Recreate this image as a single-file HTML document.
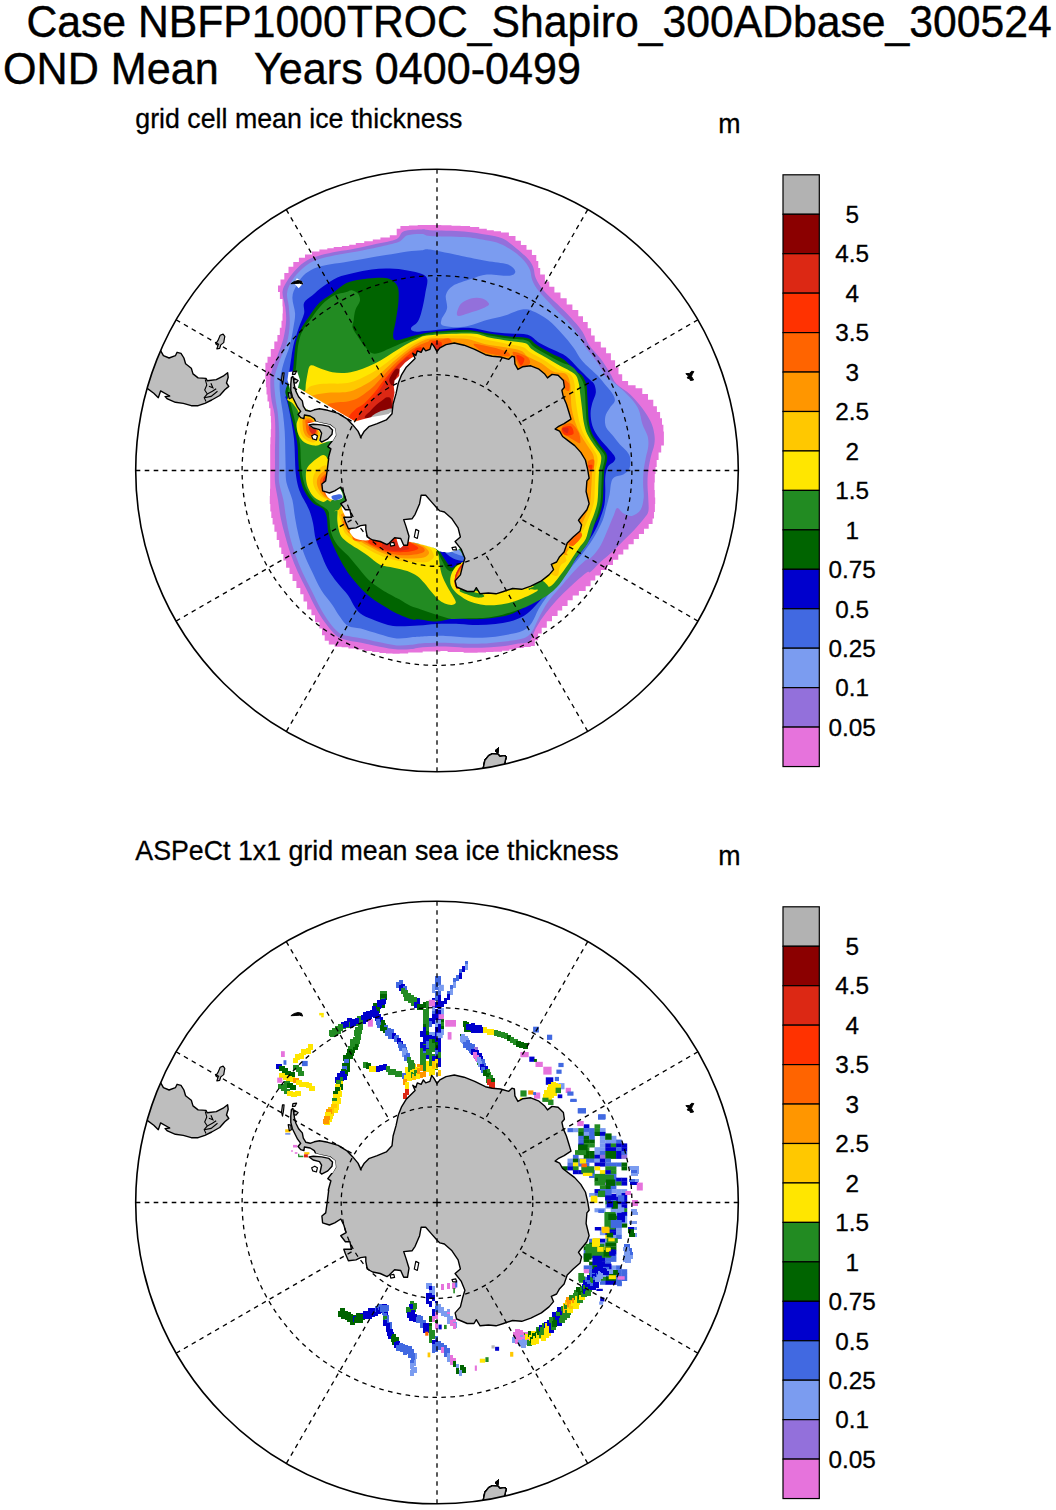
<!DOCTYPE html>
<html><head><meta charset="utf-8"><title>ice thickness</title>
<style>html,body{margin:0;padding:0;background:#fff}svg{display:block}text{font-family:"Liberation Sans",sans-serif;fill:#000}</style></head>
<body>
<svg width="1056" height="1510" viewBox="0 0 1056 1510">
<rect width="1056" height="1510" fill="#fff"/>
<defs><clipPath id="c1"><circle cx="437.0" cy="470.5" r="301.3"/></clipPath><clipPath id="c2"><circle cx="437.0" cy="1202.5" r="301.3"/></clipPath></defs>
<text transform="translate(26.4,37.3) scale(0.949,1)" font-size="45" stroke="#000" stroke-width="0.4" xml:space="preserve">Case NBFP1000TROC_Shapiro_300ADbase_300524</text>
<text transform="translate(3.0,84.2) scale(0.959,1)" font-size="45" stroke="#000" stroke-width="0.4" xml:space="preserve">OND Mean   Years 0400-0499</text>
<text transform="translate(135.3,127.7) scale(0.946,1)" font-size="28.3" stroke="#000" stroke-width="0.3" xml:space="preserve">grid cell mean ice thickness</text>
<text transform="translate(718.2,132.8) scale(0.946,1)" font-size="28.3" stroke="#000" stroke-width="0.3" xml:space="preserve">m</text>
<text transform="translate(135.3,859.7) scale(0.946,1)" font-size="28.3" stroke="#000" stroke-width="0.3" xml:space="preserve">ASPeCt 1x1 grid mean sea ice thickness</text>
<text transform="translate(718.2,864.8) scale(0.946,1)" font-size="28.3" stroke="#000" stroke-width="0.3" xml:space="preserve">m</text>
<g clip-path="url(#c1)">
<path d="M265.4,369.3L265.4,362.8L267.5,362.8L267.5,356.8L270.8,356.8L270.8,349.0L274.3,349.0L274.3,341.5L277.4,341.5L277.4,335.1L279.8,335.1L279.8,327.8L281.5,327.8L281.5,320.8L282.5,320.8L282.5,313.6L282.8,313.6L282.8,306.4L282.5,306.4L282.5,299.1L279.9,299.1L279.9,292.0L278.0,292.0L278.0,285.6L280.5,285.6L280.5,279.4L284.3,279.4L284.3,272.9L288.5,272.9L288.5,266.8L293.3,266.8L293.3,262.0L298.9,262.0L298.9,257.8L305.0,257.8L305.0,254.4L312.0,254.4L312.0,251.5L319.4,251.5L319.4,249.5L327.3,249.5L327.3,248.2L333.7,248.2L333.7,246.9L341.9,246.9L341.9,245.9L349.2,245.9L349.2,244.8L355.8,244.8L355.8,243.1L364.2,243.1L364.2,241.2L372.8,241.2L372.8,239.5L380.4,239.5L380.4,237.4L389.8,237.4L389.8,235.3L396.7,235.3L396.7,228.8L400.4,228.8L400.4,226.1L408.9,226.1L408.9,225.6L417.7,225.6L417.7,225.1L424.6,225.1L424.6,225.1L432.8,225.1L441.3,225.1L441.3,225.3L451.5,225.3L451.5,225.7L460.7,225.7L460.7,226.1L470.1,226.1L470.1,227.1L479.2,227.1L479.2,228.8L486.8,228.8L486.8,230.2L493.8,230.2L493.8,231.2L501.0,231.2L501.0,232.4L508.9,232.4L508.9,235.9L515.5,235.9L515.5,240.7L520.9,240.7L520.9,245.0L526.5,245.0L526.5,249.7L531.9,249.7L531.9,255.0L536.3,255.0L536.3,261.0L538.3,261.0L538.3,268.0L540.2,268.0L540.2,274.5L544.9,274.5L544.9,281.4L549.3,281.4L549.3,286.8L554.4,286.8L554.4,292.4L560.5,292.4L560.5,298.2L566.7,298.2L566.7,304.4L572.4,304.4L572.4,310.0L578.3,310.0L578.3,316.3L583.0,316.3L583.0,321.9L587.7,321.9L587.7,328.3L591.1,328.3L591.1,335.6L594.7,335.6L594.7,341.8L600.8,341.8L600.8,347.6L606.1,347.6L606.1,353.2L610.9,353.2L610.9,360.2L615.1,360.2L615.1,367.2L618.5,367.2L618.5,374.3L622.2,374.3L622.2,380.9L628.1,380.9L628.1,385.2L635.6,385.2L635.6,388.3L642.3,388.3L642.3,393.9L648.0,393.9L648.0,399.7L653.3,399.7L653.3,406.3L656.9,406.3L656.9,411.9L660.1,411.9L660.1,418.2L662.0,418.2L662.0,424.7L663.4,424.7L663.4,431.4L663.9,431.4L663.9,438.1L663.9,445.6L661.2,445.6L661.2,452.5L658.6,452.5L658.6,459.9L656.7,459.9L656.7,467.1L655.5,467.1L655.5,474.1L654.8,474.1L654.8,482.6L654.4,482.6L654.4,490.0L654.8,490.0L654.8,497.4L655.2,497.4L655.2,504.1L654.9,504.1L654.9,512.1L654.0,512.1L654.0,518.5L652.6,518.5L652.6,524.1L648.7,524.1L648.7,528.8L644.0,528.8L644.0,534.0L638.9,534.0L638.9,539.1L633.7,539.1L633.7,544.3L628.5,544.3L628.5,549.5L623.3,549.5L623.3,554.6L618.3,554.6L618.3,559.8L613.0,559.8L613.0,565.0L607.0,565.0L607.0,570.1L601.0,570.1L601.0,575.6L595.3,575.6L595.3,580.5L590.6,580.5L590.6,586.2L585.7,586.2L585.7,590.9L578.9,590.9L578.9,595.5L572.7,595.5L572.7,600.3L567.6,600.3L567.6,605.9L562.2,605.9L562.2,610.6L557.6,610.6L557.6,615.9L552.0,615.9L552.0,621.2L546.8,621.2L546.8,627.8L541.7,627.8L541.7,633.5L538.1,633.5L538.1,640.2L534.8,640.2L534.8,646.0L530.7,646.0L530.7,647.1L523.7,647.1L523.7,648.1L516.4,648.1L516.4,649.5L509.3,649.5L509.3,650.8L502.0,650.8L502.0,651.7L493.4,651.7L493.4,652.1L486.0,652.1L486.0,652.5L477.6,652.5L477.6,652.7L470.2,652.7L470.2,652.7L463.6,652.7L463.6,651.9L454.8,651.9L447.6,651.9L447.6,651.2L447.6,651.1L440.4,651.1L440.4,651.4L430.9,651.4L422.7,651.4L422.7,651.8L422.7,652.6L415.6,652.6L408.2,652.6L408.2,653.5L399.7,653.5L399.7,653.8L392.5,653.8L392.5,653.5L385.9,653.5L385.9,652.9L379.4,652.9L379.4,652.1L372.1,652.1L372.1,650.9L363.7,650.9L363.7,649.6L356.2,649.6L356.2,648.5L348.4,648.5L348.4,647.3L341.6,647.3L341.6,646.7L334.7,646.7L334.7,644.5L328.8,644.5L328.8,640.8L324.7,640.8L324.7,635.3L322.0,635.3L322.0,628.4L319.4,628.4L319.4,622.3L315.0,622.3L315.0,615.2L311.4,615.2L311.4,609.6L307.1,609.6L307.1,601.6L303.5,601.6L303.5,594.2L300.3,594.2L300.3,588.0L296.4,588.0L296.4,581.0L292.5,581.0L292.5,573.9L289.5,573.9L289.5,567.8L286.1,567.8L286.1,560.5L283.4,560.5L283.4,554.0L281.3,554.0L281.3,547.4L279.2,547.4L279.2,540.1L276.7,540.1L276.7,531.8L274.4,531.8L274.4,524.5L272.6,524.5L272.6,518.0L271.3,518.0L271.3,511.4L270.3,511.4L270.3,504.1L269.8,504.1L269.8,495.9L270.0,495.9L270.0,488.7L270.2,488.7L270.2,480.4L270.2,480.4L270.2,473.7L270.2,473.7L270.2,467.1L270.2,459.0L270.2,459.0L270.2,452.1L270.2,452.1L270.2,444.2L270.4,444.2L270.4,437.3L270.8,437.3L270.8,429.3L271.1,429.3L271.1,422.6L270.9,422.6L270.9,415.9L270.4,415.9L270.4,408.3L269.1,408.3L269.1,401.6L267.5,401.6L267.5,394.4L266.5,394.4L266.5,387.2L265.9,387.2L265.9,379.1L265.3,379.1L265.3,372.0L265.2,372.0L265.2,369.3Z" fill="#e673dc"/>
<path d="M270.8,374.7C271.8,368.0 275.0,362.7 277.1,356.7C279.2,350.7 281.9,344.7 283.4,338.7C284.9,332.8 285.8,326.2 286.1,320.8C286.4,315.4 285.8,311.2 285.2,306.4C284.6,301.6 282.2,296.2 282.5,292.0C282.8,287.8 284.7,284.9 287.0,281.2C289.2,277.4 292.7,272.9 296.0,269.5C299.3,266.0 302.6,262.9 306.8,260.5C311.0,258.1 316.1,256.6 321.2,255.1C326.3,253.6 331.7,252.6 337.4,251.5C343.1,250.4 348.8,249.7 355.4,248.4C362.0,247.1 370.1,245.3 376.9,243.7C383.8,242.2 392.2,241.0 396.7,238.9C401.2,236.8 399.7,232.7 403.9,231.2C408.1,229.6 417.6,229.5 421.9,229.4C426.3,229.2 423.0,229.9 430.0,230.2C437.0,230.6 454.6,230.6 464.1,231.4C473.6,232.1 480.4,233.6 486.8,234.8C493.3,236.0 497.8,236.4 502.7,238.6C507.7,240.9 512.2,245.1 516.4,248.4C520.5,251.7 524.9,255.4 527.7,258.6C530.6,261.9 532.1,264.5 533.4,267.7C534.7,270.9 534.0,274.2 535.7,278.0C537.4,281.7 540.0,286.1 543.6,290.5C547.2,294.8 552.7,299.5 557.3,304.1C561.8,308.6 566.7,313.2 570.9,317.7C575.1,322.3 579.2,326.8 582.3,331.4C585.3,335.9 586.1,340.5 589.1,345.0C592.1,349.5 597.0,354.1 600.5,358.6C603.9,363.2 606.9,368.0 609.5,372.3C612.2,376.5 613.0,380.4 616.5,384.1C619.9,387.8 625.9,390.4 630.2,394.4C634.5,398.5 638.8,403.6 642.3,408.2C645.7,412.8 648.9,417.7 650.9,422.0C652.9,426.3 653.8,430.3 654.3,434.1C654.9,437.8 654.9,440.7 654.3,444.4C653.8,448.1 651.9,452.1 650.9,456.5C649.9,460.8 648.9,465.6 648.3,470.2C647.7,474.8 647.5,479.1 647.5,484.0C647.5,488.9 648.2,494.9 648.3,499.5C648.5,504.1 649.0,508.4 648.3,511.6C647.6,514.7 646.4,515.3 644.0,518.5C641.6,521.6 637.1,526.8 633.7,530.5C630.2,534.2 626.8,537.4 623.3,540.8C619.9,544.3 616.7,547.7 613.0,551.2C609.3,554.6 604.7,558.1 601.0,561.5C597.2,565.0 593.0,570.0 590.6,571.8C588.2,573.7 589.7,570.3 586.4,572.7C583.0,575.1 575.4,581.8 570.5,586.4C565.5,590.9 561.0,595.5 556.8,600.0C552.7,604.5 548.9,609.1 545.5,613.6C542.0,618.2 539.0,622.7 536.4,627.3C533.7,631.8 532.6,638.2 529.5,640.9C526.5,643.6 523.1,642.7 518.2,643.6C513.3,644.6 506.1,645.9 500.0,646.6C493.9,647.3 487.9,647.5 481.8,647.7C475.8,647.9 469.7,647.9 463.6,647.7C457.6,647.5 452.3,646.7 445.5,646.6C438.6,646.5 428.7,646.8 422.7,647.3C416.7,647.7 414.3,649.1 409.3,649.3C404.4,649.6 398.8,649.6 393.1,649.0C387.4,648.4 381.1,646.9 375.1,645.7C369.2,644.6 362.3,643.2 357.2,642.1C352.1,641.1 348.2,640.6 344.6,639.4C341.0,638.2 338.9,637.8 335.6,634.9C332.3,632.1 328.1,626.8 324.8,622.3C321.5,617.8 318.8,613.4 315.8,608.0C312.8,602.6 309.8,596.0 306.8,590.0C303.8,584.0 300.5,578.0 297.8,572.0C295.1,566.0 292.7,560.0 290.6,554.0C288.5,548.0 286.8,542.0 285.2,536.0C283.5,530.0 281.9,524.0 280.7,518.0C279.5,512.0 278.9,506.0 278.0,500.0C277.0,494.0 275.5,488.1 275.0,482.3C274.5,476.5 275.0,470.9 275.0,465.2C275.0,459.5 274.9,453.9 275.0,448.2C275.1,442.5 275.4,436.8 275.3,431.1C275.3,425.5 275.2,419.8 274.5,414.1C273.8,408.4 271.7,403.6 271.1,397.0C270.5,390.5 269.8,381.4 270.8,374.7Z" fill="#9370db"/>
<path d="M274.4,378.3C275.1,372.2 277.7,366.3 279.8,360.3C281.9,354.3 285.3,348.3 287.0,342.3C288.6,336.3 289.4,330.4 289.7,324.4C290.0,318.4 289.2,311.5 288.8,306.4C288.3,301.3 286.7,297.7 287.0,293.8C287.3,289.9 288.6,286.6 290.6,283.0C292.5,279.4 295.5,275.5 298.7,272.2C301.8,268.9 305.4,265.5 309.5,263.2C313.5,260.8 318.0,259.6 323.0,258.1C327.9,256.7 333.5,255.7 339.2,254.5C344.9,253.4 350.6,252.7 357.2,251.5C363.8,250.2 371.9,248.6 378.7,247.0C385.6,245.4 393.7,243.9 398.5,242.0C403.3,240.0 403.6,236.6 407.5,235.3C411.4,234.0 418.2,233.9 421.9,234.0C425.7,234.1 423.0,235.4 430.0,235.9C437.0,236.4 455.0,236.4 464.1,237.0C473.2,237.7 478.5,238.9 484.5,240.0C490.6,241.1 495.5,241.9 500.5,243.9C505.4,245.8 510.1,249.0 514.1,251.8C518.1,254.7 521.7,257.9 524.3,260.9C527.0,263.9 528.7,266.8 530.0,270.0C531.3,273.2 530.8,276.6 532.3,280.2C533.8,283.8 535.7,287.2 539.1,291.6C542.5,295.9 548.2,301.6 552.7,306.4C557.3,311.1 562.2,315.5 566.4,320.0C570.5,324.5 574.5,329.1 577.7,333.6C580.9,338.2 582.5,342.5 585.7,347.3C588.9,352.0 593.6,357.1 597.0,362.0C600.5,367.0 604.1,374.0 606.1,376.8C608.2,379.6 607.0,376.9 609.6,378.9C612.1,381.0 617.9,385.8 621.6,389.3C625.4,392.7 629.1,396.2 632.0,399.6C634.8,403.1 637.1,405.9 638.8,409.9C640.6,414.0 640.9,419.4 642.3,423.7C643.7,428.0 646.4,432.1 647.5,435.8C648.5,439.5 648.6,442.4 648.3,446.1C648.0,449.8 646.5,454.2 645.7,458.2C645.0,462.2 644.1,465.9 643.7,470.2C643.2,474.5 643.1,479.4 643.1,484.0C643.1,488.6 644.1,493.5 643.7,497.8C643.2,502.1 642.5,506.8 640.6,509.8C638.6,512.9 634.8,515.3 632.0,515.9C629.1,516.4 625.8,514.6 623.3,513.3C620.9,512.0 618.9,507.8 617.3,508.1C615.7,508.4 615.2,512.1 613.9,515.0C612.6,517.9 611.1,521.6 609.6,525.3C608.0,529.1 606.1,533.7 604.4,537.4C602.7,541.1 601.5,544.3 599.2,547.7C596.9,551.2 593.1,555.8 590.6,558.1C588.1,560.3 587.1,558.9 584.1,561.4C581.1,563.8 576.9,568.2 572.7,572.7C568.6,577.3 563.3,583.7 559.1,588.6C554.9,593.6 551.1,597.3 547.7,602.3C544.3,607.2 541.3,613.3 538.6,618.2C536.0,623.1 534.5,628.4 531.8,631.8C529.2,635.2 528.0,636.9 522.7,638.6C517.4,640.3 506.8,641.2 500.0,642.0C493.2,642.9 487.9,643.4 481.8,643.6C475.8,643.9 469.7,643.8 463.6,643.6C457.6,643.5 452.3,642.8 445.5,642.7C438.6,642.7 428.4,642.8 422.7,643.2C417.0,643.5 415.5,644.5 411.1,644.8C406.8,645.2 402.1,645.8 396.7,645.4C391.3,644.9 384.7,643.3 378.7,642.1C372.8,640.9 366.2,639.2 360.8,638.2C355.4,637.1 350.0,636.7 346.4,635.8C342.8,635.0 342.0,635.4 339.2,633.1C336.3,630.9 332.4,626.5 329.3,622.3C326.1,618.1 323.3,613.4 320.3,608.0C317.3,602.6 314.3,596.0 311.3,590.0C308.3,584.0 305.0,578.0 302.3,572.0C299.6,566.0 297.2,560.0 295.1,554.0C293.0,548.0 291.2,542.0 289.7,536.0C288.2,530.0 287.1,524.0 286.1,518.0C285.0,512.0 284.6,506.0 283.4,500.0C282.2,494.0 279.8,488.1 279.1,482.3C278.4,476.5 279.1,470.9 279.1,465.2C279.1,459.5 279.1,453.9 279.1,448.2C279.1,442.5 279.3,436.8 279.1,431.1C278.9,425.5 278.5,419.8 277.9,414.1C277.3,408.4 275.9,403.0 275.3,397.0C274.8,391.1 273.7,384.4 274.4,378.3Z" fill="#7b9cf0"/>
<path d="M279.8,381.9C280.3,376.4 281.7,369.9 283.4,363.9C285.0,357.9 288.0,351.9 289.7,345.9C291.3,339.9 292.4,333.4 293.3,328.0C294.2,322.6 295.2,318.7 295.1,313.6C294.9,308.5 292.2,301.9 292.4,297.4C292.5,292.9 294.2,290.2 296.0,286.6C297.8,283.0 300.2,278.8 303.2,275.8C306.2,272.8 310.1,270.4 314.0,268.6C317.9,266.8 321.5,266.0 326.6,265.0C331.7,263.9 338.3,263.3 344.6,262.3C350.9,261.2 357.5,259.9 364.4,258.7C371.3,257.5 378.7,256.3 385.9,255.1C393.1,253.9 401.5,252.3 407.5,251.5C413.5,250.7 418.2,250.6 421.9,250.2C425.7,249.9 423.0,248.5 430.0,249.5C437.0,250.6 454.6,254.5 464.1,256.4C473.6,258.3 479.6,259.6 486.8,260.9C494.0,262.2 502.5,262.6 507.3,264.3C512.0,266.0 514.8,269.2 515.2,271.1C515.6,273.0 514.3,275.1 509.5,275.7C504.8,276.2 493.3,274.0 486.8,274.5C480.4,275.1 476.6,277.2 470.9,279.1C465.2,281.0 456.9,283.3 452.7,285.9C448.6,288.6 446.9,291.2 445.9,295.0C445.0,298.8 447.8,304.5 447.0,308.6C446.3,312.8 441.9,317.2 441.4,320.0C440.8,322.8 439.8,324.5 443.6,325.7C447.4,326.8 456.9,327.8 464.1,326.8C471.3,325.9 480.0,321.9 486.8,320.0C493.6,318.1 499.3,317.2 505.0,315.5C510.7,313.8 516.4,310.5 520.9,309.8C525.5,309.0 527.7,309.2 532.3,310.9C536.8,312.6 543.3,316.2 548.2,320.0C553.1,323.8 557.7,329.1 561.8,333.6C566.0,338.2 569.8,342.7 573.2,347.3C576.6,351.8 578.2,356.2 582.3,360.9C586.3,365.6 593.5,371.3 597.5,375.5C601.5,379.7 603.5,382.7 606.1,385.8C608.7,389.0 611.6,391.9 613.0,394.4C614.4,397.0 615.3,399.0 614.7,401.3C614.2,403.6 611.1,405.6 609.6,408.2C608.0,410.8 605.8,413.7 605.3,416.8C604.7,420.0 604.8,424.0 606.1,427.2C607.4,430.3 610.7,432.9 613.0,435.8C615.3,438.7 617.6,441.8 619.9,444.4C622.2,447.0 625.1,449.0 626.8,451.3C628.5,453.6 629.8,455.3 630.2,458.2C630.7,461.0 630.5,465.8 629.4,468.5C628.2,471.2 625.8,473.1 623.3,474.5C620.9,476.0 616.7,475.8 614.7,477.1C612.7,478.4 612.1,479.4 611.3,482.3C610.4,485.2 610.4,490.0 609.6,494.3C608.7,498.6 607.3,503.8 606.1,508.1C605.0,512.4 604.8,515.1 602.7,520.2C600.5,525.3 596.7,532.9 593.2,538.6C589.7,544.4 585.6,549.6 581.8,554.5C578.0,559.5 574.2,563.6 570.5,568.2C566.7,572.7 562.9,577.3 559.1,581.8C555.3,586.4 551.1,590.9 547.7,595.5C544.3,600.0 541.3,604.5 538.6,609.1C536.0,613.6 534.5,619.1 531.8,622.7C529.2,626.3 527.3,628.6 522.7,630.7C518.2,632.8 510.6,634.1 504.5,635.2C498.5,636.4 492.4,637.1 486.4,637.5C480.3,637.9 475.0,637.8 468.2,637.5C461.4,637.2 453.0,636.1 445.5,635.9C437.9,635.7 428.1,636.2 422.7,636.4C417.3,636.6 417.3,636.7 412.9,637.1C408.6,637.5 402.4,639.0 396.7,638.5C391.0,638.0 384.7,635.7 378.7,634.0C372.8,632.4 365.9,630.0 360.8,628.6C355.7,627.3 351.6,627.9 348.2,625.9C344.7,624.0 342.8,620.5 340.1,616.9C337.4,613.4 335.1,608.9 332.0,604.4C328.8,599.9 324.5,595.4 321.2,590.0C317.9,584.6 315.0,578.0 312.2,572.0C309.3,566.0 306.3,560.0 304.1,554.0C301.8,548.0 300.2,542.0 298.7,536.0C297.2,530.0 296.1,524.0 295.1,518.0C294.0,512.0 293.8,506.0 292.4,500.0C290.9,494.0 287.6,488.1 286.4,482.3C285.3,476.5 285.8,470.9 285.6,465.2C285.4,459.5 285.4,453.9 285.2,448.2C285.1,442.5 285.1,436.8 284.7,431.1C284.3,425.5 283.7,419.8 283.0,414.1C282.3,408.4 281.0,402.4 280.5,397.0C279.9,391.7 279.3,387.4 279.8,381.9Z" fill="#4169e1"/>
<path d="M457.3,315.5C455.9,313.9 458.4,306.9 460.7,304.1C463.0,301.2 467.3,299.4 470.9,298.4C474.5,297.5 479.2,297.5 482.3,298.4C485.3,299.4 489.1,302.4 489.1,304.1C489.1,305.8 485.7,307.1 482.3,308.6C478.9,310.2 472.8,312.0 468.6,313.2C464.5,314.3 458.6,317.0 457.3,315.5Z" fill="#9370db"/>
<path d="M285.5,398.1C285.9,395.6 286.9,388.8 287.9,381.9C288.9,375.0 290.4,363.3 291.5,356.7C292.5,350.1 293.0,347.1 294.2,342.3C295.4,337.5 297.0,332.8 298.7,328.0C300.3,323.2 303.2,317.8 304.1,313.6C305.0,309.4 302.7,305.8 304.1,302.8C305.4,299.8 309.0,298.3 312.2,295.6C315.3,292.9 318.8,289.6 323.0,286.6C327.2,283.6 332.3,279.8 337.4,277.6C342.5,275.3 347.9,274.4 353.6,273.1C359.3,271.7 365.6,270.2 371.6,269.5C377.5,268.7 383.5,268.4 389.5,268.6C395.5,268.7 402.1,269.5 407.5,270.4C412.9,271.3 418.6,272.5 421.9,274.0C425.2,275.5 426.7,276.4 427.3,279.4C427.9,282.4 426.3,287.5 425.5,292.0C424.8,296.5 424.0,301.6 422.8,306.4C421.6,311.2 420.3,317.2 418.3,320.8C416.4,324.4 411.7,326.2 411.1,328.0C410.5,329.8 411.7,331.1 414.7,331.6C417.7,332.0 422.8,331.1 429.1,330.7C435.5,330.2 445.8,329.1 452.7,328.6C459.7,328.2 464.8,327.5 470.9,328.0C477.0,328.4 482.7,330.4 489.1,331.4C495.5,332.3 503.1,333.1 509.5,333.6C516.0,334.2 522.8,333.3 527.7,334.8C532.7,336.3 534.9,340.3 539.1,342.7C543.3,345.2 548.2,347.3 552.7,349.5C557.3,351.8 562.2,353.3 566.4,356.4C570.5,359.4 573.9,363.9 577.7,367.7C581.5,371.5 586.4,376.4 589.1,379.1C591.8,381.8 592.9,381.8 594.1,384.1C595.2,386.4 596.1,389.6 595.8,392.7C595.5,395.9 593.2,399.6 592.3,403.1C591.5,406.5 590.6,409.7 590.6,413.4C590.6,417.1 591.2,421.7 592.3,425.4C593.5,429.2 595.2,432.3 597.5,435.8C599.8,439.2 603.2,442.7 606.1,446.1C609.0,449.6 613.4,453.9 614.7,456.5C616.0,459.0 615.0,459.9 613.9,461.6C612.7,463.3 609.3,464.2 607.8,466.8C606.4,469.4 605.7,473.1 605.3,477.1C604.8,481.1 605.4,486.3 605.3,490.9C605.1,495.5 605.3,500.1 604.4,504.7C603.5,509.3 601.6,514.3 600.1,518.5C598.6,522.6 597.9,524.9 595.5,529.5C593.0,534.2 588.8,541.3 585.2,546.6C581.6,551.9 577.8,556.6 573.9,561.4C569.9,566.1 565.3,570.3 561.4,575.0C557.4,579.7 553.8,585.2 550.0,589.8C546.2,594.3 542.4,598.3 538.6,602.3C534.8,606.2 531.4,610.6 527.3,613.6C523.1,616.7 518.9,618.8 513.6,620.5C508.3,622.2 501.5,623.1 495.5,623.9C489.4,624.6 483.3,625.0 477.3,625.0C471.2,625.0 465.9,624.1 459.1,623.9C452.3,623.7 443.2,623.6 436.4,623.9C429.5,624.1 425.4,625.1 418.2,625.5C411.0,625.8 400.3,626.8 393.1,625.9C386.0,625.1 380.2,622.3 375.1,620.5C370.1,618.7 365.9,617.2 362.6,615.1C359.3,613.1 357.8,611.3 355.4,608.0C353.0,604.7 351.2,599.6 348.2,595.4C345.2,591.2 340.8,587.3 337.4,582.8C333.9,578.3 330.2,573.2 327.5,568.4C324.8,563.6 323.1,558.8 321.2,554.0C319.2,549.2 317.1,544.7 315.8,539.6C314.4,534.5 314.1,528.2 313.1,523.4C312.0,518.6 311.0,514.7 309.5,510.8C308.0,506.9 305.2,502.2 304.1,500.0C302.9,497.8 303.6,499.7 302.6,497.6C301.7,495.5 299.5,491.4 298.4,487.4C297.2,483.4 296.4,478.9 295.8,473.7C295.2,468.6 295.2,462.4 294.9,456.7C294.7,451.0 294.7,445.3 294.1,439.7C293.5,434.0 292.5,428.3 291.5,422.6C290.5,416.9 289.1,409.8 288.1,405.6C287.1,401.3 286.0,398.3 285.6,397.0C285.1,395.8 285.2,400.6 285.5,398.1Z" fill="#0000cd"/>
<path d="M287.3,398.7C286.6,395.3 284.7,394.5 285.6,390.2C286.4,385.9 290.9,378.5 292.4,372.9C293.8,367.4 293.6,361.8 294.2,356.7C294.8,351.6 294.9,346.8 296.0,342.3C297.0,337.8 298.4,333.9 300.5,329.8C302.6,325.6 305.4,321.7 308.6,317.2C311.7,312.7 315.5,306.7 319.4,302.8C323.3,298.9 327.5,297.1 332.0,293.8C336.5,290.5 341.6,285.4 346.4,283.0C351.2,280.6 356.0,280.2 360.8,279.4C365.6,278.5 370.4,278.0 375.1,277.9C379.9,277.9 385.8,277.6 389.5,279.0C393.3,280.5 396.1,282.9 397.6,286.6C399.1,290.2 398.8,295.3 398.5,301.0C398.2,306.7 396.7,315.1 395.8,320.8C394.9,326.5 393.0,331.9 393.1,335.1C393.3,338.4 393.4,340.0 396.7,340.2C400.0,340.3 407.5,337.3 412.9,336.0C418.3,334.8 422.5,333.4 429.1,332.5C435.8,331.5 445.8,330.6 452.7,330.2C459.7,329.9 464.8,329.7 470.9,330.2C477.0,330.8 482.7,332.6 489.1,333.6C495.5,334.7 503.1,335.6 509.5,336.4C516.0,337.1 523.2,336.7 527.7,338.2C532.3,339.6 533.0,342.5 536.8,345.0C540.6,347.5 545.9,350.5 550.5,353.0C555.0,355.4 559.9,356.7 564.1,359.8C568.3,362.8 572.5,368.5 575.5,371.1C578.4,373.8 580.2,373.3 582.0,375.5C583.8,377.7 585.4,381.0 586.3,384.1C587.2,387.3 586.9,390.4 587.2,394.4C587.5,398.5 587.7,403.6 588.0,408.2C588.3,412.8 588.2,417.7 588.9,422.0C589.6,426.3 590.6,430.3 592.3,434.1C594.1,437.8 596.9,441.2 599.2,444.4C601.5,447.6 604.8,450.4 606.1,453.0C607.4,455.6 607.3,457.0 607.0,459.9C606.7,462.8 605.0,466.2 604.4,470.2C603.8,474.2 603.8,478.8 603.5,484.0C603.2,489.2 603.4,496.1 602.7,501.2C602.0,506.4 601.0,510.5 599.2,515.0C597.5,519.5 594.9,523.5 592.0,528.4C589.1,533.3 585.4,539.2 581.8,544.3C578.2,549.4 574.2,554.4 570.5,559.1C566.7,563.8 562.9,568.2 559.1,572.7C555.3,577.3 551.5,582.2 547.7,586.4C543.9,590.5 540.5,594.1 536.4,597.7C532.2,601.3 527.3,605.1 522.7,608.0C518.2,610.8 514.4,613.1 509.1,614.8C503.8,616.5 497.0,617.4 490.9,618.2C484.8,618.9 478.8,619.3 472.7,619.3C466.7,619.3 460.6,617.8 454.5,618.2C448.5,618.6 442.4,621.4 436.4,621.6C430.3,621.8 422.1,619.6 418.2,619.3C414.3,619.0 416.5,620.6 412.9,619.6C409.4,618.7 401.5,615.6 396.7,613.4C391.9,611.1 388.3,608.7 384.1,606.2C379.9,603.6 375.4,601.1 371.6,598.1C367.7,595.1 364.4,591.9 360.8,588.2C357.2,584.4 353.3,580.1 350.0,575.6C346.7,571.1 343.7,566.0 341.0,561.2C338.3,556.4 335.9,551.6 333.8,546.8C331.7,542.0 329.6,537.5 328.4,532.4C327.2,527.3 327.6,520.2 326.6,516.2C325.5,512.1 324.4,510.3 322.1,508.1C319.8,505.9 315.8,505.6 312.8,502.7C309.9,499.8 306.4,495.1 304.3,490.8C302.2,486.5 301.0,482.0 300.1,477.2C299.1,472.3 298.8,467.2 298.4,461.8C297.9,456.4 298.2,450.5 297.5,444.8C296.8,439.1 295.4,433.4 294.1,427.7C292.8,422.0 291.0,415.5 289.8,410.7C288.7,405.9 288.0,402.2 287.3,398.7Z" fill="#006400"/>
<path d="M289.8,399.6C289.1,396.3 287.2,395.5 288.1,391.1C289.0,386.6 293.6,378.7 295.1,372.9C296.5,367.2 296.3,361.8 296.9,356.7C297.5,351.6 297.6,346.8 298.7,342.3C299.7,337.8 300.9,333.9 303.2,329.8C305.4,325.6 309.0,321.4 312.2,317.2C315.3,313.0 318.5,308.2 322.1,304.6C325.7,301.0 329.7,297.7 333.8,295.6C337.8,293.5 343.4,292.9 346.4,292.0C349.4,291.1 349.8,289.9 351.8,290.2C353.7,290.5 356.7,292.0 358.1,293.8C359.4,295.6 360.3,298.3 359.9,301.0C359.4,303.7 356.4,306.7 355.4,310.0C354.3,313.3 354.0,317.8 353.6,320.8C353.1,323.8 351.9,325.3 352.7,328.0C353.4,330.7 356.1,333.9 358.1,336.9C360.0,339.9 362.1,343.2 364.4,345.9C366.6,348.6 369.2,351.9 371.6,353.1C373.9,354.3 375.7,353.9 378.7,353.1C381.7,352.4 385.3,350.4 389.5,348.6C393.7,346.8 399.1,344.3 403.9,342.3C408.7,340.4 413.5,338.4 418.3,336.9C423.1,335.4 424.0,334.2 432.7,333.4C441.5,332.5 461.5,331.5 470.9,331.8C480.3,332.2 482.7,334.3 489.1,335.5C495.5,336.6 503.3,337.8 509.5,338.6C515.8,339.5 522.4,339.0 526.6,340.5C530.8,341.9 530.9,344.8 534.5,347.3C538.1,349.7 543.6,352.7 548.2,355.2C552.7,357.8 557.8,360.6 561.8,362.5C565.9,364.4 569.6,364.7 572.5,366.9C575.5,369.1 577.6,372.6 579.4,375.5C581.3,378.4 582.8,381.0 583.7,384.1C584.7,387.3 584.8,390.4 585.1,394.4C585.4,398.5 585.5,403.6 585.8,408.2C586.1,412.8 586.1,417.7 586.8,422.0C587.6,426.3 588.6,430.3 590.3,434.1C591.9,437.8 594.3,441.1 596.6,444.4C598.9,447.7 602.7,451.3 604.1,453.9C605.4,456.5 605.0,457.2 604.7,459.9C604.5,462.6 602.9,466.2 602.3,470.2C601.8,474.2 601.8,478.8 601.5,484.0C601.2,489.2 601.3,496.1 600.6,501.2C599.9,506.4 599.1,508.5 597.2,515.0C595.2,521.5 591.6,534.3 589.1,540.2C586.6,546.1 584.4,547.6 582.3,550.5C580.2,553.3 578.5,554.4 576.6,557.3C574.7,560.1 573.0,564.1 570.9,567.5C568.8,570.9 566.4,574.5 564.1,577.7C561.8,580.9 559.9,584.0 557.3,586.8C554.6,589.7 551.6,592.3 548.2,594.8C544.8,597.2 540.6,599.5 536.8,601.6C533.0,603.7 529.2,605.7 525.5,607.3C521.7,608.9 517.9,610.0 514.1,611.2C510.3,612.5 506.5,613.7 502.7,614.7C498.9,615.6 495.2,616.4 491.4,616.9C487.6,617.5 484.4,617.8 480.0,618.1C475.6,618.3 470.0,618.4 465.2,618.5C460.5,618.6 455.6,619.2 451.6,618.9C447.6,618.5 444.8,617.3 441.4,616.3C438.0,615.3 434.5,614.0 431.1,612.9C427.7,611.8 424.3,610.6 420.9,609.5C417.5,608.3 414.1,607.6 410.7,606.1C407.3,604.5 402.8,601.4 400.5,600.1C398.1,598.8 399.8,599.7 396.7,598.1C393.7,596.4 387.1,593.1 382.3,590.0C377.5,586.8 372.2,583.1 368.0,579.2C363.8,575.3 360.5,570.5 357.2,566.6C353.9,562.7 351.5,559.4 348.2,555.8C344.9,552.2 340.2,548.9 337.4,545.0C334.5,541.1 332.4,536.9 331.1,532.4C329.7,527.9 329.9,521.7 329.3,518.0C328.7,514.2 329.8,512.7 327.5,509.9C325.2,507.1 318.8,504.7 315.4,501.4C312.0,498.0 309.0,494.0 306.9,489.9C304.7,485.9 303.6,481.8 302.6,477.2C301.6,472.5 301.3,467.2 300.9,461.8C300.5,456.4 300.8,450.5 300.1,444.8C299.3,439.1 297.9,433.4 296.6,427.7C295.4,422.0 293.5,415.4 292.4,410.7C291.2,406.0 290.5,402.9 289.8,399.6Z" fill="#228b22"/>
<path d="M335.0,511.2C333.1,512.0 337.0,509.1 337.4,510.8C337.8,512.5 336.9,517.7 337.4,521.6C337.8,525.5 338.6,530.9 340.1,534.2C341.6,537.5 343.5,539.0 346.4,541.4C349.2,543.8 353.6,546.2 357.2,548.6C360.8,551.0 364.1,553.1 368.0,555.8C371.8,558.5 375.7,562.7 380.0,564.7C384.3,566.6 389.1,566.6 393.6,567.7C398.2,568.8 403.3,569.7 407.3,571.1C411.2,572.6 414.7,574.3 417.5,576.2C420.3,578.2 422.0,580.5 424.3,583.1C426.6,585.6 428.9,588.9 431.1,591.6C433.4,594.3 435.7,597.3 438.0,599.3C440.2,601.2 442.5,602.6 444.8,603.5C447.0,604.5 449.7,605.0 451.6,604.9C453.4,604.7 455.6,604.0 455.8,602.7C456.1,601.3 454.6,599.1 453.3,596.7C452.0,594.3 449.9,591.3 448.2,588.2C446.5,585.1 444.3,581.1 443.1,578.0C441.8,574.8 441.1,572.3 440.5,569.4C439.9,566.6 439.7,563.7 439.3,560.9C438.9,558.1 438.7,554.5 438.0,552.4C437.2,550.3 437.1,549.4 434.5,548.1C432.0,546.8 426.9,545.7 422.6,544.7C418.4,543.7 413.3,543.6 409.0,542.2C404.7,540.7 403.6,540.0 396.7,536.0C389.9,532.0 375.1,524.0 368.0,518.0C360.8,512.0 356.8,502.0 353.6,500.0C350.3,498.0 351.7,504.3 348.6,506.1C345.5,508.0 336.9,510.5 335.0,511.2Z" fill="#ffe600"/>
<path d="M339.2,509.0C337.1,512.6 340.1,517.7 341.0,521.6C341.9,525.5 342.8,529.5 344.6,532.4C346.4,535.2 348.8,536.4 351.8,538.7C354.8,540.9 359.0,543.6 362.6,545.9C366.2,548.1 369.5,550.2 373.4,552.2C377.2,554.1 381.4,556.1 385.9,557.6C390.4,559.1 395.5,560.4 400.3,561.2C405.1,561.9 410.2,561.9 414.7,562.1C419.2,562.2 424.2,562.8 427.3,562.1C430.5,561.3 432.7,559.2 433.6,557.6C434.5,555.9 433.5,553.8 432.7,552.2C432.0,550.5 430.9,549.0 429.1,547.7C427.3,546.3 424.6,544.8 421.9,544.1C419.2,543.3 417.1,544.5 412.9,543.2C408.7,541.8 404.2,540.2 396.7,536.0C389.2,531.8 375.1,524.0 368.0,518.0C360.8,512.0 358.4,501.5 353.6,500.0C348.8,498.5 341.3,505.4 339.2,509.0Z" fill="#ffc800"/>
<path d="M341.9,516.2C341.0,518.9 343.2,524.0 344.6,527.0C345.9,530.0 347.6,531.9 350.0,534.2C352.4,536.4 355.7,538.4 359.0,540.5C362.3,542.6 365.9,544.7 369.8,546.8C373.6,548.9 377.8,551.3 382.3,553.1C386.8,554.9 391.9,556.7 396.7,557.6C401.5,558.5 406.6,558.5 411.1,558.5C415.6,558.5 420.7,558.5 423.7,557.6C426.7,556.7 428.8,554.7 429.1,553.1C429.4,551.4 427.3,549.2 425.5,547.7C423.7,546.2 423.1,546.0 418.3,544.1C413.5,542.1 405.1,540.3 396.7,536.0C388.3,531.6 375.7,522.2 368.0,518.0C360.2,513.8 354.3,511.1 350.0,510.8C345.6,510.5 342.8,513.5 341.9,516.2Z" fill="#ff9600"/>
<path d="M348.2,530.6C346.1,533.0 353.0,534.3 355.4,536.0C357.8,537.6 359.6,538.7 362.6,540.5C365.6,542.3 369.5,544.8 373.4,546.8C377.2,548.7 381.7,550.8 385.9,552.2C390.1,553.5 394.3,554.4 398.5,554.9C402.7,555.3 407.2,555.2 411.1,554.9C415.0,554.6 419.7,554.0 421.9,553.1C424.2,552.2 425.2,550.8 424.6,549.5C424.0,548.1 423.0,547.2 418.3,545.0C413.7,542.7 405.1,539.9 396.7,536.0C388.3,532.1 376.0,522.5 368.0,521.6C359.9,520.7 350.3,528.2 348.2,530.6Z" fill="#ff6400"/>
<path d="M368.0,541.4C368.0,543.8 373.6,545.1 376.9,546.8C380.2,548.4 383.8,550.4 387.7,551.3C391.6,552.2 396.4,552.2 400.3,552.2C404.2,552.2 408.1,551.9 411.1,551.3C414.1,550.7 418.0,549.8 418.3,548.6C418.6,547.4 416.5,546.2 412.9,544.1C409.3,542.0 402.7,537.9 396.7,536.0C390.7,534.0 381.7,531.5 376.9,532.4C372.2,533.3 368.0,539.0 368.0,541.4Z" fill="#ff3200"/>
<path d="M382.3,547.7C383.5,549.2 388.0,549.9 391.3,550.4C394.6,550.8 399.1,550.7 402.1,550.4C405.1,550.1 409.0,549.5 409.3,548.6C409.6,547.7 406.6,546.5 403.9,545.0C401.2,543.5 396.4,540.2 393.1,539.6C389.8,539.0 385.9,540.0 384.1,541.4C382.3,542.7 381.1,546.2 382.3,547.7Z" fill="#dc2814"/>
<path d="M436.2,549.0C435.8,547.3 438.1,550.0 439.7,550.7C441.2,551.4 443.6,552.1 445.6,553.2C447.6,554.4 449.2,556.6 451.6,557.5C454.0,558.4 458.1,557.8 460.1,558.4C462.1,558.9 464.2,559.5 463.5,560.9C462.8,562.3 457.7,565.2 455.8,566.9C454.0,568.6 453.9,570.7 452.4,571.1C451.0,571.6 449.0,571.1 447.3,569.4C445.6,567.7 444.1,564.3 442.2,560.9C440.4,557.5 436.7,550.7 436.2,549.0Z" fill="#006400"/>
<path d="M439.7,550.7C439.2,548.7 443.6,552.2 445.6,552.7C447.6,553.3 449.2,553.4 451.6,554.1C454.0,554.7 458.1,555.5 460.1,556.6C462.2,557.8 464.6,559.5 463.9,560.9C463.1,562.3 457.9,564.0 455.8,565.2C453.8,566.3 452.9,567.9 451.6,567.7C450.3,567.6 450.2,567.2 448.2,564.3C446.2,561.5 440.1,552.6 439.7,550.7Z" fill="#0000cd"/>
<path d="M445.6,552.4C445.3,551.3 449.5,551.8 451.6,552.0C453.7,552.3 456.4,553.0 458.4,553.7C460.4,554.5 462.9,555.5 463.9,556.6C464.8,557.8 465.6,560.6 463.9,560.9C462.1,561.2 456.3,559.8 453.3,558.4C450.3,556.9 445.9,553.4 445.6,552.4Z" fill="#4169e1"/>
<path d="M451.6,551.5C450.5,550.4 454.4,549.1 455.8,549.0C457.3,548.8 459.1,549.5 460.1,550.7C461.2,551.8 463.6,555.7 462.2,555.8C460.7,555.9 452.6,552.7 451.6,551.5Z" fill="#7b9cf0"/>
<path d="M462.7,562.3C461.1,562.8 457.0,565.4 455.0,567.7C453.0,570.1 451.4,573.4 450.7,576.2C450.0,579.1 450.0,582.2 450.7,584.8C451.4,587.3 453.4,589.7 455.0,591.6C456.6,593.4 457.8,594.3 460.1,595.8C462.4,597.4 465.2,599.5 468.6,601.0C472.0,602.4 476.3,603.7 480.6,604.4C484.8,605.1 489.7,605.4 494.2,605.2C498.7,605.0 503.3,604.3 507.8,603.2C512.4,602.1 517.2,600.4 521.5,598.7C525.7,597.1 530.7,594.8 533.4,593.3C536.1,591.8 538.5,591.0 537.7,589.5C536.8,588.1 531.8,585.0 528.3,584.8C524.7,584.5 521.2,587.0 516.4,588.2C511.5,589.3 505.0,591.0 499.3,591.6C493.6,592.2 487.4,592.2 482.3,591.6C477.2,591.0 472.3,590.7 468.6,588.2C464.9,585.6 460.8,580.2 460.1,576.2C459.4,572.3 463.9,566.6 464.4,564.3C464.8,562.0 464.2,561.7 462.7,562.3Z" fill="#ffe600"/>
<path d="M460.1,591.6C461.2,592.7 465.8,594.0 468.6,595.0C471.5,596.0 474.6,597.3 477.2,597.6C479.7,597.8 483.1,597.3 484.0,596.7C484.8,596.1 483.7,594.9 482.3,594.1C480.8,593.4 477.7,593.0 475.4,592.4C473.2,591.9 470.9,591.4 468.6,590.7C466.4,590.0 463.2,588.0 461.8,588.2C460.4,588.3 459.0,590.5 460.1,591.6Z" fill="#228b22"/>
<path d="M528.3,589.0C528.7,589.5 536.5,589.9 537.7,589.5C538.8,589.2 536.7,586.9 535.1,586.8C533.5,586.7 527.9,588.6 528.3,589.0Z" fill="#228b22"/>
<path d="M463.5,563.3C462.7,564.3 460.1,566.9 458.7,569.1C457.4,571.2 456.1,573.8 455.5,576.2C454.9,578.7 454.7,581.9 455.0,583.9C455.3,586.0 456.7,587.8 457.0,588.5" fill="none" stroke="#ffc800" stroke-width="5.0" transform="translate(2.2,0)"/>
<path d="M463.5,563.3C462.7,564.3 460.1,566.9 458.7,569.1C457.4,571.2 456.1,573.8 455.5,576.2C454.9,578.7 454.7,581.9 455.0,583.9C455.3,586.0 456.7,587.8 457.0,588.5" fill="none" stroke="#ff9600" stroke-width="3.6" transform="translate(1.5,0)"/>
<path d="M463.5,563.3C462.7,564.3 460.1,566.9 458.7,569.1C457.4,571.2 456.1,573.8 455.5,576.2C454.9,578.7 454.7,581.9 455.0,583.9C455.3,586.0 456.7,587.8 457.0,588.5" fill="none" stroke="#ff6400" stroke-width="2.4" transform="translate(0.9,0)"/>
<path d="M463.5,563.3C462.7,564.3 460.1,566.9 458.7,569.1C457.4,571.2 456.1,573.8 455.5,576.2C454.9,578.7 454.7,581.9 455.0,583.9C455.3,586.0 456.7,587.8 457.0,588.5" fill="none" stroke="#dc2814" stroke-width="1.3" transform="translate(0.4,0)"/>
<path d="M287.3,399.6C287.1,400.7 291.2,401.4 293.2,403.9C295.2,406.3 298.6,410.7 299.2,414.1C299.8,417.5 296.8,420.9 296.6,424.3C296.5,427.7 297.1,431.6 298.4,434.5C299.6,437.5 301.6,440.4 304.3,442.2C307.0,444.1 311.7,445.3 314.5,445.6C317.4,445.9 319.1,444.8 321.4,443.9C323.6,443.1 326.5,442.6 328.2,440.5C329.9,438.4 334.4,435.5 331.6,431.1C328.7,426.7 317.4,419.8 311.1,414.1C304.9,408.4 298.1,399.5 294.1,397.0C290.1,394.6 287.4,398.5 287.3,399.6Z" fill="#ffe600"/>
<path d="M300.9,416.6C299.0,417.9 299.5,421.5 299.5,424.3C299.5,427.2 299.8,431.1 300.9,433.7C302.0,436.2 303.7,438.2 306.0,439.7C308.3,441.1 312.0,443.6 314.5,442.2C317.1,440.8 321.9,435.4 321.4,431.1C320.8,426.9 314.5,419.1 311.1,416.6C307.7,414.2 302.8,415.4 300.9,416.6Z" fill="#ffc800"/>
<path d="M303.5,418.4C302.0,419.3 302.5,421.9 302.6,424.3C302.7,426.7 303.0,430.6 304.0,432.8C305.0,435.1 306.5,437.1 308.6,438.0C310.6,438.8 314.7,439.7 316.2,438.0C317.8,436.2 318.8,431.0 318.0,427.7C317.1,424.5 313.5,419.9 311.1,418.4C308.7,416.8 304.9,417.4 303.5,418.4Z" fill="#ff9600"/>
<path d="M305.7,420.1C304.8,420.8 305.5,422.3 305.7,424.3C305.9,426.3 306.0,430.0 306.9,432.0C307.7,434.0 309.2,435.8 310.8,436.2C312.4,436.7 315.3,436.2 316.2,434.5C317.2,432.8 317.1,428.4 316.2,426.0C315.4,423.6 312.9,421.0 311.1,420.1C309.4,419.1 306.6,419.3 305.7,420.1Z" fill="#ff6400"/>
<path d="M308.1,421.8C307.1,422.0 308.3,424.5 308.6,426.0C308.9,427.6 309.1,429.7 309.8,431.1C310.5,432.6 311.8,434.5 312.8,434.5C313.9,434.5 316.0,432.8 316.2,431.1C316.5,429.4 315.9,425.9 314.5,424.3C313.2,422.8 309.1,421.5 308.1,421.8Z" fill="#dc2814"/>
<path d="M323.1,455.0C325.6,454.7 326.8,457.3 328.2,460.1C329.6,462.9 331.0,465.5 331.6,472.0C332.2,478.6 332.2,494.8 331.6,499.3C331.0,503.9 329.6,498.9 328.2,499.3C326.8,499.7 325.3,502.2 323.1,501.9C320.8,501.6 317.0,499.7 314.5,497.6C312.1,495.5 310.0,492.2 308.6,489.1C307.2,486.0 306.3,482.3 306.0,478.9C305.7,475.4 305.7,471.5 306.9,468.6C308.0,465.8 310.1,464.1 312.8,461.8C315.5,459.5 320.5,455.3 323.1,455.0Z" fill="#ffe600"/>
<path d="M325.6,465.2C327.6,465.5 328.0,466.4 329.0,472.0C330.0,477.7 332.0,494.8 331.6,499.3C331.2,503.9 328.6,500.2 326.5,499.3C324.3,498.5 320.9,496.5 318.8,494.2C316.7,491.9 314.6,488.5 313.7,485.7C312.8,482.8 312.6,479.7 313.2,477.2C313.7,474.6 315.0,472.3 317.1,470.3C319.2,468.3 323.6,464.9 325.6,465.2Z" fill="#ffc800"/>
<path d="M327.3,470.3C328.7,470.8 329.2,470.9 329.9,475.4C330.6,480.0 332.3,493.9 331.6,497.6C330.9,501.3 327.5,498.5 325.6,497.6C323.8,496.8 321.9,494.6 320.5,492.5C319.1,490.4 317.6,487.2 317.1,484.8C316.6,482.4 316.9,480.0 317.6,478.0C318.3,476.0 319.7,474.2 321.4,472.9C323.0,471.6 325.9,469.9 327.3,470.3Z" fill="#ff9600"/>
<path d="M328.2,472.9C329.7,473.2 330.2,475.0 330.7,478.9C331.3,482.7 332.4,493.1 331.6,495.9C330.7,498.7 327.3,497.0 325.6,495.9C324.0,494.8 322.6,491.4 321.7,489.1C320.8,486.8 320.0,484.3 320.0,482.3C320.0,480.3 320.3,478.7 321.7,477.2C323.1,475.6 326.7,472.6 328.2,472.9Z" fill="#ff6400"/>
<path d="M328.2,474.6C329.2,475.4 330.5,479.9 330.7,482.3C331.0,484.7 330.9,487.9 329.9,489.1C328.9,490.2 326.0,490.2 324.8,489.1C323.6,487.9 322.8,484.3 322.7,482.3C322.7,480.3 323.5,478.4 324.4,477.2C325.3,475.9 327.1,473.7 328.2,474.6Z" fill="#dc2814"/>
<path d="M338.7,509.5C337.6,510.4 340.4,512.1 341.5,514.7C342.6,517.2 343.7,521.8 345.2,524.9C346.7,528.0 348.6,530.9 350.3,533.4C352.0,535.9 353.5,538.9 355.4,540.0C357.4,541.2 361.1,542.6 362.3,540.0C363.4,537.5 364.5,530.0 362.3,524.9C360.0,519.8 352.6,512.1 348.6,509.5C344.7,507.0 339.9,508.7 338.7,509.5Z" fill="#ffc800"/>
<path d="M341.0,514.7C340.1,515.5 342.6,516.1 343.5,518.1C344.5,520.0 345.3,523.9 346.6,526.6C347.9,529.3 349.9,532.0 351.2,534.3C352.5,536.5 352.8,539.1 354.6,540.0C356.4,541.0 361.0,542.6 362.3,540.0C363.5,537.5 364.5,529.4 362.3,524.9C360.0,520.4 352.2,514.7 348.6,512.9C345.1,511.2 341.8,513.8 341.0,514.7Z" fill="#ff9600"/>
<path d="M343.2,521.5C341.9,522.0 346.3,526.0 347.8,528.3C349.3,530.6 351.0,533.1 352.0,535.1C353.0,537.1 352.0,539.2 353.7,540.0C355.4,540.9 362.0,542.6 362.3,540.0C362.6,537.5 358.6,528.0 355.4,524.9C352.3,521.8 344.5,520.9 343.2,521.5Z" fill="#ff6400"/>
<path d="M304.4,392.7C306.0,392.2 305.4,386.7 305.9,383.6C306.4,380.6 306.7,377.6 307.4,374.5C308.2,371.5 308.3,366.5 310.5,365.5C312.6,364.4 316.6,367.3 320.3,368.5C324.0,369.6 328.4,371.5 332.4,372.3C336.5,373.0 340.5,373.3 344.5,373.0C348.6,372.8 352.6,371.9 356.7,370.8C360.7,369.6 364.7,368.0 368.8,366.2C372.8,364.4 376.9,362.4 380.9,360.2C384.9,357.9 389.0,355.1 393.0,352.6C397.1,350.1 401.1,347.3 405.2,345.0C409.2,342.7 413.2,340.6 417.3,338.9C421.3,337.3 420.5,336.0 429.4,335.2C438.3,334.3 461.0,333.2 470.9,333.6C480.9,334.0 482.7,336.3 489.1,337.5C495.5,338.7 503.5,340.0 509.5,340.9C515.6,341.9 521.7,341.7 525.5,343.2C529.2,344.6 528.9,347.2 532.3,349.5C535.7,351.9 541.4,354.8 545.9,357.5C550.5,360.2 554.8,362.7 559.5,365.5C564.3,368.2 571.1,371.0 574.3,373.8C577.4,376.6 577.6,378.9 578.6,382.4C579.6,385.8 579.7,390.1 580.3,394.4C580.9,398.8 581.4,403.6 582.0,408.2C582.6,412.8 582.9,417.7 583.7,422.0C584.6,426.3 585.4,430.2 587.2,434.1C588.9,437.9 591.8,441.8 594.1,445.3C596.3,448.7 599.5,452.0 600.6,454.7C601.8,457.5 601.2,459.0 601.0,461.6C600.7,464.2 599.7,466.5 599.2,470.2C598.8,474.0 598.7,478.8 598.4,484.0C598.1,489.2 598.2,496.4 597.5,501.2C596.8,506.1 595.7,509.3 594.4,513.3C593.1,517.3 591.2,521.0 589.8,525.3C588.3,529.6 587.5,535.3 585.7,539.1C583.9,542.9 581.1,545.0 578.9,548.2C576.6,551.4 574.3,555.0 572.0,558.4C569.8,561.8 567.5,565.4 565.2,568.6C563.0,571.9 560.5,575.1 558.4,577.7C556.3,580.4 554.4,583.0 552.7,584.5C551.0,586.1 549.3,587.0 548.2,586.8C547.0,586.6 550.6,587.9 545.9,583.4C541.2,578.9 538.2,578.8 520.0,560.0C501.8,541.2 464.5,493.6 437.0,470.5C409.5,447.4 378.7,435.5 355.2,421.5C331.7,407.5 304.6,391.5 296.1,386.7C287.6,381.9 302.8,393.2 304.4,392.7Z" fill="#ffe600"/>
<path d="M304.4,391.2C306.7,391.2 307.6,387.8 309.7,386.7C311.8,385.5 314.0,384.9 317.3,384.4C320.6,383.9 325.4,383.8 329.4,383.6C333.4,383.5 337.5,384.0 341.5,383.6C345.6,383.3 349.6,382.6 353.6,381.4C357.7,380.1 362.0,378.0 365.8,376.1C369.5,374.2 372.8,372.3 376.4,370.0C379.9,367.7 383.2,365.2 387.0,362.4C390.8,359.6 395.1,356.4 399.1,353.3C403.1,350.3 407.2,346.6 411.2,344.2C415.3,341.8 419.3,340.3 423.3,338.9C427.4,337.6 430.6,336.5 435.5,335.9C440.4,335.3 446.8,335.5 452.7,335.5C458.6,335.5 465.2,335.2 470.9,335.9C476.6,336.6 480.8,338.4 486.8,339.8C492.9,341.1 501.2,342.6 507.3,343.9C513.3,345.1 519.4,345.9 523.2,347.3C527.0,348.7 526.6,350.2 530.0,352.3C533.4,354.4 539.1,357.0 543.6,359.8C548.2,362.5 552.9,366.5 557.3,368.9C561.7,371.2 567.1,371.5 569.9,373.8C572.8,376.0 573.4,378.9 574.3,382.4C575.1,385.8 574.7,390.1 575.1,394.4C575.5,398.8 576.1,403.6 576.8,408.2C577.6,412.8 578.3,417.7 579.4,422.0C580.6,426.3 581.9,430.2 583.7,434.1C585.6,437.9 588.5,441.8 590.6,445.3C592.8,448.7 595.5,452.0 596.6,454.7C597.8,457.5 597.6,459.0 597.5,461.6C597.4,464.2 596.2,466.5 595.8,470.2C595.4,474.0 595.2,478.8 594.9,484.0C594.6,489.2 594.8,496.4 594.1,501.2C593.3,506.1 591.9,509.6 590.6,513.3C589.3,517.0 587.9,520.2 586.3,523.6C584.7,527.1 583.2,530.5 581.1,534.0C579.1,537.4 576.8,541.0 574.3,544.3C571.7,547.6 567.0,551.0 565.6,553.8C564.3,556.5 567.0,559.0 566.4,560.7C565.7,562.4 563.0,563.0 561.8,564.1C560.7,565.2 560.9,565.6 559.5,567.5C558.2,569.4 560.5,578.4 553.9,575.5C547.3,572.5 539.5,567.5 520.0,550.0C500.5,532.5 464.5,491.9 437.0,470.5C409.5,449.1 378.7,435.5 355.2,421.5C331.7,407.5 304.6,391.7 296.1,386.7C287.6,381.7 302.1,391.2 304.4,391.2Z" fill="#ffc800"/>
<path d="M308.2,395.8C311.1,396.6 314.0,394.7 317.3,394.2C320.6,393.7 324.1,393.0 327.9,392.7C331.7,392.4 336.2,392.7 340.0,392.4C343.8,392.2 347.1,392.2 350.6,391.2C354.1,390.3 357.7,388.4 361.2,386.7C364.7,384.9 368.5,382.9 371.8,380.6C375.1,378.3 377.9,375.7 380.9,373.0C383.9,370.4 386.7,367.6 390.0,364.7C393.3,361.8 397.1,358.5 400.6,355.6C404.1,352.7 407.7,349.7 411.2,347.3C414.7,344.9 418.3,342.7 421.8,341.2C425.4,339.7 427.3,338.7 432.4,338.2C437.6,337.7 446.7,338.0 452.7,338.2C458.8,338.4 463.3,338.4 468.6,339.3C473.9,340.3 478.5,342.5 484.5,343.9C490.6,345.2 498.9,346.1 505.0,347.3C511.1,348.4 517.1,349.2 520.9,350.7C524.7,352.2 524.3,354.3 527.7,356.4C531.1,358.4 537.0,360.6 541.4,363.2C545.7,365.8 549.8,370.1 553.9,371.8C557.9,373.6 563.0,372.0 565.6,373.8C568.3,375.5 569.1,378.9 569.9,382.4C570.8,385.8 570.5,390.1 570.8,394.4C571.1,398.8 571.0,403.6 571.7,408.2C572.4,412.8 573.7,417.7 575.1,422.0C576.6,426.3 578.3,430.2 580.3,434.1C582.3,437.9 585.0,441.8 587.2,445.3C589.3,448.7 592.1,452.0 593.2,454.7C594.3,457.5 594.2,459.0 594.1,461.6C593.9,464.2 592.8,466.5 592.3,470.2C591.9,474.0 591.8,478.8 591.5,484.0C591.1,489.2 591.0,496.6 590.3,501.2C589.6,505.8 588.4,508.1 587.2,511.6C585.9,515.0 584.4,518.5 582.9,521.9C581.3,525.3 579.6,529.1 577.7,532.2C575.8,535.4 573.5,538.3 571.7,540.8C569.8,543.4 567.0,546.5 566.5,547.7C566.0,549.0 568.7,547.4 568.6,548.2C568.6,549.0 567.1,551.7 566.4,552.7C565.6,553.8 571.8,556.6 564.1,554.4C556.4,552.3 541.2,554.0 520.0,540.0C498.8,526.0 464.5,490.2 437.0,470.5C409.5,450.8 378.0,435.1 355.2,421.5C332.4,407.9 307.8,393.3 300.0,389.0C292.2,384.7 305.3,394.9 308.2,395.8Z" fill="#ff9600"/>
<path d="M328.6,406.4C325.4,403.2 332.6,403.3 335.5,402.6C338.4,401.8 342.5,402.4 346.1,401.8C349.6,401.2 353.4,400.3 356.7,398.8C359.9,397.3 362.7,395.0 365.8,392.7C368.8,390.5 372.1,387.8 374.8,385.2C377.6,382.5 379.6,379.8 382.4,376.8C385.2,373.8 388.2,370.3 391.5,367.0C394.8,363.7 398.6,360.2 402.1,357.1C405.7,354.1 409.2,351.1 412.7,348.8C416.3,346.5 420.1,344.9 423.3,343.5C426.6,342.1 429.4,341.1 432.4,340.5C435.5,339.8 438.6,339.6 441.5,339.4C444.4,339.1 448.6,337.1 450.0,338.9C451.4,340.8 453.9,343.4 450.0,350.3C446.1,357.2 435.4,368.0 426.4,380.6C417.4,393.2 407.9,419.2 396.1,426.1C384.2,432.9 366.4,425.1 355.2,421.8C343.9,418.5 331.9,409.6 328.6,406.4Z" fill="#ff6400"/>
<path d="M349.1,417.7C348.1,415.8 352.9,411.5 355.2,409.4C357.4,407.2 360.2,406.9 362.7,404.8C365.3,402.8 367.8,400.1 370.3,397.3C372.8,394.5 375.5,391.2 377.9,388.2C380.3,385.2 382.2,382.2 384.7,379.1C387.2,375.9 390.1,372.4 393.0,369.2C395.9,366.1 399.1,362.9 402.1,360.2C405.2,357.4 408.7,354.6 411.2,352.6C413.7,350.6 415.5,348.4 417.3,348.0C419.0,347.7 422.8,344.9 421.8,350.3C420.8,355.7 415.5,369.2 411.2,380.6C406.9,392.0 404.4,411.8 396.1,418.5C387.7,425.2 369.0,420.9 361.2,420.8C353.4,420.6 350.1,419.6 349.1,417.7Z" fill="#ff3200"/>
<path d="M358.2,419.2C356.2,418.0 360.7,413.7 362.7,410.9C364.7,408.1 367.8,405.6 370.3,402.6C372.8,399.5 375.6,395.9 377.9,392.7C380.2,389.6 381.9,386.7 383.9,383.6C386.0,380.6 388.0,377.3 390.0,374.5C392.0,371.8 393.8,369.4 396.1,367.0C398.3,364.6 401.6,361.8 403.6,360.2C405.7,358.5 406.9,356.2 408.2,357.1C409.4,358.0 412.7,356.5 411.2,365.5C409.7,374.4 405.2,402.1 399.1,410.9C393.0,419.7 381.7,417.1 374.8,418.5C368.0,419.9 360.2,420.5 358.2,419.2Z" fill="#dc2814"/>
<path d="M365.0,417.7C363.2,416.7 368.4,413.1 370.3,410.9C372.2,408.8 374.3,406.6 376.4,404.8C378.4,403.1 380.7,401.6 382.4,400.3C384.2,399.0 385.6,397.5 387.0,397.3C388.4,397.0 389.9,397.0 390.8,398.8C391.6,400.6 391.9,405.4 392.3,407.9C392.7,410.4 394.9,412.4 393.0,413.9C391.1,415.5 385.6,416.3 380.9,417.0C376.2,417.6 366.8,418.7 365.0,417.7Z" fill="#8b0000"/>
<path d="M389.2,379.8C389.5,377.7 391.8,374.2 393.0,372.3C394.3,370.4 395.7,368.7 396.8,368.5C398.0,368.2 400.0,369.2 399.8,370.8C399.7,372.3 396.9,375.4 396.1,377.6C395.2,379.7 395.3,382.4 394.5,383.6C393.8,384.9 392.4,385.8 391.5,385.2C390.6,384.5 389.0,382.0 389.2,379.8Z" fill="#8b0000"/>
<path d="M371.1,417.7C370.1,417.2 373.2,415.1 374.8,413.9C376.5,412.8 378.9,411.7 380.9,410.9C382.9,410.2 385.2,409.8 387.0,409.4C388.7,409.0 390.5,408.4 391.5,408.6C392.5,408.9 393.3,409.9 393.0,410.9C392.8,411.9 392.0,413.7 390.0,414.7C388.0,415.7 384.1,416.5 380.9,417.0C377.8,417.5 372.1,418.2 371.1,417.7Z" fill="#b2b2b2"/>
<path d="M430.0,340.0C432.3,338.9 441.0,339.6 443.6,340.5C446.3,341.3 446.7,343.3 445.9,345.0C445.2,346.7 441.7,350.3 439.1,350.7C436.4,351.1 431.5,349.1 430.0,347.3C428.5,345.5 427.7,341.1 430.0,340.0Z" fill="#ff6400"/>
<path d="M475.5,343.9C480.0,344.2 499.5,348.6 505.0,350.7C510.5,352.8 511.4,356.0 508.4,356.4C505.4,356.7 491.9,354.3 486.8,353.0C481.7,351.6 479.6,349.9 477.7,348.4C475.8,346.9 470.9,343.5 475.5,343.9Z" fill="#ff6400"/>
<path d="M513.0,351.8C514.7,351.1 523.8,354.5 526.6,356.4C529.4,358.3 530.9,361.3 530.0,363.2C529.1,365.1 523.2,368.1 520.9,367.7C518.6,367.3 517.7,363.6 516.4,360.9C515.0,358.3 511.3,352.6 513.0,351.8Z" fill="#ff6400"/>
<path d="M563.0,379.1C563.6,378.1 568.1,381.7 569.1,383.6C570.1,385.5 569.7,389.5 569.1,390.5C568.4,391.4 566.2,391.2 565.2,389.3C564.2,387.4 562.3,380.0 563.0,379.1Z" fill="#ff6400"/>
<path d="M563.1,425.4C564.8,424.0 569.1,422.6 571.7,423.7C574.3,424.9 577.1,429.2 578.6,432.3C580.0,435.5 580.9,441.2 580.3,442.7C579.7,444.1 577.4,442.1 575.1,441.0C572.8,439.8 568.8,437.2 566.5,435.8C564.2,434.3 561.9,434.1 561.3,432.3C560.8,430.6 561.3,426.9 563.1,425.4Z" fill="#ff6400"/>
<path d="M588.0,461.6C588.9,459.9 593.2,458.5 594.1,459.9C594.9,461.3 594.1,468.5 593.2,470.2C592.3,472.0 589.8,471.7 588.9,470.2C588.0,468.8 587.2,463.3 588.0,461.6Z" fill="#ff6400"/>
<path d="M569.9,539.1C571.5,537.0 576.6,532.8 578.6,532.2C580.6,531.7 582.6,533.7 582.0,535.7C581.4,537.7 577.3,542.7 575.1,544.3C573.0,545.9 569.9,546.0 569.1,545.2C568.2,544.3 568.4,541.3 569.9,539.1Z" fill="#ff6400"/>
<path d="M570.9,543.6C571.9,541.9 577.2,537.4 578.9,535.7C580.6,534.0 581.3,532.7 581.1,533.4C580.9,534.2 579.1,538.1 577.7,540.2C576.4,542.3 574.3,545.3 573.2,545.9C572.0,546.5 570.0,545.3 570.9,543.6Z" fill="#ff6400"/>
<path d="M432.3,341.6C433.6,340.6 440.0,340.9 441.4,342.3C442.7,343.6 441.6,348.5 440.2,349.5C438.9,350.6 434.7,349.7 433.4,348.4C432.1,347.1 430.9,342.6 432.3,341.6Z" fill="#ff3200"/>
<path d="M516.4,355.2C516.9,354.1 523.6,356.9 524.3,358.6C525.1,360.3 522.2,366.0 520.9,365.5C519.6,364.9 515.8,356.4 516.4,355.2Z" fill="#ff3200"/>
<path d="M562.2,428.0C563.2,426.6 568.9,425.3 570.8,426.3C572.7,427.3 574.4,432.6 573.4,434.1C572.4,435.5 566.6,435.9 564.8,434.9C562.9,433.9 561.2,429.5 562.2,428.0Z" fill="#ff3200"/>
<path d="M588.0,465.9C588.2,465.2 591.8,464.5 592.3,465.1C592.9,465.6 592.2,469.2 591.5,469.4C590.8,469.5 587.9,466.6 588.0,465.9Z" fill="#ff3200"/>
<path d="M434.5,343.9C434.9,342.7 439.7,342.7 440.2,343.9C440.8,345.0 438.9,350.7 438.0,350.7C437.0,350.7 434.2,345.0 434.5,343.9Z" fill="#dc2814"/>
<path d="M562.2,428.9C562.3,428.0 567.4,427.3 568.2,428.0C569.1,428.8 568.4,433.1 567.4,433.2C566.4,433.3 562.1,429.8 562.2,428.9Z" fill="#dc2814"/>
<path d="M296.1,386.7L355.2,421.5L361.2,419.7L371.8,417.0L380.9,415.5L388.5,413.9L392.3,410.9L393.0,401.8L394.5,392.7L393.8,386.7L394.5,380.6L399.1,376.1L399.8,368.5L405.2,362.4L411.2,357.9L415.8,355.6L426.4,365.5L396.1,426.1L361.2,439.7L335.5,426.1L299.1,404.8Z" fill="#fff"/>
<path d="M288.5,372.0L297.0,371.0L300.0,380.0L297.0,391.0L290.0,389.0L287.5,380.0Z" fill="#fff"/>
<path d="M296.9,278.3L303.4,283.0L298.7,288.2L293.8,283.0Z" fill="#fff"/>
<path d="M408.1,541.8C410.4,541.5 420.0,544.1 422.6,544.7C425.3,545.3 432.8,547.4 434.5,548.1C436.2,548.8 438.3,551.1 439.7,551.5C441.0,552.0 446.6,552.5 448.2,552.4C449.7,552.3 453.8,551.1 455.0,550.7C456.2,550.3 459.7,549.4 460.4,548.3C461.2,547.2 462.5,543.8 462.0,540.0C461.5,536.2 457.5,514.2 455.0,510.0C452.5,505.8 440.0,500.0 437.0,498.0C434.0,496.0 427.5,489.8 425.0,490.0C422.5,490.2 414.6,497.5 412.0,500.0C409.4,502.5 400.6,511.5 399.0,515.0C397.4,518.5 395.9,531.7 396.0,535.0C396.1,538.3 398.8,547.3 400.0,548.0C401.2,548.7 405.9,542.1 408.1,541.8Z" fill="#fff"/>
<path d="M324.8,489.1C325.3,486.5 329.0,482.3 331.6,482.3C334.1,482.3 338.3,486.5 340.1,489.1C342.0,491.6 343.5,495.8 342.7,497.6C341.8,499.5 337.4,500.2 335.0,500.2C332.6,500.2 329.9,499.5 328.2,497.6C326.5,495.8 324.2,491.6 324.8,489.1Z" fill="#fff"/>
<path d="M341.8,506.1C342.5,505.0 346.8,506.1 348.6,507.8C350.5,509.5 352.9,514.4 352.9,516.4C352.9,518.3 350.1,520.0 348.6,519.8C347.2,519.5 345.5,516.9 344.4,514.7C343.2,512.4 341.1,507.3 341.8,506.1Z" fill="#fff"/>
<path d="M350.3,530.0C351.5,528.3 359.7,527.7 362.3,528.3C364.8,528.9 364.5,531.4 365.7,533.4C366.8,535.4 370.8,539.2 369.1,540.0C367.4,540.9 358.6,540.2 355.4,538.5C352.3,536.8 349.2,531.7 350.3,530.0Z" fill="#fff"/>
<path d="M344.6,507.2C345.2,505.7 350.1,507.2 351.8,509.0C353.4,510.8 355.1,516.5 354.5,518.0C353.9,519.5 349.8,519.8 348.2,518.0C346.5,516.2 344.0,508.7 344.6,507.2Z" fill="#fff"/>
<path d="M350.0,530.6C351.5,528.8 361.4,524.6 364.4,525.2C367.4,525.8 369.5,532.4 368.0,534.2C366.5,536.0 358.4,536.6 355.4,536.0C352.4,535.4 348.5,532.4 350.0,530.6Z" fill="#fff"/>
<path d="M331.6,496.2C332.4,495.2 338.3,494.0 340.1,494.2C341.9,494.4 343.0,496.6 342.2,497.6C341.3,498.6 336.8,500.6 335.0,500.3C333.2,500.1 330.7,497.3 331.6,496.2Z" fill="#4169e1"/>
<path d="M437.0,351.7L434.0,346.4L431.7,343.4L429.9,349.4L425.7,350.9L423.4,347.9L421.1,352.4L417.3,350.9L415.8,355.5L412.8,353.2L415.1,358.5L411.3,362.3L406.0,367.6L401.4,375.2L398.4,382.7L396.1,393.4L393.1,404.0L392.0,413.8L386.3,419.9L377.2,423.7L368.8,426.7L364.3,431.2L360.5,437.6L361.1,437.9L358.0,431.1L352.8,424.9L346.6,418.6L338.2,413.4L327.8,410.3L319.5,408.7L314.3,409.8L310.1,411.3L305.9,410.3L303.3,406.1L302.3,400.9L298.6,396.7L296.0,391.5L294.5,386.3L294.0,382.2L292.9,376.4L291.4,377.5L290.8,384.2L290.8,390.5L292.4,396.7L295.0,402.0L297.6,407.2L300.7,411.3L298.1,414.5L300.7,417.6L303.9,418.6L304.4,415.0L310.1,416.0L314.3,418.6L315.8,421.7L321.6,423.3L329.9,424.9L335.1,429.0L335.6,435.3L332.5,440.5L327.8,446.7L330.9,448.8L329.4,454.0L328.3,458.2L328.7,458.2L327.2,470.3L325.7,480.9L321.9,484.0L322.6,490.8L329.4,493.0L334.7,490.8L340.8,487.0L343.8,493.0L346.1,500.6L340.8,503.7L345.4,509.7L349.9,509.7L351.4,517.3L343.8,517.3L345.4,521.8L348.4,528.7L356.0,527.9L360.5,525.6L365.8,524.9L365.8,529.4L367.3,537.0L372.6,540.0L380.2,541.5L387.0,544.6L389.3,543.0L394.6,537.7L400.7,538.5L403.7,545.3L407.5,545.3L409.0,536.2L406.0,526.4L403.7,519.6L412.0,518.8L415.1,514.3L419.6,503.7L421.1,495.3L425.7,495.3L431.7,502.1L437.8,509.0L439.9,510.9L444.4,512.0L452.0,518.8L458.1,527.9L460.4,537.0L455.1,541.5L461.1,549.1L464.9,558.2L462.6,565.8L460.4,574.9L455.1,580.9L456.6,587.0L467.2,591.5L474.0,591.5L476.3,587.7L480.1,593.8L488.4,593.0L496.0,593.8L503.5,591.5L512.6,588.5L521.7,589.3L530.8,586.2L541.4,580.9L549.0,574.9L553.5,569.6L551.3,564.3L556.6,562.0L559.6,556.7L564.1,552.1L567.2,543.0L573.2,537.0L580.1,530.9L581.6,524.9L578.5,520.3L580.8,517.3L586.9,509.7L589.1,503.7L586.1,491.5L586.9,480.9L589.1,478.2L587.6,469.1L585.4,460.0L580.8,452.4L574.7,445.6L568.7,441.1L562.6,436.5L559.6,431.2L555.1,429.0L558.1,426.7L564.1,423.7L571.0,419.1L568.7,411.5L566.4,404.0L563.4,397.1L561.9,390.3L564.4,387.3L563.4,380.5L558.1,375.2L552.0,374.4L547.5,377.9L544.4,373.7L538.4,368.8L530.8,365.8L522.5,366.8L517.9,369.4L514.9,363.8L514.4,357.0L511.9,356.2L508.8,359.3L500.5,357.0L492.2,356.2L485.4,354.7L474.7,349.4L464.1,345.2L454.3,343.0L446.0,344.6L439.9,347.9Z" fill="#bebebe" stroke="#000" stroke-width="1.4" stroke-linejoin="round"/>
<path d="M307.5,423.6L315.8,421.5L321.6,423.1L329.9,424.7L335.3,428.8L335.9,435.3L332.8,440.7L327.8,441.5L321.6,443.1L319.0,441.0L320.5,433.2L318.4,430.1L313.2,428.5L308.5,425.4Z" fill="#fff"/>
<path d="M309.1,424.9L313.2,428.0L319.5,429.6L321.6,433.2L320.0,440.5L321.6,442.1L327.8,438.9L332.0,434.2L332.5,430.1L328.9,426.4L321.6,424.9L313.2,424.3Z" fill="#bebebe" stroke="#000" stroke-width="1.4" stroke-linejoin="round"/>
<path d="M311.7,435.8L314.8,434.2L317.4,435.8L316.4,440.0L312.7,438.9Z" fill="#fff" stroke="#000" stroke-width="1.2" stroke-linejoin="round"/>
<path d="M282.5,372.8L284.1,372.8L283.5,379.0L282.5,384.2L281.5,380.1Z" fill="#bebebe" stroke="#000" stroke-width="1.2" stroke-linejoin="round"/>
<path d="M292.9,371.7L296.6,371.2L295.0,374.3L292.4,374.3Z" fill="#bebebe" stroke="#000" stroke-width="1.2" stroke-linejoin="round"/>
<path d="M294.0,378.0L298.1,380.6L296.0,383.2L294.0,382.7Z" fill="#bebebe" stroke="#000" stroke-width="1.2" stroke-linejoin="round"/>
<path d="M288.2,392.6L290.8,393.1L291.4,397.8L289.3,398.8Z" fill="#bebebe" stroke="#000" stroke-width="1.2" stroke-linejoin="round"/>
<path d="M160.6,350.6L163.4,355.7L169.1,358.0L175.4,355.7L177.1,352.3L181.0,353.4L183.9,358.0L185.6,363.7L191.3,368.2L193.0,373.9L198.1,377.9L206.0,378.4L207.2,380.7L216.3,379.6L223.1,376.2L227.6,372.7L228.2,377.3L226.5,383.0L228.8,386.4L224.8,389.8L219.7,395.5L211.7,400.0L204.9,403.4L198.1,405.7L191.3,405.7L183.3,403.4L175.4,402.3L167.4,398.9L165.1,396.6L169.7,396.0L160.6,390.9L158.3,397.7L153.8,393.2L146.9,388.1L136.7,397.7L136.7,375.0L146.9,352.3Z" fill="#bebebe" stroke="#000" stroke-width="1.4" stroke-linejoin="round"/>
<path d="M220.2,335.2L223.1,334.1L224.8,336.4L223.7,342.6L220.8,344.9L219.7,348.3L216.8,348.9L218.0,345.5L215.7,343.8L218.0,340.4Z" fill="#bebebe" stroke="#000" stroke-width="1.2" stroke-linejoin="round"/>
<path d="M205.2,379.3L206.8,384.9L204.7,390.0L207.3,393.9L204.2,397.7L206.0,401.5" fill="none" stroke="#000" stroke-width="1.1"/>
<path d="M483.4,767.7L484.9,760.2L488.7,755.6L492.5,753.7L497.8,754.1L500.1,756.4L504.6,755.6L506.1,757.1L504.6,763.6L505.4,772.3L482.6,772.3Z" fill="#bebebe" stroke="#000" stroke-width="1.4" stroke-linejoin="round"/>
<path d="M495.1,750.7L498.5,747.7L497.8,753.0Z" fill="#000" stroke="#000" stroke-width="1" stroke-linejoin="round"/>
<path d="M207.3,393.9L212.4,391.3L216.2,388.7" fill="none" stroke="#000" stroke-width="1.1"/>
<path d="M483.4,767.7L484.9,760.2L488.7,755.6L492.5,753.7L497.8,754.1L500.1,756.4L504.6,755.6L506.1,757.1L504.6,763.6L505.4,772.3L482.6,772.3Z" fill="#bebebe" stroke="#000" stroke-width="1.4" stroke-linejoin="round"/>
<path d="M495.1,750.7L498.5,747.7L497.8,753.0Z" fill="#000" stroke="#000" stroke-width="1" stroke-linejoin="round"/>
<path d="M204.2,397.7L211.1,396.4L217.5,391.3" fill="none" stroke="#000" stroke-width="1.1"/>
<path d="M483.4,767.7L484.9,760.2L488.7,755.6L492.5,753.7L497.8,754.1L500.1,756.4L504.6,755.6L506.1,757.1L504.6,763.6L505.4,772.3L482.6,772.3Z" fill="#bebebe" stroke="#000" stroke-width="1.4" stroke-linejoin="round"/>
<path d="M495.1,750.7L498.5,747.7L497.8,753.0Z" fill="#000" stroke="#000" stroke-width="1" stroke-linejoin="round"/>
<path d="M208.9,386.2L212.9,387.7L210.9,383.2" fill="none" stroke="#000" stroke-width="1.1"/>
<path d="M483.4,767.7L484.9,760.2L488.7,755.6L492.5,753.7L497.8,754.1L500.1,756.4L504.6,755.6L506.1,757.1L504.6,763.6L505.4,772.3L482.6,772.3Z" fill="#bebebe" stroke="#000" stroke-width="1.4" stroke-linejoin="round"/>
<path d="M495.1,750.7L498.5,747.7L497.8,753.0Z" fill="#000" stroke="#000" stroke-width="1" stroke-linejoin="round"/>
<path d="M685.8,373.7L689.6,373.4L691.5,371.3L693.8,371.5L692.2,374.5L691.5,376.4L693.6,380.0L690.4,380.5L690.0,379.0L687.1,377.9L688.5,376.0Z" fill="#000" stroke="#000" stroke-width="1" stroke-linejoin="round"/>
<path d="M290.9,283.7L294.3,281.5L298.1,280.5L301.5,281.3L302.6,284.1L299.6,283.2L295.1,283.5Z" fill="#000" stroke="#000" stroke-width="1" stroke-linejoin="round"/>
<path d="M415.8,529.4L418.8,530.9L417.3,538.5L414.3,537.0Z" fill="#fff" stroke="#000" stroke-width="1.2" stroke-linejoin="round"/>
<path d="M390.1,543.0L393.8,542.3L394.6,545.3L390.8,546.1Z" fill="#fff" stroke="#000" stroke-width="1.2" stroke-linejoin="round"/>
<path d="M452.0,547.6L455.8,546.8L456.6,549.9L452.8,549.9Z" fill="#fff" stroke="#000" stroke-width="1.2" stroke-linejoin="round"/>
</g>
<circle cx="437.0" cy="470.5" r="95.8" fill="none" stroke="#000" stroke-width="1.3" stroke-dasharray="4.6,4.4"/>
<circle cx="437.0" cy="470.5" r="194.9" fill="none" stroke="#000" stroke-width="1.3" stroke-dasharray="4.6,4.4"/>
<path d="M738.3,470.5L437.0,470.5" fill="none" stroke="#000" stroke-width="1.3" stroke-dasharray="4.6,4.4"/>
<path d="M697.9,621.1L519.9,518.4" fill="none" stroke="#000" stroke-width="1.3" stroke-dasharray="4.6,4.4"/>
<path d="M587.7,731.4L484.9,553.4" fill="none" stroke="#000" stroke-width="1.3" stroke-dasharray="4.6,4.4"/>
<path d="M437.0,771.8L437.0,470.5" fill="none" stroke="#000" stroke-width="1.3" stroke-dasharray="4.6,4.4"/>
<path d="M286.4,731.4L389.1,553.4" fill="none" stroke="#000" stroke-width="1.3" stroke-dasharray="4.6,4.4"/>
<path d="M176.1,621.1L354.1,518.4" fill="none" stroke="#000" stroke-width="1.3" stroke-dasharray="4.6,4.4"/>
<path d="M135.7,470.5L437.0,470.5" fill="none" stroke="#000" stroke-width="1.3" stroke-dasharray="4.6,4.4"/>
<path d="M176.1,319.8L354.1,422.6" fill="none" stroke="#000" stroke-width="1.3" stroke-dasharray="4.6,4.4"/>
<path d="M286.3,209.6L389.1,387.6" fill="none" stroke="#000" stroke-width="1.3" stroke-dasharray="4.6,4.4"/>
<path d="M437.0,169.2L437.0,470.5" fill="none" stroke="#000" stroke-width="1.3" stroke-dasharray="4.6,4.4"/>
<path d="M587.7,209.6L484.9,387.6" fill="none" stroke="#000" stroke-width="1.3" stroke-dasharray="4.6,4.4"/>
<path d="M697.9,319.8L519.9,422.6" fill="none" stroke="#000" stroke-width="1.3" stroke-dasharray="4.6,4.4"/>
<circle cx="437.0" cy="470.5" r="301.3" fill="none" stroke="#000" stroke-width="1.6"/>
<rect x="783.0" y="174.80" width="36.3" height="39.45" fill="#b2b2b2" stroke="#000" stroke-width="1.2"/>
<rect x="783.0" y="214.25" width="36.3" height="39.45" fill="#8b0000" stroke="#000" stroke-width="1.2"/>
<rect x="783.0" y="253.70" width="36.3" height="39.45" fill="#dc2814" stroke="#000" stroke-width="1.2"/>
<rect x="783.0" y="293.15" width="36.3" height="39.45" fill="#ff3200" stroke="#000" stroke-width="1.2"/>
<rect x="783.0" y="332.60" width="36.3" height="39.45" fill="#ff6400" stroke="#000" stroke-width="1.2"/>
<rect x="783.0" y="372.05" width="36.3" height="39.45" fill="#ff9600" stroke="#000" stroke-width="1.2"/>
<rect x="783.0" y="411.50" width="36.3" height="39.45" fill="#ffc800" stroke="#000" stroke-width="1.2"/>
<rect x="783.0" y="450.95" width="36.3" height="39.45" fill="#ffe600" stroke="#000" stroke-width="1.2"/>
<rect x="783.0" y="490.40" width="36.3" height="39.45" fill="#228b22" stroke="#000" stroke-width="1.2"/>
<rect x="783.0" y="529.85" width="36.3" height="39.45" fill="#006400" stroke="#000" stroke-width="1.2"/>
<rect x="783.0" y="569.30" width="36.3" height="39.45" fill="#0000cd" stroke="#000" stroke-width="1.2"/>
<rect x="783.0" y="608.75" width="36.3" height="39.45" fill="#4169e1" stroke="#000" stroke-width="1.2"/>
<rect x="783.0" y="648.20" width="36.3" height="39.45" fill="#7b9cf0" stroke="#000" stroke-width="1.2"/>
<rect x="783.0" y="687.65" width="36.3" height="39.45" fill="#9370db" stroke="#000" stroke-width="1.2"/>
<rect x="783.0" y="727.10" width="36.3" height="39.45" fill="#e673dc" stroke="#000" stroke-width="1.2"/>
<text transform="translate(852.2,222.9) scale(1.0,1)" font-size="24.3" stroke="#000" stroke-width="0.3" text-anchor="middle">5</text>
<text transform="translate(852.2,262.4) scale(1.0,1)" font-size="24.3" stroke="#000" stroke-width="0.3" text-anchor="middle">4.5</text>
<text transform="translate(852.2,301.9) scale(1.0,1)" font-size="24.3" stroke="#000" stroke-width="0.3" text-anchor="middle">4</text>
<text transform="translate(852.2,341.3) scale(1.0,1)" font-size="24.3" stroke="#000" stroke-width="0.3" text-anchor="middle">3.5</text>
<text transform="translate(852.2,380.8) scale(1.0,1)" font-size="24.3" stroke="#000" stroke-width="0.3" text-anchor="middle">3</text>
<text transform="translate(852.2,420.2) scale(1.0,1)" font-size="24.3" stroke="#000" stroke-width="0.3" text-anchor="middle">2.5</text>
<text transform="translate(852.2,459.7) scale(1.0,1)" font-size="24.3" stroke="#000" stroke-width="0.3" text-anchor="middle">2</text>
<text transform="translate(852.2,499.1) scale(1.0,1)" font-size="24.3" stroke="#000" stroke-width="0.3" text-anchor="middle">1.5</text>
<text transform="translate(852.2,538.6) scale(1.0,1)" font-size="24.3" stroke="#000" stroke-width="0.3" text-anchor="middle">1</text>
<text transform="translate(852.2,578.0) scale(1.0,1)" font-size="24.3" stroke="#000" stroke-width="0.3" text-anchor="middle">0.75</text>
<text transform="translate(852.2,617.5) scale(1.0,1)" font-size="24.3" stroke="#000" stroke-width="0.3" text-anchor="middle">0.5</text>
<text transform="translate(852.2,656.9) scale(1.0,1)" font-size="24.3" stroke="#000" stroke-width="0.3" text-anchor="middle">0.25</text>
<text transform="translate(852.2,696.4) scale(1.0,1)" font-size="24.3" stroke="#000" stroke-width="0.3" text-anchor="middle">0.1</text>
<text transform="translate(852.2,735.8) scale(1.0,1)" font-size="24.3" stroke="#000" stroke-width="0.3" text-anchor="middle">0.05</text>
<g clip-path="url(#c2)">
<rect x="438.0" y="976.0" width="3.0" height="6.0" fill="#4169e1"/>
<rect x="435.0" y="976.0" width="3.0" height="6.0" fill="#4169e1"/>
<rect x="438.0" y="980.0" width="3.0" height="6.0" fill="#4169e1"/>
<rect x="435.0" y="980.0" width="3.0" height="6.0" fill="#4169e1"/>
<rect x="435.0" y="984.0" width="3.0" height="6.0" fill="#4169e1"/>
<rect x="432.0" y="984.0" width="3.0" height="6.0" fill="#7b9cf0"/>
<rect x="438.0" y="987.0" width="3.0" height="6.0" fill="#4169e1"/>
<rect x="432.0" y="987.0" width="3.0" height="6.0" fill="#7b9cf0"/>
<rect x="438.0" y="991.0" width="3.0" height="6.0" fill="#4169e1"/>
<rect x="435.0" y="991.0" width="3.0" height="6.0" fill="#4169e1"/>
<rect x="438.0" y="995.0" width="3.0" height="6.0" fill="#0000cd"/>
<rect x="435.0" y="995.0" width="3.0" height="6.0" fill="#4169e1"/>
<rect x="438.0" y="998.0" width="3.0" height="6.0" fill="#0000cd"/>
<rect x="432.0" y="998.0" width="3.0" height="6.0" fill="#0000cd"/>
<rect x="435.0" y="1002.0" width="3.0" height="6.0" fill="#0000cd"/>
<rect x="432.0" y="1002.0" width="3.0" height="6.0" fill="#0000cd"/>
<rect x="438.0" y="1006.0" width="3.0" height="6.0" fill="#0000cd"/>
<rect x="432.0" y="1006.0" width="3.0" height="6.0" fill="#0000cd"/>
<rect x="435.0" y="1010.0" width="3.0" height="6.0" fill="#228b22"/>
<rect x="432.0" y="1009.0" width="3.0" height="6.0" fill="#0000cd"/>
<rect x="441.0" y="1008.0" width="3.0" height="6.0" fill="#7b9cf0"/>
<rect x="438.0" y="1008.0" width="3.0" height="6.0" fill="#7b9cf0"/>
<rect x="432.0" y="1007.0" width="3.0" height="6.0" fill="#7b9cf0"/>
<rect x="432.0" y="1007.0" width="3.0" height="6.0" fill="#7b9cf0"/>
<rect x="426.0" y="1007.0" width="3.0" height="6.0" fill="#7b9cf0"/>
<rect x="426.0" y="1007.0" width="3.0" height="6.0" fill="#7b9cf0"/>
<rect x="441.0" y="1011.0" width="3.0" height="6.0" fill="#7b9cf0"/>
<rect x="438.0" y="1011.0" width="3.0" height="6.0" fill="#0000cd"/>
<rect x="435.0" y="1011.0" width="3.0" height="6.0" fill="#4169e1"/>
<rect x="432.0" y="1011.0" width="3.0" height="6.0" fill="#4169e1"/>
<rect x="426.0" y="1011.0" width="3.0" height="6.0" fill="#0000cd"/>
<rect x="426.0" y="1010.0" width="3.0" height="6.0" fill="#4169e1"/>
<rect x="438.0" y="1015.0" width="3.0" height="6.0" fill="#0000cd"/>
<rect x="438.0" y="1015.0" width="3.0" height="6.0" fill="#0000cd"/>
<rect x="435.0" y="1015.0" width="3.0" height="6.0" fill="#0000cd"/>
<rect x="432.0" y="1014.0" width="3.0" height="6.0" fill="#0000cd"/>
<rect x="426.0" y="1014.0" width="3.0" height="6.0" fill="#0000cd"/>
<rect x="423.0" y="1014.0" width="3.0" height="6.0" fill="#0000cd"/>
<rect x="441.0" y="1019.0" width="3.0" height="6.0" fill="#006400"/>
<rect x="435.0" y="1018.0" width="3.0" height="6.0" fill="#228b22"/>
<rect x="435.0" y="1018.0" width="3.0" height="6.0" fill="#0000cd"/>
<rect x="432.0" y="1018.0" width="3.0" height="6.0" fill="#0000cd"/>
<rect x="429.0" y="1018.0" width="3.0" height="6.0" fill="#0000cd"/>
<rect x="426.0" y="1018.0" width="3.0" height="6.0" fill="#0000cd"/>
<rect x="441.0" y="1022.0" width="3.0" height="6.0" fill="#228b22"/>
<rect x="435.0" y="1022.0" width="3.0" height="6.0" fill="#228b22"/>
<rect x="435.0" y="1022.0" width="3.0" height="6.0" fill="#006400"/>
<rect x="429.0" y="1021.0" width="3.0" height="6.0" fill="#4169e1"/>
<rect x="426.0" y="1021.0" width="3.0" height="6.0" fill="#228b22"/>
<rect x="423.0" y="1021.0" width="3.0" height="6.0" fill="#228b22"/>
<rect x="441.0" y="1026.0" width="3.0" height="6.0" fill="#006400"/>
<rect x="435.0" y="1025.0" width="3.0" height="6.0" fill="#006400"/>
<rect x="435.0" y="1025.0" width="3.0" height="6.0" fill="#4169e1"/>
<rect x="426.0" y="1025.0" width="3.0" height="6.0" fill="#4169e1"/>
<rect x="441.0" y="1029.0" width="3.0" height="6.0" fill="#7b9cf0"/>
<rect x="435.0" y="1029.0" width="3.0" height="6.0" fill="#7b9cf0"/>
<rect x="423.0" y="1028.0" width="3.0" height="6.0" fill="#0000cd"/>
<rect x="438.0" y="1032.0" width="3.0" height="6.0" fill="#0000cd"/>
<rect x="435.0" y="1032.0" width="3.0" height="6.0" fill="#0000cd"/>
<rect x="432.0" y="1032.0" width="3.0" height="6.0" fill="#7b9cf0"/>
<rect x="429.0" y="1032.0" width="3.0" height="6.0" fill="#7b9cf0"/>
<rect x="426.0" y="1032.0" width="3.0" height="6.0" fill="#0000cd"/>
<rect x="423.0" y="1031.0" width="3.0" height="6.0" fill="#0000cd"/>
<rect x="438.0" y="1036.0" width="3.0" height="6.0" fill="#0000cd"/>
<rect x="435.0" y="1036.0" width="3.0" height="6.0" fill="#4169e1"/>
<rect x="432.0" y="1036.0" width="3.0" height="6.0" fill="#0000cd"/>
<rect x="429.0" y="1035.0" width="3.0" height="6.0" fill="#0000cd"/>
<rect x="426.0" y="1035.0" width="3.0" height="6.0" fill="#006400"/>
<rect x="423.0" y="1035.0" width="3.0" height="6.0" fill="#4169e1"/>
<rect x="438.0" y="1040.0" width="3.0" height="6.0" fill="#4169e1"/>
<rect x="435.0" y="1039.0" width="3.0" height="6.0" fill="#4169e1"/>
<rect x="432.0" y="1039.0" width="3.0" height="6.0" fill="#006400"/>
<rect x="429.0" y="1039.0" width="3.0" height="6.0" fill="#228b22"/>
<rect x="426.0" y="1039.0" width="3.0" height="6.0" fill="#4169e1"/>
<rect x="423.0" y="1039.0" width="3.0" height="6.0" fill="#006400"/>
<rect x="438.0" y="1043.0" width="3.0" height="6.0" fill="#006400"/>
<rect x="435.0" y="1043.0" width="3.0" height="6.0" fill="#228b22"/>
<rect x="432.0" y="1043.0" width="3.0" height="6.0" fill="#228b22"/>
<rect x="429.0" y="1042.0" width="3.0" height="6.0" fill="#228b22"/>
<rect x="426.0" y="1042.0" width="3.0" height="6.0" fill="#228b22"/>
<rect x="423.0" y="1042.0" width="3.0" height="6.0" fill="#228b22"/>
<rect x="438.0" y="1047.0" width="3.0" height="6.0" fill="#0000cd"/>
<rect x="435.0" y="1047.0" width="3.0" height="6.0" fill="#0000cd"/>
<rect x="432.0" y="1046.0" width="3.0" height="6.0" fill="#228b22"/>
<rect x="429.0" y="1046.0" width="3.0" height="6.0" fill="#228b22"/>
<rect x="426.0" y="1046.0" width="3.0" height="6.0" fill="#0000cd"/>
<rect x="420.0" y="1045.0" width="3.0" height="6.0" fill="#228b22"/>
<rect x="438.0" y="1050.0" width="3.0" height="6.0" fill="#4169e1"/>
<rect x="435.0" y="1050.0" width="3.0" height="6.0" fill="#4169e1"/>
<rect x="429.0" y="1050.0" width="3.0" height="6.0" fill="#228b22"/>
<rect x="426.0" y="1049.0" width="3.0" height="6.0" fill="#0000cd"/>
<rect x="423.0" y="1049.0" width="3.0" height="6.0" fill="#228b22"/>
<rect x="423.0" y="1049.0" width="3.0" height="6.0" fill="#4169e1"/>
<rect x="438.0" y="1054.0" width="3.0" height="6.0" fill="#4169e1"/>
<rect x="432.0" y="1054.0" width="3.0" height="6.0" fill="#228b22"/>
<rect x="429.0" y="1053.0" width="3.0" height="6.0" fill="#228b22"/>
<rect x="426.0" y="1053.0" width="3.0" height="6.0" fill="#0000cd"/>
<rect x="423.0" y="1053.0" width="3.0" height="6.0" fill="#228b22"/>
<rect x="420.0" y="1052.0" width="3.0" height="6.0" fill="#228b22"/>
<rect x="438.0" y="1057.0" width="3.0" height="6.0" fill="#0000cd"/>
<rect x="435.0" y="1057.0" width="3.0" height="6.0" fill="#228b22"/>
<rect x="432.0" y="1057.0" width="3.0" height="6.0" fill="#0000cd"/>
<rect x="429.0" y="1057.0" width="3.0" height="6.0" fill="#228b22"/>
<rect x="423.0" y="1056.0" width="3.0" height="6.0" fill="#228b22"/>
<rect x="420.0" y="1056.0" width="3.0" height="6.0" fill="#228b22"/>
<rect x="438.0" y="1061.0" width="3.0" height="6.0" fill="#0000cd"/>
<rect x="435.0" y="1061.0" width="3.0" height="6.0" fill="#0000cd"/>
<rect x="429.0" y="1060.0" width="3.0" height="6.0" fill="#228b22"/>
<rect x="429.0" y="1060.0" width="3.0" height="6.0" fill="#228b22"/>
<rect x="423.0" y="1060.0" width="3.0" height="6.0" fill="#0000cd"/>
<rect x="420.0" y="1059.0" width="3.0" height="6.0" fill="#228b22"/>
<rect x="435.0" y="1064.0" width="3.0" height="6.0" fill="#228b22"/>
<rect x="435.0" y="1064.0" width="3.0" height="6.0" fill="#228b22"/>
<rect x="429.0" y="1064.0" width="3.0" height="6.0" fill="#228b22"/>
<rect x="426.0" y="1064.0" width="3.0" height="6.0" fill="#228b22"/>
<rect x="423.0" y="1063.0" width="3.0" height="6.0" fill="#228b22"/>
<rect x="420.0" y="1063.0" width="3.0" height="6.0" fill="#228b22"/>
<rect x="426.0" y="1010.0" width="3.0" height="6.0" fill="#228b22"/>
<rect x="423.0" y="1009.0" width="3.0" height="6.0" fill="#228b22"/>
<rect x="426.0" y="1013.0" width="3.0" height="6.0" fill="#228b22"/>
<rect x="423.0" y="1013.0" width="3.0" height="6.0" fill="#228b22"/>
<rect x="426.0" y="1017.0" width="3.0" height="6.0" fill="#228b22"/>
<rect x="423.0" y="1016.0" width="3.0" height="6.0" fill="#228b22"/>
<rect x="426.0" y="1020.0" width="3.0" height="6.0" fill="#228b22"/>
<rect x="423.0" y="1020.0" width="3.0" height="6.0" fill="#228b22"/>
<rect x="426.0" y="1024.0" width="3.0" height="6.0" fill="#228b22"/>
<rect x="423.0" y="1024.0" width="3.0" height="6.0" fill="#006400"/>
<rect x="426.0" y="1028.0" width="3.0" height="6.0" fill="#228b22"/>
<rect x="423.0" y="1027.0" width="3.0" height="6.0" fill="#0000cd"/>
<rect x="426.0" y="1031.0" width="3.0" height="6.0" fill="#006400"/>
<rect x="420.0" y="1031.0" width="3.0" height="6.0" fill="#0000cd"/>
<rect x="426.0" y="1035.0" width="3.0" height="6.0" fill="#0000cd"/>
<rect x="423.0" y="1034.0" width="3.0" height="6.0" fill="#0000cd"/>
<rect x="423.0" y="1038.0" width="3.0" height="6.0" fill="#0000cd"/>
<rect x="423.0" y="1038.0" width="3.0" height="6.0" fill="#0000cd"/>
<rect x="426.0" y="1042.0" width="3.0" height="6.0" fill="#4169e1"/>
<rect x="420.0" y="1042.0" width="3.0" height="6.0" fill="#0000cd"/>
<rect x="423.0" y="1045.0" width="3.0" height="6.0" fill="#4169e1"/>
<rect x="423.0" y="1045.0" width="3.0" height="6.0" fill="#0000cd"/>
<rect x="426.0" y="1049.0" width="3.0" height="6.0" fill="#228b22"/>
<rect x="420.0" y="1049.0" width="3.0" height="6.0" fill="#228b22"/>
<rect x="423.0" y="1053.0" width="3.0" height="6.0" fill="#228b22"/>
<rect x="420.0" y="1052.0" width="3.0" height="6.0" fill="#228b22"/>
<rect x="420.0" y="1056.0" width="3.0" height="6.0" fill="#228b22"/>
<rect x="423.0" y="1060.0" width="3.0" height="6.0" fill="#228b22"/>
<rect x="420.0" y="1059.0" width="3.0" height="6.0" fill="#228b22"/>
<rect x="438.0" y="1010.0" width="3.0" height="6.0" fill="#0000cd"/>
<rect x="435.0" y="1009.0" width="3.0" height="6.0" fill="#0000cd"/>
<rect x="438.0" y="1013.0" width="3.0" height="6.0" fill="#0000cd"/>
<rect x="435.0" y="1013.0" width="3.0" height="6.0" fill="#0000cd"/>
<rect x="438.0" y="1017.0" width="3.0" height="6.0" fill="#0000cd"/>
<rect x="435.0" y="1017.0" width="3.0" height="6.0" fill="#0000cd"/>
<rect x="438.0" y="1020.0" width="3.0" height="6.0" fill="#7b9cf0"/>
<rect x="435.0" y="1020.0" width="3.0" height="6.0" fill="#7b9cf0"/>
<rect x="438.0" y="1024.0" width="3.0" height="6.0" fill="#0000cd"/>
<rect x="435.0" y="1024.0" width="3.0" height="6.0" fill="#7b9cf0"/>
<rect x="438.0" y="1027.0" width="3.0" height="6.0" fill="#0000cd"/>
<rect x="435.0" y="1027.0" width="3.0" height="6.0" fill="#0000cd"/>
<rect x="438.0" y="1031.0" width="3.0" height="6.0" fill="#0000cd"/>
<rect x="435.0" y="1031.0" width="3.0" height="6.0" fill="#0000cd"/>
<rect x="438.0" y="1035.0" width="3.0" height="6.0" fill="#0000cd"/>
<rect x="435.0" y="1034.0" width="3.0" height="6.0" fill="#0000cd"/>
<rect x="438.0" y="1038.0" width="3.0" height="6.0" fill="#0000cd"/>
<rect x="435.0" y="1038.0" width="3.0" height="6.0" fill="#0000cd"/>
<rect x="438.0" y="1042.0" width="3.0" height="6.0" fill="#0000cd"/>
<rect x="435.0" y="1042.0" width="3.0" height="6.0" fill="#006400"/>
<rect x="438.0" y="1045.0" width="3.0" height="6.0" fill="#0000cd"/>
<rect x="438.0" y="1049.0" width="3.0" height="6.0" fill="#0000cd"/>
<rect x="438.0" y="1052.0" width="3.0" height="6.0" fill="#228b22"/>
<rect x="435.0" y="1056.0" width="3.0" height="6.0" fill="#0000cd"/>
<rect x="432.0" y="1056.0" width="3.0" height="6.0" fill="#0000cd"/>
<rect x="435.0" y="1060.0" width="3.0" height="6.0" fill="#ffe600"/>
<rect x="435.0" y="1059.0" width="3.0" height="6.0" fill="#ffe600"/>
<rect x="405.0" y="1067.0" width="4.0" height="6.0" fill="#ffe600"/>
<rect x="406.0" y="1071.0" width="4.0" height="6.0" fill="#ffe600"/>
<rect x="407.0" y="1073.0" width="4.0" height="6.0" fill="#ffe600"/>
<rect x="408.0" y="1075.0" width="4.0" height="6.0" fill="#ffe600"/>
<rect x="408.0" y="1066.0" width="4.0" height="6.0" fill="#228b22"/>
<rect x="410.0" y="1070.0" width="4.0" height="6.0" fill="#ffe600"/>
<rect x="411.0" y="1072.0" width="4.0" height="6.0" fill="#228b22"/>
<rect x="412.0" y="1074.0" width="4.0" height="6.0" fill="#ffc800"/>
<rect x="412.0" y="1064.0" width="4.0" height="6.0" fill="#ffc800"/>
<rect x="413.0" y="1067.0" width="4.0" height="6.0" fill="#ffe600"/>
<rect x="414.0" y="1070.0" width="4.0" height="6.0" fill="#228b22"/>
<rect x="416.0" y="1073.0" width="4.0" height="6.0" fill="#ffe600"/>
<rect x="417.0" y="1064.0" width="3.0" height="6.0" fill="#ff9600"/>
<rect x="417.0" y="1067.0" width="3.0" height="6.0" fill="#ffe600"/>
<rect x="417.0" y="1068.0" width="3.0" height="6.0" fill="#ff9600"/>
<rect x="420.0" y="1072.0" width="3.0" height="6.0" fill="#ff9600"/>
<rect x="420.0" y="1061.0" width="3.0" height="6.0" fill="#228b22"/>
<rect x="420.0" y="1065.0" width="3.0" height="6.0" fill="#ff9600"/>
<rect x="423.0" y="1069.0" width="3.0" height="6.0" fill="#228b22"/>
<rect x="423.0" y="1071.0" width="3.0" height="6.0" fill="#ff9600"/>
<rect x="426.0" y="1061.0" width="3.0" height="6.0" fill="#ffe600"/>
<rect x="426.0" y="1064.0" width="3.0" height="6.0" fill="#ffe600"/>
<rect x="426.0" y="1066.0" width="3.0" height="6.0" fill="#ffe600"/>
<rect x="429.0" y="1060.0" width="3.0" height="6.0" fill="#228b22"/>
<rect x="429.0" y="1064.0" width="3.0" height="6.0" fill="#228b22"/>
<rect x="429.0" y="1066.0" width="3.0" height="6.0" fill="#ffe600"/>
<rect x="429.0" y="1070.0" width="3.0" height="6.0" fill="#ffe600"/>
<rect x="432.0" y="1061.0" width="3.0" height="6.0" fill="#ffc800"/>
<rect x="432.0" y="1063.0" width="3.0" height="6.0" fill="#ffc800"/>
<rect x="432.0" y="1069.0" width="3.0" height="6.0" fill="#ffe600"/>
<rect x="435.0" y="1060.0" width="3.0" height="6.0" fill="#ffe600"/>
<rect x="435.0" y="1063.0" width="3.0" height="6.0" fill="#ffe600"/>
<rect x="438.0" y="1070.0" width="3.0" height="6.0" fill="#ffc800"/>
<rect x="465.0" y="961.0" width="3.0" height="6.0" fill="#4169e1"/>
<rect x="465.0" y="964.0" width="3.0" height="6.0" fill="#7b9cf0"/>
<rect x="462.0" y="966.0" width="3.0" height="6.0" fill="#0000cd"/>
<rect x="459.0" y="969.0" width="3.0" height="6.0" fill="#4169e1"/>
<rect x="459.0" y="973.0" width="3.0" height="6.0" fill="#0000cd"/>
<rect x="456.0" y="975.0" width="3.0" height="6.0" fill="#4169e1"/>
<rect x="453.0" y="978.0" width="3.0" height="6.0" fill="#4169e1"/>
<rect x="453.0" y="982.0" width="3.0" height="6.0" fill="#7b9cf0"/>
<rect x="450.0" y="985.0" width="3.0" height="6.0" fill="#4169e1"/>
<rect x="450.0" y="989.0" width="3.0" height="6.0" fill="#7b9cf0"/>
<rect x="447.0" y="991.0" width="3.0" height="6.0" fill="#4169e1"/>
<rect x="447.0" y="994.0" width="3.0" height="6.0" fill="#0000cd"/>
<rect x="444.0" y="998.0" width="3.0" height="6.0" fill="#0000cd"/>
<rect x="441.0" y="1001.0" width="3.0" height="6.0" fill="#0000cd"/>
<rect x="438.0" y="1003.0" width="3.0" height="6.0" fill="#0000cd"/>
<rect x="399.0" y="980.0" width="4.0" height="6.0" fill="#4169e1"/>
<rect x="396.0" y="982.0" width="4.0" height="6.0" fill="#4169e1"/>
<rect x="401.0" y="984.0" width="4.0" height="6.0" fill="#0000cd"/>
<rect x="399.0" y="985.0" width="4.0" height="6.0" fill="#0000cd"/>
<rect x="403.0" y="986.0" width="4.0" height="6.0" fill="#4169e1"/>
<rect x="401.0" y="988.0" width="4.0" height="6.0" fill="#228b22"/>
<rect x="404.0" y="990.0" width="4.0" height="6.0" fill="#228b22"/>
<rect x="403.0" y="991.0" width="4.0" height="6.0" fill="#228b22"/>
<rect x="408.0" y="993.0" width="3.0" height="6.0" fill="#228b22"/>
<rect x="404.0" y="995.0" width="4.0" height="6.0" fill="#228b22"/>
<rect x="411.0" y="995.0" width="3.0" height="6.0" fill="#228b22"/>
<rect x="408.0" y="997.0" width="3.0" height="6.0" fill="#228b22"/>
<rect x="414.0" y="997.0" width="3.0" height="6.0" fill="#228b22"/>
<rect x="411.0" y="1000.0" width="3.0" height="6.0" fill="#228b22"/>
<rect x="417.0" y="998.0" width="3.0" height="6.0" fill="#0000cd"/>
<rect x="414.0" y="1002.0" width="3.0" height="6.0" fill="#0000cd"/>
<rect x="417.0" y="1001.0" width="3.0" height="6.0" fill="#0000cd"/>
<rect x="417.0" y="1004.0" width="3.0" height="6.0" fill="#006400"/>
<rect x="423.0" y="1002.0" width="3.0" height="6.0" fill="#006400"/>
<rect x="420.0" y="1004.0" width="3.0" height="6.0" fill="#006400"/>
<rect x="426.0" y="1001.0" width="3.0" height="6.0" fill="#228b22"/>
<rect x="426.0" y="1004.0" width="3.0" height="6.0" fill="#228b22"/>
<rect x="383.0" y="991.0" width="4.0" height="6.0" fill="#228b22"/>
<rect x="380.0" y="991.0" width="4.0" height="6.0" fill="#228b22"/>
<rect x="383.0" y="994.0" width="4.0" height="6.0" fill="#006400"/>
<rect x="380.0" y="994.0" width="4.0" height="6.0" fill="#006400"/>
<rect x="382.0" y="998.0" width="4.0" height="6.0" fill="#0000cd"/>
<rect x="381.0" y="998.0" width="4.0" height="6.0" fill="#228b22"/>
<rect x="381.0" y="1002.0" width="4.0" height="6.0" fill="#006400"/>
<rect x="381.0" y="999.0" width="4.0" height="6.0" fill="#0000cd"/>
<rect x="378.0" y="1002.0" width="4.0" height="6.0" fill="#0000cd"/>
<rect x="377.0" y="1000.0" width="4.0" height="6.0" fill="#0000cd"/>
<rect x="377.0" y="1003.0" width="4.0" height="6.0" fill="#0000cd"/>
<rect x="373.0" y="1003.0" width="4.0" height="6.0" fill="#006400"/>
<rect x="376.0" y="1007.0" width="4.0" height="6.0" fill="#006400"/>
<rect x="372.0" y="1006.0" width="4.0" height="6.0" fill="#0000cd"/>
<rect x="374.0" y="1011.0" width="4.0" height="6.0" fill="#006400"/>
<rect x="373.0" y="1009.0" width="4.0" height="6.0" fill="#0000cd"/>
<rect x="370.0" y="1011.0" width="4.0" height="6.0" fill="#0000cd"/>
<rect x="370.0" y="1010.0" width="4.0" height="6.0" fill="#0000cd"/>
<rect x="368.0" y="1013.0" width="4.0" height="6.0" fill="#0000cd"/>
<rect x="366.0" y="1011.0" width="4.0" height="6.0" fill="#0000cd"/>
<rect x="366.0" y="1016.0" width="4.0" height="6.0" fill="#0000cd"/>
<rect x="363.0" y="1012.0" width="4.0" height="6.0" fill="#0000cd"/>
<rect x="362.0" y="1018.0" width="4.0" height="6.0" fill="#0000cd"/>
<rect x="361.0" y="1015.0" width="4.0" height="6.0" fill="#0000cd"/>
<rect x="359.0" y="1020.0" width="4.0" height="6.0" fill="#228b22"/>
<rect x="357.0" y="1016.0" width="4.0" height="6.0" fill="#228b22"/>
<rect x="355.0" y="1020.0" width="4.0" height="6.0" fill="#228b22"/>
<rect x="355.0" y="1018.0" width="4.0" height="6.0" fill="#0000cd"/>
<rect x="352.0" y="1020.0" width="4.0" height="6.0" fill="#0000cd"/>
<rect x="351.0" y="1019.0" width="4.0" height="6.0" fill="#0000cd"/>
<rect x="348.0" y="1022.0" width="5.0" height="6.0" fill="#0000cd"/>
<rect x="347.0" y="1018.0" width="5.0" height="6.0" fill="#0000cd"/>
<rect x="345.0" y="1022.0" width="5.0" height="6.0" fill="#228b22"/>
<rect x="344.0" y="1021.0" width="5.0" height="6.0" fill="#0000cd"/>
<rect x="341.0" y="1023.0" width="5.0" height="6.0" fill="#228b22"/>
<rect x="341.0" y="1022.0" width="5.0" height="6.0" fill="#0000cd"/>
<rect x="338.0" y="1025.0" width="5.0" height="6.0" fill="#228b22"/>
<rect x="338.0" y="1024.0" width="5.0" height="6.0" fill="#228b22"/>
<rect x="336.0" y="1028.0" width="5.0" height="6.0" fill="#228b22"/>
<rect x="335.0" y="1026.0" width="5.0" height="6.0" fill="#228b22"/>
<rect x="333.0" y="1030.0" width="5.0" height="6.0" fill="#228b22"/>
<rect x="332.0" y="1028.0" width="5.0" height="6.0" fill="#228b22"/>
<rect x="330.0" y="1031.0" width="5.0" height="6.0" fill="#228b22"/>
<rect x="329.0" y="1030.0" width="5.0" height="6.0" fill="#228b22"/>
<rect x="375.0" y="1011.0" width="4.0" height="6.0" fill="#0000cd"/>
<rect x="373.0" y="1012.0" width="4.0" height="6.0" fill="#0000cd"/>
<rect x="377.0" y="1014.0" width="4.0" height="6.0" fill="#0000cd"/>
<rect x="375.0" y="1015.0" width="4.0" height="6.0" fill="#0000cd"/>
<rect x="379.0" y="1017.0" width="4.0" height="6.0" fill="#0000cd"/>
<rect x="376.0" y="1019.0" width="4.0" height="6.0" fill="#4169e1"/>
<rect x="381.0" y="1020.0" width="4.0" height="6.0" fill="#006400"/>
<rect x="377.0" y="1022.0" width="4.0" height="6.0" fill="#4169e1"/>
<rect x="382.0" y="1023.0" width="4.0" height="6.0" fill="#006400"/>
<rect x="380.0" y="1025.0" width="4.0" height="6.0" fill="#006400"/>
<rect x="384.0" y="1025.0" width="4.0" height="6.0" fill="#4169e1"/>
<rect x="383.0" y="1027.0" width="4.0" height="6.0" fill="#006400"/>
<rect x="387.0" y="1028.0" width="4.0" height="6.0" fill="#4169e1"/>
<rect x="385.0" y="1030.0" width="4.0" height="6.0" fill="#4169e1"/>
<rect x="390.0" y="1029.0" width="4.0" height="6.0" fill="#4169e1"/>
<rect x="388.0" y="1033.0" width="4.0" height="6.0" fill="#4169e1"/>
<rect x="392.0" y="1033.0" width="4.0" height="6.0" fill="#0000cd"/>
<rect x="392.0" y="1033.0" width="4.0" height="6.0" fill="#0000cd"/>
<rect x="395.0" y="1035.0" width="4.0" height="6.0" fill="#4169e1"/>
<rect x="394.0" y="1036.0" width="4.0" height="6.0" fill="#4169e1"/>
<rect x="397.0" y="1038.0" width="4.0" height="6.0" fill="#0000cd"/>
<rect x="397.0" y="1038.0" width="4.0" height="6.0" fill="#0000cd"/>
<rect x="399.0" y="1041.0" width="4.0" height="6.0" fill="#0000cd"/>
<rect x="398.0" y="1042.0" width="4.0" height="6.0" fill="#4169e1"/>
<rect x="402.0" y="1044.0" width="4.0" height="6.0" fill="#4169e1"/>
<rect x="399.0" y="1045.0" width="4.0" height="6.0" fill="#4169e1"/>
<rect x="403.0" y="1047.0" width="4.0" height="6.0" fill="#4169e1"/>
<rect x="402.0" y="1048.0" width="4.0" height="6.0" fill="#7b9cf0"/>
<rect x="404.0" y="1050.0" width="4.0" height="6.0" fill="#7b9cf0"/>
<rect x="402.0" y="1051.0" width="4.0" height="6.0" fill="#7b9cf0"/>
<rect x="406.0" y="1053.0" width="4.0" height="6.0" fill="#4169e1"/>
<rect x="404.0" y="1055.0" width="4.0" height="6.0" fill="#4169e1"/>
<rect x="407.0" y="1057.0" width="4.0" height="6.0" fill="#228b22"/>
<rect x="407.0" y="1057.0" width="4.0" height="6.0" fill="#228b22"/>
<rect x="410.0" y="1060.0" width="4.0" height="6.0" fill="#228b22"/>
<rect x="408.0" y="1061.0" width="4.0" height="6.0" fill="#228b22"/>
<rect x="411.0" y="1063.0" width="4.0" height="6.0" fill="#228b22"/>
<rect x="408.0" y="1064.0" width="4.0" height="6.0" fill="#228b22"/>
<rect x="359.0" y="1024.0" width="4.0" height="6.0" fill="#228b22"/>
<rect x="358.0" y="1024.0" width="4.0" height="6.0" fill="#228b22"/>
<rect x="358.0" y="1028.0" width="4.0" height="6.0" fill="#228b22"/>
<rect x="355.0" y="1027.0" width="4.0" height="6.0" fill="#228b22"/>
<rect x="357.0" y="1031.0" width="4.0" height="6.0" fill="#228b22"/>
<rect x="354.0" y="1030.0" width="5.0" height="6.0" fill="#228b22"/>
<rect x="356.0" y="1034.0" width="5.0" height="6.0" fill="#228b22"/>
<rect x="355.0" y="1034.0" width="5.0" height="6.0" fill="#228b22"/>
<rect x="355.0" y="1038.0" width="5.0" height="6.0" fill="#228b22"/>
<rect x="353.0" y="1037.0" width="5.0" height="6.0" fill="#228b22"/>
<rect x="354.0" y="1041.0" width="5.0" height="6.0" fill="#228b22"/>
<rect x="350.0" y="1039.0" width="5.0" height="6.0" fill="#228b22"/>
<rect x="353.0" y="1044.0" width="5.0" height="6.0" fill="#006400"/>
<rect x="350.0" y="1043.0" width="5.0" height="6.0" fill="#228b22"/>
<rect x="350.0" y="1047.0" width="5.0" height="6.0" fill="#006400"/>
<rect x="348.0" y="1046.0" width="5.0" height="6.0" fill="#228b22"/>
<rect x="349.0" y="1050.0" width="5.0" height="6.0" fill="#006400"/>
<rect x="347.0" y="1049.0" width="5.0" height="6.0" fill="#006400"/>
<rect x="348.0" y="1053.0" width="5.0" height="6.0" fill="#006400"/>
<rect x="346.0" y="1053.0" width="5.0" height="6.0" fill="#006400"/>
<rect x="345.0" y="1056.0" width="5.0" height="6.0" fill="#006400"/>
<rect x="343.0" y="1055.0" width="5.0" height="6.0" fill="#006400"/>
<rect x="345.0" y="1060.0" width="5.0" height="6.0" fill="#006400"/>
<rect x="344.0" y="1059.0" width="5.0" height="6.0" fill="#4169e1"/>
<rect x="344.0" y="1063.0" width="5.0" height="6.0" fill="#006400"/>
<rect x="342.0" y="1063.0" width="5.0" height="6.0" fill="#006400"/>
<rect x="345.0" y="1066.0" width="5.0" height="6.0" fill="#006400"/>
<rect x="342.0" y="1066.0" width="5.0" height="6.0" fill="#4169e1"/>
<rect x="343.0" y="1070.0" width="5.0" height="6.0" fill="#006400"/>
<rect x="341.0" y="1069.0" width="5.0" height="6.0" fill="#006400"/>
<rect x="342.0" y="1074.0" width="5.0" height="6.0" fill="#0000cd"/>
<rect x="340.0" y="1071.0" width="5.0" height="6.0" fill="#0000cd"/>
<rect x="339.0" y="1075.0" width="5.0" height="6.0" fill="#0000cd"/>
<rect x="337.0" y="1073.0" width="5.0" height="6.0" fill="#0000cd"/>
<rect x="338.0" y="1077.0" width="5.0" height="6.0" fill="#228b22"/>
<rect x="335.0" y="1077.0" width="5.0" height="6.0" fill="#0000cd"/>
<rect x="338.0" y="1081.0" width="5.0" height="6.0" fill="#ffe600"/>
<rect x="336.0" y="1080.0" width="5.0" height="6.0" fill="#228b22"/>
<rect x="338.0" y="1084.0" width="5.0" height="6.0" fill="#006400"/>
<rect x="335.0" y="1084.0" width="5.0" height="6.0" fill="#ffe600"/>
<rect x="336.0" y="1087.0" width="5.0" height="6.0" fill="#ffe600"/>
<rect x="335.0" y="1087.0" width="5.0" height="6.0" fill="#006400"/>
<rect x="337.0" y="1091.0" width="5.0" height="6.0" fill="#ffe600"/>
<rect x="333.0" y="1091.0" width="5.0" height="6.0" fill="#006400"/>
<rect x="335.0" y="1094.0" width="5.0" height="6.0" fill="#ffe600"/>
<rect x="333.0" y="1094.0" width="5.0" height="6.0" fill="#ffe600"/>
<rect x="336.0" y="1098.0" width="5.0" height="6.0" fill="#ffe600"/>
<rect x="332.0" y="1098.0" width="5.0" height="5.0" fill="#228b22"/>
<rect x="334.0" y="1102.0" width="5.0" height="5.0" fill="#ffe600"/>
<rect x="332.0" y="1101.0" width="6.0" height="5.0" fill="#ffe600"/>
<rect x="333.0" y="1105.0" width="6.0" height="5.0" fill="#ffe600"/>
<rect x="331.0" y="1104.0" width="6.0" height="5.0" fill="#ffc800"/>
<rect x="332.0" y="1108.0" width="6.0" height="5.0" fill="#ffe600"/>
<rect x="328.0" y="1107.0" width="6.0" height="5.0" fill="#ffc800"/>
<rect x="328.0" y="1111.0" width="6.0" height="5.0" fill="#ffc800"/>
<rect x="326.0" y="1109.0" width="6.0" height="5.0" fill="#ff9600"/>
<rect x="327.0" y="1114.0" width="6.0" height="5.0" fill="#ffe600"/>
<rect x="325.0" y="1112.0" width="6.0" height="5.0" fill="#ffe600"/>
<rect x="326.0" y="1117.0" width="6.0" height="5.0" fill="#ffe600"/>
<rect x="324.0" y="1116.0" width="6.0" height="5.0" fill="#ff9600"/>
<rect x="324.0" y="1120.0" width="6.0" height="5.0" fill="#ffe600"/>
<rect x="323.0" y="1119.0" width="6.0" height="5.0" fill="#ff9600"/>
<rect x="363.0" y="1062.0" width="5.0" height="6.0" fill="#228b22"/>
<rect x="366.0" y="1063.0" width="5.0" height="6.0" fill="#006400"/>
<rect x="369.0" y="1066.0" width="5.0" height="6.0" fill="#ffe600"/>
<rect x="373.0" y="1066.0" width="4.0" height="6.0" fill="#ffe600"/>
<rect x="376.0" y="1066.0" width="4.0" height="6.0" fill="#0000cd"/>
<rect x="379.0" y="1065.0" width="4.0" height="6.0" fill="#0000cd"/>
<rect x="383.0" y="1064.0" width="4.0" height="6.0" fill="#0000cd"/>
<rect x="386.0" y="1066.0" width="4.0" height="6.0" fill="#228b22"/>
<rect x="388.0" y="1069.0" width="4.0" height="6.0" fill="#228b22"/>
<rect x="392.0" y="1069.0" width="4.0" height="6.0" fill="#228b22"/>
<rect x="395.0" y="1071.0" width="4.0" height="6.0" fill="#228b22"/>
<rect x="398.0" y="1071.0" width="4.0" height="6.0" fill="#228b22"/>
<rect x="402.0" y="1073.0" width="4.0" height="6.0" fill="#4169e1"/>
<rect x="404.0" y="1075.0" width="4.0" height="6.0" fill="#ffe600"/>
<rect x="403.0" y="1079.0" width="4.0" height="6.0" fill="#ff9600"/>
<rect x="405.0" y="1082.0" width="4.0" height="6.0" fill="#ffe600"/>
<rect x="405.0" y="1086.0" width="4.0" height="6.0" fill="#ffe600"/>
<rect x="405.0" y="1089.0" width="4.0" height="6.0" fill="#dc2814"/>
<rect x="403.0" y="1093.0" width="4.0" height="6.0" fill="#dc2814"/>
<rect x="308.0" y="1044.0" width="5.0" height="6.0" fill="#ffe600"/>
<rect x="306.0" y="1048.0" width="5.0" height="6.0" fill="#ffe600"/>
<rect x="301.0" y="1049.0" width="5.0" height="6.0" fill="#ffe600"/>
<rect x="299.0" y="1053.0" width="5.0" height="6.0" fill="#ffe600"/>
<rect x="295.0" y="1054.0" width="5.0" height="6.0" fill="#ffe600"/>
<rect x="293.0" y="1058.0" width="5.0" height="5.0" fill="#ffe600"/>
<rect x="301.9" y="1060.9" width="5.8" height="5.2" fill="#4169e1"/>
<rect x="281.0" y="1051.2" width="3.8" height="5.8" fill="#e673dc"/>
<rect x="283.5" y="1060.2" width="2.9" height="4.6" fill="#4169e1"/>
<rect x="276.0" y="1064.0" width="6.0" height="5.0" fill="#0000cd"/>
<rect x="279.0" y="1066.0" width="6.0" height="5.0" fill="#006400"/>
<rect x="282.0" y="1068.0" width="6.0" height="5.0" fill="#006400"/>
<rect x="285.0" y="1071.0" width="6.0" height="5.0" fill="#006400"/>
<rect x="289.0" y="1072.0" width="6.0" height="5.0" fill="#006400"/>
<rect x="279.0" y="1073.0" width="6.0" height="5.0" fill="#ffe600"/>
<rect x="283.0" y="1075.0" width="6.0" height="5.0" fill="#ffe600"/>
<rect x="286.0" y="1076.0" width="6.0" height="5.0" fill="#ffe600"/>
<rect x="289.0" y="1077.0" width="6.0" height="5.0" fill="#ffe600"/>
<rect x="293.0" y="1078.0" width="6.0" height="5.0" fill="#ff9600"/>
<rect x="296.0" y="1080.0" width="6.0" height="5.0" fill="#ffe600"/>
<rect x="299.0" y="1082.0" width="6.0" height="5.0" fill="#ffe600"/>
<rect x="303.0" y="1082.0" width="6.0" height="5.0" fill="#ffe600"/>
<rect x="306.0" y="1083.0" width="6.0" height="5.0" fill="#ffe600"/>
<rect x="309.0" y="1086.0" width="6.0" height="5.0" fill="#ffe600"/>
<rect x="277.2" y="1077.6" width="5.2" height="5.2" fill="#e673dc"/>
<rect x="278.0" y="1084.0" width="6.0" height="5.0" fill="#228b22"/>
<rect x="281.0" y="1086.0" width="6.0" height="5.0" fill="#228b22"/>
<rect x="284.0" y="1089.0" width="6.0" height="5.0" fill="#228b22"/>
<rect x="287.0" y="1091.0" width="6.0" height="5.0" fill="#ffe600"/>
<rect x="291.0" y="1092.0" width="6.0" height="5.0" fill="#ffe600"/>
<rect x="295.0" y="1091.0" width="6.0" height="5.0" fill="#ffe600"/>
<rect x="293.0" y="1065.0" width="6.0" height="5.0" fill="#228b22"/>
<rect x="296.0" y="1067.0" width="6.0" height="5.0" fill="#228b22"/>
<rect x="298.0" y="1071.0" width="6.0" height="5.0" fill="#228b22"/>
<rect x="284.0" y="1081.0" width="6.0" height="5.0" fill="#228b22"/>
<rect x="287.0" y="1083.0" width="6.0" height="5.0" fill="#006400"/>
<rect x="290.0" y="1085.0" width="6.0" height="5.0" fill="#006400"/>
<rect x="319.2" y="1012.9" width="4.6" height="2.5" fill="#ffe600"/>
<rect x="321.2" y="1015.2" width="2.5" height="2.1" fill="#ffe600"/>
<rect x="428.8" y="999.8" width="6.2" height="6.7" fill="#e673dc"/>
<rect x="438.5" y="1014.2" width="5.4" height="5.0" fill="#e673dc"/>
<rect x="445.2" y="1020.0" width="10.8" height="6.7" fill="#e673dc"/>
<rect x="447.7" y="1032.1" width="3.8" height="7.5" fill="#e673dc"/>
<rect x="367.9" y="1019.2" width="5.0" height="7.5" fill="#e673dc"/>
<rect x="438.5" y="984.8" width="5.4" height="6.2" fill="#7b9cf0"/>
<rect x="436.5" y="1032.7" width="6.2" height="5.4" fill="#7b9cf0"/>
<rect x="465.0" y="1022.0" width="4.0" height="6.0" fill="#006400"/>
<rect x="464.0" y="1026.0" width="4.0" height="6.0" fill="#006400"/>
<rect x="468.0" y="1024.0" width="4.0" height="6.0" fill="#0000cd"/>
<rect x="467.0" y="1026.0" width="4.0" height="6.0" fill="#006400"/>
<rect x="471.0" y="1023.0" width="4.0" height="6.0" fill="#0000cd"/>
<rect x="471.0" y="1027.0" width="4.0" height="6.0" fill="#0000cd"/>
<rect x="475.0" y="1025.0" width="4.0" height="6.0" fill="#0000cd"/>
<rect x="474.0" y="1027.0" width="4.0" height="6.0" fill="#0000cd"/>
<rect x="478.0" y="1025.0" width="4.0" height="6.0" fill="#0000cd"/>
<rect x="478.0" y="1027.0" width="4.0" height="6.0" fill="#0000cd"/>
<rect x="460.0" y="1034.0" width="4.0" height="6.0" fill="#006400"/>
<rect x="461.0" y="1037.0" width="4.0" height="6.0" fill="#7b9cf0"/>
<rect x="465.0" y="1038.0" width="4.0" height="6.0" fill="#7b9cf0"/>
<rect x="466.0" y="1042.0" width="4.0" height="6.0" fill="#7b9cf0"/>
<rect x="468.0" y="1045.0" width="4.0" height="6.0" fill="#4169e1"/>
<rect x="470.0" y="1048.0" width="4.0" height="6.0" fill="#4169e1"/>
<rect x="474.0" y="1050.0" width="4.0" height="6.0" fill="#9370db"/>
<rect x="474.0" y="1053.0" width="4.0" height="6.0" fill="#9370db"/>
<rect x="476.0" y="1056.0" width="4.0" height="6.0" fill="#9370db"/>
<rect x="477.0" y="1059.0" width="4.0" height="6.0" fill="#228b22"/>
<rect x="463.0" y="1021.0" width="4.0" height="6.0" fill="#006400"/>
<rect x="466.0" y="1024.0" width="4.0" height="6.0" fill="#0000cd"/>
<rect x="470.0" y="1025.0" width="4.0" height="6.0" fill="#0000cd"/>
<rect x="473.0" y="1026.0" width="4.0" height="6.0" fill="#0000cd"/>
<rect x="476.0" y="1027.0" width="4.0" height="6.0" fill="#0000cd"/>
<rect x="480.0" y="1027.0" width="4.0" height="6.0" fill="#0000cd"/>
<rect x="483.0" y="1027.0" width="4.0" height="6.0" fill="#ffe600"/>
<rect x="487.0" y="1029.0" width="4.0" height="6.0" fill="#ffe600"/>
<rect x="490.0" y="1029.0" width="4.0" height="6.0" fill="#ffe600"/>
<rect x="494.0" y="1030.0" width="4.0" height="6.0" fill="#228b22"/>
<rect x="497.0" y="1031.0" width="4.0" height="6.0" fill="#228b22"/>
<rect x="501.0" y="1032.0" width="4.0" height="6.0" fill="#228b22"/>
<rect x="504.0" y="1033.0" width="4.0" height="6.0" fill="#228b22"/>
<rect x="507.0" y="1035.0" width="4.0" height="6.0" fill="#006400"/>
<rect x="510.0" y="1037.0" width="4.0" height="6.0" fill="#228b22"/>
<rect x="513.0" y="1039.0" width="5.0" height="6.0" fill="#228b22"/>
<rect x="516.0" y="1041.0" width="5.0" height="6.0" fill="#006400"/>
<rect x="519.0" y="1042.0" width="5.0" height="6.0" fill="#006400"/>
<rect x="523.0" y="1043.0" width="5.0" height="6.0" fill="#006400"/>
<rect x="461.0" y="1034.0" width="4.0" height="6.0" fill="#7b9cf0"/>
<rect x="460.0" y="1036.0" width="4.0" height="6.0" fill="#7b9cf0"/>
<rect x="464.0" y="1036.0" width="4.0" height="6.0" fill="#7b9cf0"/>
<rect x="462.0" y="1038.0" width="4.0" height="6.0" fill="#7b9cf0"/>
<rect x="466.0" y="1040.0" width="4.0" height="6.0" fill="#4169e1"/>
<rect x="463.0" y="1042.0" width="4.0" height="6.0" fill="#4169e1"/>
<rect x="468.0" y="1043.0" width="4.0" height="6.0" fill="#4169e1"/>
<rect x="466.0" y="1044.0" width="4.0" height="6.0" fill="#4169e1"/>
<rect x="471.0" y="1044.0" width="4.0" height="6.0" fill="#4169e1"/>
<rect x="469.0" y="1047.0" width="4.0" height="6.0" fill="#4169e1"/>
<rect x="474.0" y="1047.0" width="4.0" height="6.0" fill="#9370db"/>
<rect x="471.0" y="1049.0" width="4.0" height="6.0" fill="#0000cd"/>
<rect x="475.0" y="1050.0" width="4.0" height="6.0" fill="#0000cd"/>
<rect x="473.0" y="1052.0" width="4.0" height="6.0" fill="#e673dc"/>
<rect x="478.0" y="1053.0" width="4.0" height="6.0" fill="#0000cd"/>
<rect x="475.0" y="1055.0" width="4.0" height="6.0" fill="#e673dc"/>
<rect x="479.0" y="1056.0" width="4.0" height="6.0" fill="#0000cd"/>
<rect x="477.0" y="1057.0" width="4.0" height="6.0" fill="#7b9cf0"/>
<rect x="481.0" y="1059.0" width="4.0" height="6.0" fill="#4169e1"/>
<rect x="478.0" y="1061.0" width="4.0" height="6.0" fill="#7b9cf0"/>
<rect x="482.0" y="1063.0" width="4.0" height="6.0" fill="#4169e1"/>
<rect x="480.0" y="1064.0" width="4.0" height="6.0" fill="#0000cd"/>
<rect x="484.0" y="1066.0" width="4.0" height="6.0" fill="#0000cd"/>
<rect x="481.0" y="1067.0" width="4.0" height="6.0" fill="#4169e1"/>
<rect x="486.0" y="1069.0" width="4.0" height="6.0" fill="#228b22"/>
<rect x="483.0" y="1070.0" width="4.0" height="6.0" fill="#006400"/>
<rect x="487.0" y="1072.0" width="4.0" height="6.0" fill="#228b22"/>
<rect x="486.0" y="1073.0" width="4.0" height="6.0" fill="#006400"/>
<rect x="489.0" y="1075.0" width="4.0" height="6.0" fill="#228b22"/>
<rect x="486.0" y="1077.0" width="4.0" height="6.0" fill="#228b22"/>
<rect x="491.0" y="1078.0" width="4.0" height="6.0" fill="#006400"/>
<rect x="487.0" y="1079.0" width="4.0" height="6.0" fill="#dc2814"/>
<rect x="490.0" y="1082.0" width="5.0" height="6.0" fill="#dc2814"/>
<rect x="489.0" y="1083.0" width="4.0" height="6.0" fill="#dc2814"/>
<rect x="520.4" y="1052.0" width="8.3" height="5.2" fill="#e673dc"/>
<rect x="535.5" y="1061.8" width="7.3" height="5.2" fill="#e673dc"/>
<rect x="543.3" y="1066.7" width="8.3" height="7.9" fill="#e673dc"/>
<rect x="529.3" y="1056.6" width="5.2" height="5.2" fill="#0000cd"/>
<rect x="534.0" y="1059.0" width="2.9" height="2.9" fill="#006400"/>
<rect x="533.1" y="1026.7" width="5.8" height="5.8" fill="#4169e1"/>
<rect x="547.0" y="1034.7" width="5.2" height="5.2" fill="#4169e1"/>
<rect x="558.4" y="1062.9" width="5.2" height="4.2" fill="#4169e1"/>
<rect x="556.4" y="1069.6" width="5.2" height="4.2" fill="#4169e1"/>
<rect x="554.8" y="1076.9" width="4.2" height="4.2" fill="#4169e1"/>
<rect x="545.8" y="1077.3" width="7.5" height="7.5" fill="#0000cd"/>
<rect x="558.3" y="1083.1" width="6.2" height="6.2" fill="#7b9cf0"/>
<rect x="555.0" y="1084.0" width="6.0" height="5.0" fill="#ffe600"/>
<rect x="553.0" y="1083.0" width="5.0" height="5.0" fill="#ffe600"/>
<rect x="551.0" y="1082.0" width="5.0" height="5.0" fill="#ffe600"/>
<rect x="552.0" y="1087.0" width="6.0" height="5.0" fill="#ffe600"/>
<rect x="551.0" y="1086.0" width="6.0" height="5.0" fill="#ffe600"/>
<rect x="548.0" y="1084.0" width="5.0" height="5.0" fill="#ffe600"/>
<rect x="551.0" y="1091.0" width="6.0" height="5.0" fill="#ffe600"/>
<rect x="548.0" y="1089.0" width="6.0" height="5.0" fill="#ffe600"/>
<rect x="547.0" y="1087.0" width="5.0" height="5.0" fill="#ffe600"/>
<rect x="548.0" y="1093.0" width="6.0" height="5.0" fill="#ffe600"/>
<rect x="546.0" y="1092.0" width="6.0" height="5.0" fill="#ffe600"/>
<rect x="544.0" y="1090.0" width="5.0" height="5.0" fill="#ffe600"/>
<rect x="546.0" y="1097.0" width="6.0" height="5.0" fill="#ffe600"/>
<rect x="544.0" y="1095.0" width="6.0" height="5.0" fill="#ffe600"/>
<rect x="543.0" y="1094.0" width="6.0" height="5.0" fill="#ffe600"/>
<rect x="555.6" y="1087.7" width="5.4" height="5.4" fill="#228b22"/>
<rect x="542.3" y="1097.7" width="6.2" height="4.2" fill="#228b22"/>
<rect x="548.1" y="1099.6" width="5.4" height="5.4" fill="#228b22"/>
<rect x="557.7" y="1094.4" width="4.6" height="3.8" fill="#0000cd"/>
<rect x="565.7" y="1087.8" width="5.2" height="5.2" fill="#e673dc"/>
<rect x="534.0" y="1092.5" width="6.2" height="6.2" fill="#e673dc"/>
<rect x="567.3" y="1091.5" width="6.2" height="4.2" fill="#4169e1"/>
<rect x="570.4" y="1098.8" width="6.2" height="2.9" fill="#4169e1"/>
<rect x="520.4" y="1090.4" width="6.2" height="6.2" fill="#228b22"/>
<rect x="528.2" y="1090.4" width="5.2" height="4.2" fill="#ff9600"/>
<rect x="519.8" y="1097.7" width="3.3" height="2.1" fill="#ffe600"/>
<rect x="533.1" y="1092.1" width="2.9" height="2.9" fill="#4169e1"/>
<rect x="577.7" y="1108.2" width="8.3" height="5.2" fill="#4169e1"/>
<rect x="598.0" y="1114.5" width="7.3" height="5.2" fill="#4169e1"/>
<rect x="583.7" y="1124.3" width="5.7" height="4.1" fill="#0000cd"/>
<rect x="594.5" y="1124.3" width="5.7" height="4.1" fill="#228b22"/>
<rect x="567.5" y="1128.1" width="5.7" height="4.1" fill="#4169e1"/>
<rect x="572.9" y="1128.1" width="5.7" height="4.1" fill="#7b9cf0"/>
<rect x="578.3" y="1128.1" width="5.7" height="4.1" fill="#228b22"/>
<rect x="583.7" y="1128.1" width="5.7" height="4.1" fill="#4169e1"/>
<rect x="589.1" y="1128.1" width="5.7" height="4.1" fill="#4169e1"/>
<rect x="594.5" y="1128.1" width="5.7" height="4.1" fill="#228b22"/>
<rect x="599.9" y="1128.1" width="5.7" height="4.1" fill="#7b9cf0"/>
<rect x="578.3" y="1131.9" width="5.7" height="4.1" fill="#006400"/>
<rect x="583.7" y="1131.9" width="5.7" height="4.1" fill="#7b9cf0"/>
<rect x="589.1" y="1131.9" width="5.7" height="4.1" fill="#4169e1"/>
<rect x="594.5" y="1131.9" width="5.7" height="4.1" fill="#006400"/>
<rect x="599.9" y="1131.9" width="5.7" height="4.1" fill="#0000cd"/>
<rect x="578.3" y="1135.8" width="5.7" height="4.1" fill="#4169e1"/>
<rect x="583.7" y="1135.8" width="5.7" height="4.1" fill="#006400"/>
<rect x="589.1" y="1135.8" width="5.7" height="4.1" fill="#4169e1"/>
<rect x="599.9" y="1135.8" width="5.7" height="4.1" fill="#7b9cf0"/>
<rect x="610.7" y="1135.8" width="5.7" height="4.1" fill="#7b9cf0"/>
<rect x="578.3" y="1139.6" width="5.7" height="4.1" fill="#4169e1"/>
<rect x="583.7" y="1139.6" width="5.7" height="4.1" fill="#006400"/>
<rect x="589.1" y="1139.6" width="5.7" height="4.1" fill="#006400"/>
<rect x="599.9" y="1139.6" width="5.7" height="4.1" fill="#7b9cf0"/>
<rect x="605.3" y="1139.6" width="5.7" height="4.1" fill="#7b9cf0"/>
<rect x="610.7" y="1139.6" width="5.7" height="4.1" fill="#7b9cf0"/>
<rect x="616.1" y="1139.6" width="5.7" height="4.1" fill="#4169e1"/>
<rect x="578.3" y="1143.4" width="5.7" height="4.1" fill="#0000cd"/>
<rect x="583.7" y="1143.4" width="5.7" height="4.1" fill="#228b22"/>
<rect x="589.1" y="1143.4" width="5.7" height="4.1" fill="#228b22"/>
<rect x="599.9" y="1143.4" width="5.7" height="4.1" fill="#7b9cf0"/>
<rect x="605.3" y="1143.4" width="5.7" height="4.1" fill="#0000cd"/>
<rect x="610.7" y="1143.4" width="5.7" height="4.1" fill="#228b22"/>
<rect x="616.1" y="1143.4" width="5.7" height="4.1" fill="#0000cd"/>
<rect x="621.5" y="1143.4" width="5.7" height="4.1" fill="#0000cd"/>
<rect x="578.3" y="1147.2" width="5.7" height="4.1" fill="#228b22"/>
<rect x="583.7" y="1147.2" width="5.7" height="4.1" fill="#228b22"/>
<rect x="594.5" y="1147.2" width="5.7" height="4.1" fill="#7b9cf0"/>
<rect x="599.9" y="1147.2" width="5.7" height="4.1" fill="#7b9cf0"/>
<rect x="605.3" y="1147.2" width="5.7" height="4.1" fill="#0000cd"/>
<rect x="610.7" y="1147.2" width="5.7" height="4.1" fill="#0000cd"/>
<rect x="616.1" y="1147.2" width="5.7" height="4.1" fill="#4169e1"/>
<rect x="621.5" y="1147.2" width="5.7" height="4.1" fill="#0000cd"/>
<rect x="578.3" y="1151.0" width="5.7" height="4.1" fill="#228b22"/>
<rect x="583.7" y="1151.0" width="5.7" height="4.1" fill="#006400"/>
<rect x="589.1" y="1151.0" width="5.7" height="4.1" fill="#006400"/>
<rect x="594.5" y="1151.0" width="5.7" height="4.1" fill="#7b9cf0"/>
<rect x="599.9" y="1151.0" width="5.7" height="4.1" fill="#4169e1"/>
<rect x="605.3" y="1151.0" width="5.7" height="4.1" fill="#006400"/>
<rect x="610.7" y="1151.0" width="5.7" height="4.1" fill="#006400"/>
<rect x="616.1" y="1151.0" width="5.7" height="4.1" fill="#0000cd"/>
<rect x="621.5" y="1151.0" width="5.7" height="4.1" fill="#4169e1"/>
<rect x="572.9" y="1154.8" width="5.7" height="4.1" fill="#4169e1"/>
<rect x="583.7" y="1154.8" width="5.7" height="4.1" fill="#006400"/>
<rect x="589.1" y="1154.8" width="5.7" height="4.1" fill="#006400"/>
<rect x="594.5" y="1154.8" width="5.7" height="4.1" fill="#0000cd"/>
<rect x="599.9" y="1154.8" width="5.7" height="4.1" fill="#9370db"/>
<rect x="605.3" y="1154.8" width="5.7" height="4.1" fill="#006400"/>
<rect x="610.7" y="1154.8" width="5.7" height="4.1" fill="#006400"/>
<rect x="616.1" y="1154.8" width="5.7" height="4.1" fill="#0000cd"/>
<rect x="621.5" y="1154.8" width="5.7" height="4.1" fill="#9370db"/>
<rect x="567.5" y="1158.6" width="5.7" height="4.1" fill="#7b9cf0"/>
<rect x="572.9" y="1158.6" width="5.7" height="4.1" fill="#006400"/>
<rect x="578.3" y="1158.6" width="5.7" height="4.1" fill="#4169e1"/>
<rect x="583.7" y="1158.6" width="5.7" height="4.1" fill="#4169e1"/>
<rect x="589.1" y="1158.6" width="5.7" height="4.1" fill="#4169e1"/>
<rect x="594.5" y="1158.6" width="5.7" height="4.1" fill="#7b9cf0"/>
<rect x="599.9" y="1158.6" width="5.7" height="4.1" fill="#0000cd"/>
<rect x="605.3" y="1158.6" width="5.7" height="4.1" fill="#4169e1"/>
<rect x="567.5" y="1162.5" width="5.7" height="4.1" fill="#4169e1"/>
<rect x="572.9" y="1162.5" width="5.7" height="4.1" fill="#ffe600"/>
<rect x="578.3" y="1162.5" width="5.7" height="4.1" fill="#4169e1"/>
<rect x="583.7" y="1162.5" width="5.7" height="4.1" fill="#4169e1"/>
<rect x="594.5" y="1162.5" width="5.7" height="4.1" fill="#0000cd"/>
<rect x="599.9" y="1162.5" width="5.7" height="4.1" fill="#0000cd"/>
<rect x="605.3" y="1162.5" width="5.7" height="4.1" fill="#4169e1"/>
<rect x="610.7" y="1162.5" width="5.7" height="4.1" fill="#4169e1"/>
<rect x="616.1" y="1162.5" width="5.7" height="4.1" fill="#4169e1"/>
<rect x="621.5" y="1162.5" width="5.7" height="4.1" fill="#006400"/>
<rect x="562.1" y="1166.3" width="5.7" height="4.1" fill="#006400"/>
<rect x="567.5" y="1166.3" width="5.7" height="4.1" fill="#0000cd"/>
<rect x="572.9" y="1166.3" width="5.7" height="4.1" fill="#228b22"/>
<rect x="583.7" y="1166.3" width="5.7" height="4.1" fill="#228b22"/>
<rect x="589.1" y="1166.3" width="5.7" height="4.1" fill="#7b9cf0"/>
<rect x="594.5" y="1166.3" width="5.7" height="4.1" fill="#ffe600"/>
<rect x="605.3" y="1166.3" width="5.7" height="4.1" fill="#228b22"/>
<rect x="610.7" y="1166.3" width="5.7" height="4.1" fill="#228b22"/>
<rect x="621.5" y="1166.3" width="5.7" height="4.1" fill="#006400"/>
<rect x="572.9" y="1170.1" width="5.7" height="4.1" fill="#0000cd"/>
<rect x="578.3" y="1170.1" width="5.7" height="4.1" fill="#0000cd"/>
<rect x="583.7" y="1170.1" width="5.7" height="4.1" fill="#228b22"/>
<rect x="589.1" y="1170.1" width="5.7" height="4.1" fill="#4169e1"/>
<rect x="599.9" y="1170.1" width="5.7" height="4.1" fill="#ffe600"/>
<rect x="605.3" y="1170.1" width="5.7" height="4.1" fill="#0000cd"/>
<rect x="610.7" y="1170.1" width="5.7" height="4.1" fill="#228b22"/>
<rect x="589.1" y="1173.9" width="5.7" height="4.1" fill="#4169e1"/>
<rect x="594.5" y="1173.9" width="5.7" height="4.1" fill="#228b22"/>
<rect x="599.9" y="1173.9" width="5.7" height="4.1" fill="#228b22"/>
<rect x="605.3" y="1173.9" width="5.7" height="4.1" fill="#4169e1"/>
<rect x="610.7" y="1173.9" width="5.7" height="4.1" fill="#4169e1"/>
<rect x="594.5" y="1177.7" width="5.7" height="4.1" fill="#006400"/>
<rect x="599.9" y="1177.7" width="5.7" height="4.1" fill="#7b9cf0"/>
<rect x="605.3" y="1177.7" width="5.7" height="4.1" fill="#0000cd"/>
<rect x="610.7" y="1177.7" width="5.7" height="4.1" fill="#4169e1"/>
<rect x="616.1" y="1177.7" width="5.7" height="4.1" fill="#0000cd"/>
<rect x="621.5" y="1177.7" width="5.7" height="4.1" fill="#0000cd"/>
<rect x="594.5" y="1181.5" width="5.7" height="4.1" fill="#228b22"/>
<rect x="599.9" y="1181.5" width="5.7" height="4.1" fill="#228b22"/>
<rect x="605.3" y="1181.5" width="5.7" height="4.1" fill="#9370db"/>
<rect x="610.7" y="1181.5" width="5.7" height="4.1" fill="#4169e1"/>
<rect x="616.1" y="1181.5" width="5.7" height="4.1" fill="#228b22"/>
<rect x="621.5" y="1181.5" width="5.7" height="4.1" fill="#0000cd"/>
<rect x="599.9" y="1185.3" width="5.7" height="4.1" fill="#228b22"/>
<rect x="605.3" y="1185.3" width="5.7" height="4.1" fill="#006400"/>
<rect x="610.7" y="1185.3" width="5.7" height="4.1" fill="#4169e1"/>
<rect x="594.5" y="1189.1" width="5.7" height="4.1" fill="#0000cd"/>
<rect x="599.9" y="1189.1" width="5.7" height="4.1" fill="#4169e1"/>
<rect x="605.3" y="1189.1" width="5.7" height="4.1" fill="#7b9cf0"/>
<rect x="610.7" y="1189.1" width="5.7" height="4.1" fill="#7b9cf0"/>
<rect x="616.1" y="1189.1" width="5.7" height="4.1" fill="#7b9cf0"/>
<rect x="621.5" y="1189.1" width="5.7" height="4.1" fill="#7b9cf0"/>
<rect x="589.1" y="1193.0" width="5.7" height="4.1" fill="#7b9cf0"/>
<rect x="594.5" y="1193.0" width="5.7" height="4.1" fill="#4169e1"/>
<rect x="599.9" y="1193.0" width="5.7" height="4.1" fill="#4169e1"/>
<rect x="605.3" y="1193.0" width="5.7" height="4.1" fill="#7b9cf0"/>
<rect x="616.1" y="1193.0" width="5.7" height="4.1" fill="#7b9cf0"/>
<rect x="621.5" y="1193.0" width="5.7" height="4.1" fill="#0000cd"/>
<rect x="605.3" y="1196.8" width="5.7" height="4.1" fill="#0000cd"/>
<rect x="610.7" y="1196.8" width="5.7" height="4.1" fill="#4169e1"/>
<rect x="616.1" y="1196.8" width="5.7" height="4.1" fill="#0000cd"/>
<rect x="621.5" y="1196.8" width="5.7" height="4.1" fill="#0000cd"/>
<rect x="605.3" y="1200.6" width="5.7" height="4.1" fill="#228b22"/>
<rect x="610.7" y="1200.6" width="5.7" height="4.1" fill="#7b9cf0"/>
<rect x="616.1" y="1200.6" width="5.7" height="4.1" fill="#0000cd"/>
<rect x="621.5" y="1200.6" width="5.7" height="4.1" fill="#0000cd"/>
<rect x="605.3" y="1204.4" width="5.7" height="4.1" fill="#7b9cf0"/>
<rect x="610.7" y="1204.4" width="5.7" height="4.1" fill="#7b9cf0"/>
<rect x="616.1" y="1204.4" width="5.7" height="4.1" fill="#7b9cf0"/>
<rect x="621.5" y="1204.4" width="5.7" height="4.1" fill="#0000cd"/>
<rect x="594.5" y="1208.2" width="5.7" height="4.1" fill="#7b9cf0"/>
<rect x="599.9" y="1208.2" width="5.7" height="4.1" fill="#7b9cf0"/>
<rect x="610.7" y="1208.2" width="5.7" height="4.1" fill="#7b9cf0"/>
<rect x="616.1" y="1208.2" width="5.7" height="4.1" fill="#7b9cf0"/>
<rect x="621.5" y="1208.2" width="5.7" height="4.1" fill="#228b22"/>
<rect x="605.3" y="1212.0" width="5.7" height="4.1" fill="#7b9cf0"/>
<rect x="610.7" y="1212.0" width="5.7" height="4.1" fill="#7b9cf0"/>
<rect x="616.1" y="1212.0" width="5.7" height="4.1" fill="#7b9cf0"/>
<rect x="621.5" y="1212.0" width="5.7" height="4.1" fill="#0000cd"/>
<rect x="605.3" y="1215.8" width="5.7" height="4.1" fill="#e673dc"/>
<rect x="610.7" y="1215.8" width="5.7" height="4.1" fill="#7b9cf0"/>
<rect x="616.1" y="1215.8" width="5.7" height="4.1" fill="#006400"/>
<rect x="621.5" y="1215.8" width="5.7" height="4.1" fill="#7b9cf0"/>
<rect x="605.3" y="1219.7" width="5.7" height="4.1" fill="#9370db"/>
<rect x="610.7" y="1219.7" width="5.7" height="4.1" fill="#7b9cf0"/>
<rect x="616.1" y="1219.7" width="5.7" height="4.1" fill="#7b9cf0"/>
<rect x="621.5" y="1219.7" width="5.7" height="4.1" fill="#7b9cf0"/>
<rect x="605.3" y="1223.5" width="5.7" height="4.1" fill="#4169e1"/>
<rect x="610.7" y="1223.5" width="5.7" height="4.1" fill="#4169e1"/>
<rect x="616.1" y="1223.5" width="5.7" height="4.1" fill="#7b9cf0"/>
<rect x="621.5" y="1223.5" width="5.7" height="4.1" fill="#006400"/>
<rect x="599.9" y="1227.3" width="5.7" height="4.1" fill="#7b9cf0"/>
<rect x="605.3" y="1227.3" width="5.7" height="4.1" fill="#0000cd"/>
<rect x="610.7" y="1227.3" width="5.7" height="4.1" fill="#0000cd"/>
<rect x="616.1" y="1227.3" width="5.7" height="4.1" fill="#7b9cf0"/>
<rect x="599.9" y="1231.1" width="5.7" height="4.1" fill="#7b9cf0"/>
<rect x="605.3" y="1231.1" width="5.7" height="4.1" fill="#0000cd"/>
<rect x="610.7" y="1231.1" width="5.7" height="4.1" fill="#0000cd"/>
<rect x="616.1" y="1231.1" width="5.7" height="4.1" fill="#7b9cf0"/>
<rect x="605.3" y="1234.9" width="5.7" height="4.1" fill="#ffe600"/>
<rect x="610.7" y="1234.9" width="5.7" height="4.1" fill="#7b9cf0"/>
<rect x="616.1" y="1234.9" width="5.7" height="4.1" fill="#4169e1"/>
<rect x="589.1" y="1238.7" width="5.7" height="4.1" fill="#4169e1"/>
<rect x="594.5" y="1238.7" width="5.7" height="4.1" fill="#0000cd"/>
<rect x="599.9" y="1238.7" width="5.7" height="4.1" fill="#0000cd"/>
<rect x="605.3" y="1238.7" width="5.7" height="4.1" fill="#7b9cf0"/>
<rect x="610.7" y="1238.7" width="5.7" height="4.1" fill="#7b9cf0"/>
<rect x="589.1" y="1242.5" width="5.7" height="4.1" fill="#006400"/>
<rect x="594.5" y="1242.5" width="5.7" height="4.1" fill="#7b9cf0"/>
<rect x="599.9" y="1242.5" width="5.7" height="4.1" fill="#7b9cf0"/>
<rect x="605.3" y="1242.5" width="5.7" height="4.1" fill="#006400"/>
<rect x="610.7" y="1242.5" width="5.7" height="4.1" fill="#006400"/>
<rect x="583.7" y="1246.4" width="5.7" height="4.1" fill="#006400"/>
<rect x="589.1" y="1246.4" width="5.7" height="4.1" fill="#7b9cf0"/>
<rect x="594.5" y="1246.4" width="5.7" height="4.1" fill="#7b9cf0"/>
<rect x="599.9" y="1246.4" width="5.7" height="4.1" fill="#ffe600"/>
<rect x="605.3" y="1246.4" width="5.7" height="4.1" fill="#006400"/>
<rect x="610.7" y="1246.4" width="5.7" height="4.1" fill="#006400"/>
<rect x="583.7" y="1250.2" width="5.7" height="4.1" fill="#4169e1"/>
<rect x="589.1" y="1250.2" width="5.7" height="4.1" fill="#4169e1"/>
<rect x="594.5" y="1250.2" width="5.7" height="4.1" fill="#228b22"/>
<rect x="599.9" y="1250.2" width="5.7" height="4.1" fill="#0000cd"/>
<rect x="605.3" y="1250.2" width="5.7" height="4.1" fill="#7b9cf0"/>
<rect x="610.7" y="1250.2" width="5.7" height="4.1" fill="#0000cd"/>
<rect x="583.7" y="1254.0" width="5.7" height="4.1" fill="#0000cd"/>
<rect x="589.1" y="1254.0" width="5.7" height="4.1" fill="#228b22"/>
<rect x="594.5" y="1254.0" width="5.7" height="4.1" fill="#228b22"/>
<rect x="599.9" y="1254.0" width="5.7" height="4.1" fill="#228b22"/>
<rect x="605.3" y="1254.0" width="5.7" height="4.1" fill="#228b22"/>
<rect x="610.7" y="1254.0" width="5.7" height="4.1" fill="#4169e1"/>
<rect x="583.7" y="1257.8" width="5.7" height="4.1" fill="#006400"/>
<rect x="599.9" y="1257.8" width="5.7" height="4.1" fill="#0000cd"/>
<rect x="605.3" y="1257.8" width="5.7" height="4.1" fill="#4169e1"/>
<rect x="610.7" y="1257.8" width="5.7" height="4.1" fill="#4169e1"/>
<rect x="589.1" y="1261.6" width="5.7" height="4.1" fill="#006400"/>
<rect x="599.9" y="1261.6" width="5.7" height="4.1" fill="#0000cd"/>
<rect x="605.3" y="1261.6" width="5.7" height="4.1" fill="#4169e1"/>
<rect x="583.7" y="1265.4" width="5.7" height="4.1" fill="#4169e1"/>
<rect x="589.1" y="1265.4" width="5.7" height="4.1" fill="#4169e1"/>
<rect x="594.5" y="1265.4" width="5.7" height="4.1" fill="#228b22"/>
<rect x="599.9" y="1265.4" width="5.7" height="4.1" fill="#228b22"/>
<rect x="605.3" y="1265.4" width="5.7" height="4.1" fill="#7b9cf0"/>
<rect x="610.7" y="1265.4" width="5.7" height="4.1" fill="#7b9cf0"/>
<rect x="616.1" y="1265.4" width="5.7" height="4.1" fill="#4169e1"/>
<rect x="583.7" y="1269.2" width="5.7" height="4.1" fill="#e673dc"/>
<rect x="589.1" y="1269.2" width="5.7" height="4.1" fill="#4169e1"/>
<rect x="594.5" y="1269.2" width="5.7" height="4.1" fill="#228b22"/>
<rect x="599.9" y="1269.2" width="5.7" height="4.1" fill="#228b22"/>
<rect x="610.7" y="1269.2" width="5.7" height="4.1" fill="#7b9cf0"/>
<rect x="616.1" y="1269.2" width="5.7" height="4.1" fill="#4169e1"/>
<rect x="621.5" y="1269.2" width="5.7" height="4.1" fill="#4169e1"/>
<rect x="578.3" y="1273.0" width="5.7" height="4.1" fill="#228b22"/>
<rect x="589.1" y="1273.0" width="5.7" height="4.1" fill="#228b22"/>
<rect x="594.5" y="1273.0" width="5.7" height="4.1" fill="#228b22"/>
<rect x="599.9" y="1273.0" width="5.7" height="4.1" fill="#228b22"/>
<rect x="605.3" y="1273.0" width="5.7" height="4.1" fill="#006400"/>
<rect x="610.7" y="1273.0" width="5.7" height="4.1" fill="#006400"/>
<rect x="616.1" y="1273.0" width="5.7" height="4.1" fill="#4169e1"/>
<rect x="621.5" y="1273.0" width="5.7" height="4.1" fill="#4169e1"/>
<rect x="578.3" y="1276.9" width="5.7" height="4.1" fill="#228b22"/>
<rect x="583.7" y="1276.9" width="5.7" height="4.1" fill="#228b22"/>
<rect x="589.1" y="1276.9" width="5.7" height="4.1" fill="#228b22"/>
<rect x="599.9" y="1276.9" width="5.7" height="4.1" fill="#228b22"/>
<rect x="605.3" y="1276.9" width="5.7" height="4.1" fill="#006400"/>
<rect x="610.7" y="1276.9" width="5.7" height="4.1" fill="#006400"/>
<rect x="616.1" y="1276.9" width="5.7" height="4.1" fill="#4169e1"/>
<rect x="621.5" y="1276.9" width="5.7" height="4.1" fill="#4169e1"/>
<rect x="583.7" y="1280.7" width="5.7" height="4.1" fill="#7b9cf0"/>
<rect x="589.1" y="1280.7" width="5.7" height="4.1" fill="#4169e1"/>
<rect x="599.9" y="1280.7" width="5.7" height="4.1" fill="#4169e1"/>
<rect x="605.3" y="1280.7" width="5.7" height="4.1" fill="#0000cd"/>
<rect x="610.7" y="1280.7" width="5.7" height="4.1" fill="#0000cd"/>
<rect x="616.1" y="1280.7" width="5.7" height="4.1" fill="#4169e1"/>
<rect x="585.3" y="1243.8" width="19.1" height="12.7" fill="#228b22"/>
<rect x="583.7" y="1253.3" width="7.9" height="6.4" fill="#006400"/>
<rect x="604.4" y="1212.0" width="11.1" height="17.5" fill="#228b22"/>
<rect x="608.3" y="1213.6" width="7.9" height="6.4" fill="#006400"/>
<rect x="581.3" y="1166.4" width="12.7" height="7.0" fill="#228b22"/>
<rect x="598.0" y="1174.7" width="15.9" height="7.9" fill="#228b22"/>
<rect x="605.9" y="1179.5" width="9.5" height="6.4" fill="#006400"/>
<rect x="598.0" y="1190.6" width="7.9" height="6.4" fill="#228b22"/>
<rect x="611.5" y="1200.9" width="6.4" height="7.9" fill="#006400"/>
<rect x="606.7" y="1232.7" width="6.4" height="4.8" fill="#006400"/>
<rect x="606.7" y="1238.2" width="11.1" height="4.8" fill="#228b22"/>
<rect x="603.6" y="1250.2" width="7.9" height="6.4" fill="#006400"/>
<rect x="578.1" y="1144.5" width="9.5" height="6.4" fill="#006400"/>
<rect x="575.0" y="1150.1" width="11.1" height="4.8" fill="#228b22"/>
<rect x="605.2" y="1133.4" width="6.4" height="6.4" fill="#006400"/>
<rect x="611.5" y="1270.0" width="6.4" height="4.8" fill="#006400"/>
<rect x="592.4" y="1265.3" width="6.4" height="7.9" fill="#006400"/>
<rect x="578.9" y="1276.4" width="6.4" height="6.4" fill="#228b22"/>
<rect x="597.2" y="1247.0" width="6.4" height="4.8" fill="#ffe600"/>
<rect x="592.0" y="1239.0" width="7.2" height="7.9" fill="#ffe600"/>
<rect x="605.9" y="1248.4" width="4.8" height="3.5" fill="#ffe600"/>
<rect x="608.3" y="1238.2" width="6.4" height="3.2" fill="#ffe600"/>
<rect x="602.4" y="1227.5" width="7.2" height="5.6" fill="#ffc800"/>
<rect x="594.8" y="1227.0" width="6.4" height="3.5" fill="#0000cd"/>
<rect x="609.1" y="1249.4" width="6.4" height="6.4" fill="#0000cd"/>
<rect x="592.4" y="1255.7" width="9.5" height="9.5" fill="#0000cd"/>
<rect x="602.0" y="1263.7" width="9.5" height="6.4" fill="#0000cd"/>
<rect x="598.0" y="1266.9" width="11.1" height="9.5" fill="#4169e1"/>
<rect x="606.7" y="1269.2" width="6.4" height="4.8" fill="#7b9cf0"/>
<rect x="605.2" y="1193.8" width="11.1" height="6.4" fill="#0000cd"/>
<rect x="605.2" y="1189.0" width="6.4" height="6.4" fill="#4169e1"/>
<rect x="617.9" y="1195.3" width="6.4" height="6.4" fill="#4169e1"/>
<rect x="606.7" y="1200.9" width="6.4" height="6.4" fill="#0000cd"/>
<rect x="617.1" y="1212.8" width="7.9" height="9.5" fill="#0000cd"/>
<rect x="610.7" y="1220.0" width="11.1" height="7.9" fill="#4169e1"/>
<rect x="598.3" y="1209.5" width="5.7" height="3.5" fill="#4169e1"/>
<rect x="617.9" y="1207.3" width="6.4" height="4.8" fill="#7b9cf0"/>
<rect x="633.0" y="1166.0" width="6.0" height="4.0" fill="#7b9cf0"/>
<rect x="629.0" y="1166.0" width="6.0" height="4.0" fill="#7b9cf0"/>
<rect x="633.0" y="1170.0" width="6.0" height="4.0" fill="#7b9cf0"/>
<rect x="631.0" y="1170.0" width="6.0" height="4.0" fill="#4169e1"/>
<rect x="632.0" y="1173.0" width="6.0" height="3.0" fill="#7b9cf0"/>
<rect x="631.0" y="1173.0" width="6.0" height="3.0" fill="#7b9cf0"/>
<rect x="633.0" y="1179.0" width="6.0" height="3.0" fill="#7b9cf0"/>
<rect x="629.0" y="1179.0" width="6.0" height="3.0" fill="#4169e1"/>
<rect x="632.0" y="1182.0" width="6.0" height="3.0" fill="#0000cd"/>
<rect x="630.0" y="1182.0" width="6.0" height="3.0" fill="#0000cd"/>
<rect x="636.8" y="1182.6" width="6.0" height="7.9" fill="#e673dc"/>
<rect x="625.3" y="1191.0" width="5.7" height="4.0" fill="#e673dc"/>
<rect x="632.0" y="1200.0" width="6.0" height="3.0" fill="#e673dc"/>
<rect x="632.0" y="1203.0" width="6.0" height="3.0" fill="#e673dc"/>
<rect x="631.0" y="1209.0" width="6.0" height="3.0" fill="#7b9cf0"/>
<rect x="632.0" y="1212.0" width="6.0" height="3.0" fill="#7b9cf0"/>
<rect x="631.0" y="1221.0" width="6.0" height="3.0" fill="#7b9cf0"/>
<rect x="629.0" y="1221.0" width="6.0" height="3.0" fill="#7b9cf0"/>
<rect x="631.0" y="1227.0" width="6.0" height="3.0" fill="#7b9cf0"/>
<rect x="628.0" y="1227.0" width="6.0" height="3.0" fill="#0000cd"/>
<rect x="628.0" y="1229.0" width="6.0" height="4.0" fill="#006400"/>
<rect x="631.0" y="1233.0" width="6.0" height="4.0" fill="#7b9cf0"/>
<rect x="629.0" y="1233.0" width="6.0" height="4.0" fill="#006400"/>
<rect x="624.0" y="1244.0" width="6.0" height="4.0" fill="#4169e1"/>
<rect x="626.0" y="1248.0" width="6.0" height="4.0" fill="#4169e1"/>
<rect x="623.0" y="1247.0" width="6.0" height="4.0" fill="#7b9cf0"/>
<rect x="627.0" y="1252.0" width="6.0" height="4.0" fill="#4169e1"/>
<rect x="624.0" y="1251.0" width="6.0" height="4.0" fill="#7b9cf0"/>
<rect x="627.0" y="1255.0" width="6.0" height="4.0" fill="#7b9cf0"/>
<rect x="623.0" y="1255.0" width="6.0" height="4.0" fill="#7b9cf0"/>
<rect x="625.0" y="1259.0" width="6.0" height="4.0" fill="#7b9cf0"/>
<rect x="623.0" y="1258.0" width="6.0" height="4.0" fill="#7b9cf0"/>
<rect x="578.1" y="1108.4" width="7.9" height="4.8" fill="#4169e1"/>
<rect x="598.4" y="1114.3" width="7.2" height="4.8" fill="#4169e1"/>
<rect x="577.3" y="1121.0" width="6.4" height="5.1" fill="#e673dc"/>
<rect x="570.2" y="1099.7" width="6.4" height="2.2" fill="#4169e1"/>
<rect x="596.4" y="1288.8" width="6.4" height="2.2" fill="#0000cd"/>
<rect x="600.2" y="1297.4" width="4.1" height="4.1" fill="#0000cd"/>
<rect x="599.1" y="1301.5" width="4.1" height="3.2" fill="#7b9cf0"/>
<rect x="617.1" y="1282.4" width="4.8" height="3.8" fill="#4169e1"/>
<rect x="617.5" y="1276.2" width="7.2" height="3.5" fill="#e673dc"/>
<rect x="608.7" y="1275.2" width="7.2" height="4.0" fill="#ffe600"/>
<rect x="590.7" y="1195.7" width="6.7" height="7.2" fill="#ffe600"/>
<rect x="601.6" y="1226.7" width="7.2" height="5.6" fill="#ffc800"/>
<rect x="592.8" y="1238.2" width="7.2" height="7.9" fill="#ffe600"/>
<rect x="605.9" y="1247.5" width="4.8" height="3.8" fill="#ffe600"/>
<rect x="579.7" y="1158.8" width="6.4" height="4.8" fill="#ffe600"/>
<rect x="581.5" y="1163.7" width="5.4" height="3.5" fill="#ff6400"/>
<rect x="582.9" y="1172.8" width="9.5" height="3.2" fill="#ffe600"/>
<rect x="340.0" y="1308.0" width="5.0" height="6.0" fill="#006400"/>
<rect x="338.0" y="1311.0" width="5.0" height="6.0" fill="#006400"/>
<rect x="343.0" y="1311.0" width="5.0" height="6.0" fill="#006400"/>
<rect x="341.0" y="1313.0" width="5.0" height="6.0" fill="#006400"/>
<rect x="346.0" y="1312.0" width="5.0" height="6.0" fill="#006400"/>
<rect x="345.0" y="1314.0" width="5.0" height="6.0" fill="#006400"/>
<rect x="348.0" y="1314.0" width="5.0" height="6.0" fill="#006400"/>
<rect x="347.0" y="1316.0" width="5.0" height="6.0" fill="#006400"/>
<rect x="352.0" y="1315.0" width="5.0" height="6.0" fill="#006400"/>
<rect x="350.0" y="1319.0" width="5.0" height="6.0" fill="#006400"/>
<rect x="353.0" y="1316.0" width="5.0" height="6.0" fill="#0000cd"/>
<rect x="354.0" y="1317.0" width="5.0" height="6.0" fill="#006400"/>
<rect x="356.0" y="1313.0" width="5.0" height="6.0" fill="#006400"/>
<rect x="358.0" y="1317.0" width="5.0" height="6.0" fill="#006400"/>
<rect x="360.0" y="1313.0" width="5.0" height="6.0" fill="#0000cd"/>
<rect x="360.0" y="1314.0" width="5.0" height="6.0" fill="#006400"/>
<rect x="363.0" y="1311.0" width="5.0" height="6.0" fill="#0000cd"/>
<rect x="363.0" y="1313.0" width="5.0" height="6.0" fill="#0000cd"/>
<rect x="366.0" y="1311.0" width="5.0" height="6.0" fill="#0000cd"/>
<rect x="367.0" y="1313.0" width="5.0" height="6.0" fill="#0000cd"/>
<rect x="368.0" y="1308.0" width="5.0" height="6.0" fill="#0000cd"/>
<rect x="370.0" y="1311.0" width="5.0" height="6.0" fill="#0000cd"/>
<rect x="372.0" y="1308.0" width="5.0" height="6.0" fill="#0000cd"/>
<rect x="373.0" y="1310.0" width="5.0" height="6.0" fill="#0000cd"/>
<rect x="375.0" y="1306.0" width="5.0" height="6.0" fill="#4169e1"/>
<rect x="376.0" y="1308.0" width="5.0" height="6.0" fill="#0000cd"/>
<rect x="378.0" y="1304.0" width="5.0" height="6.0" fill="#4169e1"/>
<rect x="379.0" y="1307.0" width="5.0" height="6.0" fill="#0000cd"/>
<rect x="382.0" y="1304.0" width="5.0" height="6.0" fill="#0000cd"/>
<rect x="382.0" y="1305.0" width="5.0" height="6.0" fill="#4169e1"/>
<rect x="384.0" y="1305.0" width="5.0" height="6.0" fill="#4169e1"/>
<rect x="380.0" y="1306.0" width="5.0" height="6.0" fill="#4169e1"/>
<rect x="384.0" y="1309.0" width="4.0" height="6.0" fill="#4169e1"/>
<rect x="382.0" y="1309.0" width="5.0" height="6.0" fill="#4169e1"/>
<rect x="384.0" y="1312.0" width="4.0" height="6.0" fill="#0000cd"/>
<rect x="383.0" y="1313.0" width="4.0" height="6.0" fill="#4169e1"/>
<rect x="385.0" y="1315.0" width="4.0" height="6.0" fill="#4169e1"/>
<rect x="383.0" y="1316.0" width="4.0" height="6.0" fill="#228b22"/>
<rect x="385.0" y="1319.0" width="4.0" height="6.0" fill="#4169e1"/>
<rect x="383.0" y="1320.0" width="4.0" height="6.0" fill="#0000cd"/>
<rect x="388.0" y="1322.0" width="4.0" height="6.0" fill="#4169e1"/>
<rect x="386.0" y="1323.0" width="4.0" height="6.0" fill="#0000cd"/>
<rect x="388.0" y="1326.0" width="4.0" height="6.0" fill="#4169e1"/>
<rect x="386.0" y="1326.0" width="4.0" height="6.0" fill="#0000cd"/>
<rect x="389.0" y="1329.0" width="4.0" height="6.0" fill="#0000cd"/>
<rect x="387.0" y="1330.0" width="4.0" height="6.0" fill="#0000cd"/>
<rect x="390.0" y="1332.0" width="4.0" height="6.0" fill="#0000cd"/>
<rect x="388.0" y="1333.0" width="4.0" height="6.0" fill="#0000cd"/>
<rect x="392.0" y="1334.0" width="4.0" height="6.0" fill="#006400"/>
<rect x="391.0" y="1336.0" width="4.0" height="6.0" fill="#006400"/>
<rect x="395.0" y="1337.0" width="4.0" height="6.0" fill="#006400"/>
<rect x="392.0" y="1339.0" width="4.0" height="6.0" fill="#006400"/>
<rect x="396.0" y="1341.0" width="4.0" height="6.0" fill="#0000cd"/>
<rect x="394.0" y="1342.0" width="4.0" height="6.0" fill="#0000cd"/>
<rect x="399.0" y="1343.0" width="4.0" height="6.0" fill="#4169e1"/>
<rect x="396.0" y="1345.0" width="4.0" height="6.0" fill="#4169e1"/>
<rect x="401.0" y="1344.0" width="4.0" height="6.0" fill="#4169e1"/>
<rect x="400.0" y="1346.0" width="4.0" height="6.0" fill="#4169e1"/>
<rect x="404.0" y="1345.0" width="4.0" height="6.0" fill="#4169e1"/>
<rect x="403.0" y="1349.0" width="4.0" height="6.0" fill="#4169e1"/>
<rect x="408.0" y="1346.0" width="4.0" height="6.0" fill="#4169e1"/>
<rect x="407.0" y="1348.0" width="4.0" height="6.0" fill="#4169e1"/>
<rect x="410.0" y="1349.0" width="4.0" height="6.0" fill="#4169e1"/>
<rect x="408.0" y="1352.0" width="4.0" height="6.0" fill="#4169e1"/>
<rect x="413.0" y="1353.0" width="4.0" height="6.0" fill="#7b9cf0"/>
<rect x="411.0" y="1353.0" width="4.0" height="6.0" fill="#4169e1"/>
<rect x="412.0" y="1356.0" width="4.0" height="6.0" fill="#7b9cf0"/>
<rect x="411.0" y="1356.0" width="4.0" height="6.0" fill="#4169e1"/>
<rect x="412.0" y="1360.0" width="4.0" height="6.0" fill="#7b9cf0"/>
<rect x="410.0" y="1360.0" width="4.0" height="6.0" fill="#4169e1"/>
<rect x="411.0" y="1363.0" width="3.0" height="6.0" fill="#4169e1"/>
<rect x="410.0" y="1363.0" width="4.0" height="6.0" fill="#7b9cf0"/>
<rect x="414.0" y="1367.0" width="3.0" height="6.0" fill="#7b9cf0"/>
<rect x="411.0" y="1367.0" width="4.0" height="6.0" fill="#7b9cf0"/>
<rect x="411.0" y="1370.0" width="3.0" height="6.0" fill="#7b9cf0"/>
<rect x="410.0" y="1370.0" width="4.0" height="6.0" fill="#7b9cf0"/>
<rect x="413.0" y="1303.0" width="4.0" height="6.0" fill="#228b22"/>
<rect x="410.0" y="1301.0" width="4.0" height="6.0" fill="#228b22"/>
<rect x="412.0" y="1306.0" width="4.0" height="6.0" fill="#228b22"/>
<rect x="409.0" y="1304.0" width="4.0" height="6.0" fill="#0000cd"/>
<rect x="410.0" y="1309.0" width="4.0" height="6.0" fill="#228b22"/>
<rect x="406.0" y="1307.0" width="4.0" height="6.0" fill="#228b22"/>
<rect x="411.0" y="1310.0" width="4.0" height="6.0" fill="#0000cd"/>
<rect x="407.0" y="1312.0" width="4.0" height="6.0" fill="#0000cd"/>
<rect x="411.0" y="1313.0" width="4.0" height="6.0" fill="#0000cd"/>
<rect x="409.0" y="1315.0" width="4.0" height="6.0" fill="#0000cd"/>
<rect x="413.0" y="1314.0" width="4.0" height="6.0" fill="#0000cd"/>
<rect x="413.0" y="1316.0" width="4.0" height="6.0" fill="#0000cd"/>
<rect x="417.0" y="1315.0" width="4.0" height="6.0" fill="#4169e1"/>
<rect x="416.0" y="1317.0" width="4.0" height="6.0" fill="#4169e1"/>
<rect x="420.0" y="1316.0" width="3.0" height="6.0" fill="#4169e1"/>
<rect x="420.0" y="1318.0" width="3.0" height="6.0" fill="#4169e1"/>
<rect x="423.0" y="1320.0" width="3.0" height="6.0" fill="#4169e1"/>
<rect x="420.0" y="1322.0" width="3.0" height="6.0" fill="#4169e1"/>
<rect x="426.0" y="1323.0" width="3.0" height="6.0" fill="#0000cd"/>
<rect x="423.0" y="1323.0" width="3.0" height="6.0" fill="#0000cd"/>
<rect x="426.0" y="1327.0" width="3.0" height="6.0" fill="#0000cd"/>
<rect x="423.0" y="1327.0" width="3.0" height="6.0" fill="#0000cd"/>
<rect x="429.0" y="1283.0" width="3.0" height="6.0" fill="#7b9cf0"/>
<rect x="426.0" y="1283.0" width="3.0" height="6.0" fill="#7b9cf0"/>
<rect x="432.0" y="1286.0" width="3.0" height="6.0" fill="#7b9cf0"/>
<rect x="429.0" y="1286.0" width="3.0" height="6.0" fill="#0000cd"/>
<rect x="432.0" y="1290.0" width="3.0" height="6.0" fill="#7b9cf0"/>
<rect x="429.0" y="1290.0" width="3.0" height="6.0" fill="#7b9cf0"/>
<rect x="429.0" y="1293.0" width="3.0" height="6.0" fill="#0000cd"/>
<rect x="426.0" y="1293.0" width="3.0" height="6.0" fill="#0000cd"/>
<rect x="432.0" y="1295.0" width="3.0" height="6.0" fill="#0000cd"/>
<rect x="426.0" y="1298.0" width="3.0" height="6.0" fill="#0000cd"/>
<rect x="429.0" y="1301.0" width="3.0" height="6.0" fill="#0000cd"/>
<rect x="435.0" y="1301.0" width="3.0" height="6.0" fill="#0000cd"/>
<rect x="435.0" y="1306.0" width="3.0" height="6.0" fill="#0000cd"/>
<rect x="435.0" y="1309.0" width="3.0" height="6.0" fill="#e673dc"/>
<rect x="432.0" y="1309.0" width="3.0" height="6.0" fill="#0000cd"/>
<rect x="435.0" y="1313.0" width="3.0" height="6.0" fill="#e673dc"/>
<rect x="432.0" y="1312.0" width="3.0" height="6.0" fill="#0000cd"/>
<rect x="432.0" y="1316.0" width="3.0" height="6.0" fill="#e673dc"/>
<rect x="429.0" y="1316.0" width="3.0" height="6.0" fill="#006400"/>
<rect x="435.0" y="1320.0" width="3.0" height="6.0" fill="#006400"/>
<rect x="435.0" y="1323.0" width="3.0" height="6.0" fill="#e673dc"/>
<rect x="429.0" y="1323.0" width="3.0" height="6.0" fill="#006400"/>
<rect x="429.0" y="1326.0" width="3.0" height="6.0" fill="#228b22"/>
<rect x="432.0" y="1330.0" width="3.0" height="6.0" fill="#228b22"/>
<rect x="429.0" y="1330.0" width="3.0" height="6.0" fill="#228b22"/>
<rect x="432.0" y="1333.0" width="3.0" height="6.0" fill="#228b22"/>
<rect x="429.0" y="1333.0" width="3.0" height="6.0" fill="#228b22"/>
<rect x="435.0" y="1336.0" width="3.0" height="6.0" fill="#4169e1"/>
<rect x="429.0" y="1337.0" width="3.0" height="6.0" fill="#228b22"/>
<rect x="435.0" y="1340.0" width="3.0" height="6.0" fill="#0000cd"/>
<rect x="432.0" y="1340.0" width="3.0" height="6.0" fill="#0000cd"/>
<rect x="435.0" y="1342.0" width="3.0" height="6.0" fill="#4169e1"/>
<rect x="432.0" y="1344.0" width="3.0" height="6.0" fill="#4169e1"/>
<rect x="435.0" y="1346.0" width="3.0" height="6.0" fill="#4169e1"/>
<rect x="432.0" y="1347.0" width="3.0" height="6.0" fill="#4169e1"/>
<rect x="425.2" y="1331.7" width="3.2" height="4.0" fill="#ff6400"/>
<rect x="427.6" y="1352.5" width="2.7" height="4.8" fill="#ffc800"/>
<rect x="435.0" y="1303.0" width="3.0" height="6.0" fill="#7b9cf0"/>
<rect x="435.0" y="1306.0" width="3.0" height="6.0" fill="#4169e1"/>
<rect x="438.0" y="1304.0" width="3.0" height="6.0" fill="#7b9cf0"/>
<rect x="438.0" y="1307.0" width="3.0" height="6.0" fill="#7b9cf0"/>
<rect x="441.0" y="1307.0" width="3.0" height="6.0" fill="#7b9cf0"/>
<rect x="441.0" y="1310.0" width="3.0" height="6.0" fill="#7b9cf0"/>
<rect x="447.0" y="1309.0" width="3.0" height="6.0" fill="#7b9cf0"/>
<rect x="444.0" y="1311.0" width="3.0" height="6.0" fill="#7b9cf0"/>
<rect x="447.0" y="1312.0" width="3.0" height="6.0" fill="#e673dc"/>
<rect x="447.0" y="1314.0" width="3.0" height="6.0" fill="#7b9cf0"/>
<rect x="450.0" y="1316.0" width="3.0" height="6.0" fill="#7b9cf0"/>
<rect x="447.0" y="1318.0" width="3.0" height="6.0" fill="#7b9cf0"/>
<rect x="453.0" y="1319.0" width="3.0" height="6.0" fill="#e673dc"/>
<rect x="450.0" y="1320.0" width="3.0" height="6.0" fill="#e673dc"/>
<rect x="453.0" y="1322.0" width="4.0" height="6.0" fill="#7b9cf0"/>
<rect x="453.0" y="1323.0" width="3.0" height="6.0" fill="#e673dc"/>
<rect x="438.0" y="1341.0" width="3.0" height="6.0" fill="#4169e1"/>
<rect x="435.0" y="1342.0" width="3.0" height="6.0" fill="#4169e1"/>
<rect x="441.0" y="1343.0" width="3.0" height="6.0" fill="#4169e1"/>
<rect x="438.0" y="1344.0" width="3.0" height="6.0" fill="#4169e1"/>
<rect x="444.0" y="1345.0" width="3.0" height="6.0" fill="#4169e1"/>
<rect x="441.0" y="1347.0" width="3.0" height="6.0" fill="#e673dc"/>
<rect x="447.0" y="1348.0" width="3.0" height="6.0" fill="#4169e1"/>
<rect x="444.0" y="1351.0" width="3.0" height="6.0" fill="#4169e1"/>
<rect x="447.0" y="1352.0" width="3.0" height="6.0" fill="#4169e1"/>
<rect x="447.0" y="1353.0" width="3.0" height="6.0" fill="#7b9cf0"/>
<rect x="450.0" y="1355.0" width="3.0" height="6.0" fill="#e673dc"/>
<rect x="447.0" y="1356.0" width="3.0" height="6.0" fill="#7b9cf0"/>
<rect x="453.0" y="1358.0" width="3.0" height="6.0" fill="#e673dc"/>
<rect x="450.0" y="1359.0" width="3.0" height="6.0" fill="#e673dc"/>
<rect x="453.0" y="1361.0" width="3.0" height="6.0" fill="#e673dc"/>
<rect x="453.0" y="1361.0" width="3.0" height="6.0" fill="#006400"/>
<rect x="456.0" y="1364.0" width="3.0" height="6.0" fill="#7b9cf0"/>
<rect x="456.0" y="1364.0" width="3.0" height="6.0" fill="#7b9cf0"/>
<rect x="460.0" y="1365.0" width="4.0" height="6.0" fill="#006400"/>
<rect x="456.0" y="1368.0" width="3.0" height="6.0" fill="#006400"/>
<rect x="462.0" y="1367.0" width="4.0" height="6.0" fill="#006400"/>
<rect x="459.0" y="1370.0" width="3.0" height="6.0" fill="#7b9cf0"/>
<rect x="441.0" y="1284.0" width="3.0" height="6.0" fill="#e673dc"/>
<rect x="447.0" y="1283.0" width="3.0" height="6.0" fill="#e673dc"/>
<rect x="452.0" y="1283.0" width="4.0" height="6.0" fill="#e673dc"/>
<rect x="455.2" y="1280.1" width="2.1" height="7.4" fill="#4169e1"/>
<rect x="453.3" y="1288.0" width="1.6" height="5.3" fill="#228b22"/>
<rect x="438.5" y="1324.6" width="3.2" height="4.8" fill="#0000cd"/>
<rect x="444.0" y="1324.9" width="2.7" height="4.2" fill="#228b22"/>
<rect x="479.8" y="1358.7" width="5.3" height="4.0" fill="#ffe600"/>
<rect x="485.4" y="1357.2" width="3.2" height="4.8" fill="#228b22"/>
<rect x="491.5" y="1345.3" width="3.2" height="3.2" fill="#b2b2b2"/>
<rect x="495.1" y="1346.8" width="4.0" height="4.0" fill="#0000cd"/>
<rect x="474.8" y="1365.5" width="2.1" height="5.3" fill="#e673dc"/>
<rect x="510.1" y="1351.9" width="3.2" height="4.8" fill="#ffc800"/>
<rect x="515.0" y="1329.0" width="5.0" height="6.0" fill="#e673dc"/>
<rect x="513.0" y="1332.0" width="5.0" height="6.0" fill="#e673dc"/>
<rect x="513.0" y="1335.0" width="5.0" height="6.0" fill="#e673dc"/>
<rect x="512.0" y="1337.0" width="5.0" height="6.0" fill="#7b9cf0"/>
<rect x="518.0" y="1330.0" width="5.0" height="6.0" fill="#e673dc"/>
<rect x="517.0" y="1334.0" width="5.0" height="6.0" fill="#e673dc"/>
<rect x="516.0" y="1335.0" width="5.0" height="6.0" fill="#e673dc"/>
<rect x="515.0" y="1338.0" width="5.0" height="6.0" fill="#e673dc"/>
<rect x="521.0" y="1332.0" width="5.0" height="6.0" fill="#e673dc"/>
<rect x="520.0" y="1335.0" width="5.0" height="6.0" fill="#7b9cf0"/>
<rect x="519.0" y="1337.0" width="5.0" height="6.0" fill="#e673dc"/>
<rect x="518.0" y="1340.0" width="5.0" height="6.0" fill="#7b9cf0"/>
<rect x="524.0" y="1333.0" width="5.0" height="6.0" fill="#228b22"/>
<rect x="523.0" y="1335.0" width="5.0" height="6.0" fill="#e673dc"/>
<rect x="522.0" y="1339.0" width="5.0" height="6.0" fill="#7b9cf0"/>
<rect x="521.0" y="1342.0" width="5.0" height="6.0" fill="#7b9cf0"/>
<rect x="525.0" y="1332.0" width="5.0" height="6.0" fill="#e673dc"/>
<rect x="525.0" y="1334.0" width="5.0" height="6.0" fill="#ffe600"/>
<rect x="527.0" y="1339.0" width="5.0" height="6.0" fill="#e673dc"/>
<rect x="527.0" y="1340.0" width="5.0" height="6.0" fill="#228b22"/>
<rect x="528.0" y="1331.0" width="5.0" height="6.0" fill="#006400"/>
<rect x="529.0" y="1335.0" width="5.0" height="6.0" fill="#ffe600"/>
<rect x="530.0" y="1337.0" width="5.0" height="6.0" fill="#006400"/>
<rect x="531.0" y="1339.0" width="5.0" height="6.0" fill="#ffe600"/>
<rect x="531.0" y="1331.0" width="5.0" height="6.0" fill="#ffe600"/>
<rect x="532.0" y="1333.0" width="5.0" height="6.0" fill="#006400"/>
<rect x="533.0" y="1336.0" width="5.0" height="6.0" fill="#ffe600"/>
<rect x="534.0" y="1338.0" width="5.0" height="6.0" fill="#ffe600"/>
<rect x="535.0" y="1332.0" width="5.0" height="6.0" fill="#006400"/>
<rect x="536.0" y="1333.0" width="5.0" height="6.0" fill="#ffe600"/>
<rect x="536.0" y="1327.0" width="5.0" height="6.0" fill="#228b22"/>
<rect x="537.0" y="1329.0" width="5.0" height="6.0" fill="#006400"/>
<rect x="539.0" y="1332.0" width="5.0" height="6.0" fill="#228b22"/>
<rect x="541.0" y="1335.0" width="5.0" height="6.0" fill="#ffe600"/>
<rect x="539.0" y="1325.0" width="5.0" height="6.0" fill="#0000cd"/>
<rect x="540.0" y="1327.0" width="5.0" height="6.0" fill="#228b22"/>
<rect x="542.0" y="1329.0" width="5.0" height="6.0" fill="#228b22"/>
<rect x="544.0" y="1332.0" width="5.0" height="6.0" fill="#ffe600"/>
<rect x="542.0" y="1323.0" width="5.0" height="6.0" fill="#228b22"/>
<rect x="544.0" y="1326.0" width="5.0" height="6.0" fill="#ffe600"/>
<rect x="545.0" y="1329.0" width="5.0" height="6.0" fill="#ffe600"/>
<rect x="546.0" y="1330.0" width="5.0" height="6.0" fill="#ffe600"/>
<rect x="544.0" y="1322.0" width="5.0" height="6.0" fill="#0000cd"/>
<rect x="545.0" y="1323.0" width="5.0" height="6.0" fill="#ffe600"/>
<rect x="547.0" y="1325.0" width="5.0" height="6.0" fill="#ffe600"/>
<rect x="549.0" y="1327.0" width="5.0" height="6.0" fill="#0000cd"/>
<rect x="547.0" y="1320.0" width="5.0" height="6.0" fill="#0000cd"/>
<rect x="549.0" y="1322.0" width="5.0" height="6.0" fill="#0000cd"/>
<rect x="551.0" y="1324.0" width="5.0" height="6.0" fill="#228b22"/>
<rect x="551.0" y="1324.0" width="5.0" height="6.0" fill="#228b22"/>
<rect x="549.0" y="1317.0" width="5.0" height="6.0" fill="#228b22"/>
<rect x="551.0" y="1319.0" width="5.0" height="6.0" fill="#228b22"/>
<rect x="552.0" y="1321.0" width="5.0" height="6.0" fill="#006400"/>
<rect x="552.0" y="1316.0" width="5.0" height="5.0" fill="#228b22"/>
<rect x="553.0" y="1317.0" width="5.0" height="5.0" fill="#006400"/>
<rect x="555.0" y="1319.0" width="5.0" height="5.0" fill="#006400"/>
<rect x="557.0" y="1321.0" width="5.0" height="5.0" fill="#0000cd"/>
<rect x="552.0" y="1312.0" width="6.0" height="5.0" fill="#0000cd"/>
<rect x="555.0" y="1315.0" width="6.0" height="5.0" fill="#0000cd"/>
<rect x="557.0" y="1316.0" width="6.0" height="5.0" fill="#0000cd"/>
<rect x="559.0" y="1318.0" width="6.0" height="5.0" fill="#228b22"/>
<rect x="556.0" y="1311.0" width="6.0" height="5.0" fill="#228b22"/>
<rect x="556.0" y="1311.0" width="6.0" height="5.0" fill="#228b22"/>
<rect x="560.0" y="1314.0" width="6.0" height="5.0" fill="#228b22"/>
<rect x="561.0" y="1315.0" width="6.0" height="5.0" fill="#228b22"/>
<rect x="557.0" y="1307.0" width="6.0" height="5.0" fill="#0000cd"/>
<rect x="560.0" y="1310.0" width="6.0" height="5.0" fill="#0000cd"/>
<rect x="562.0" y="1311.0" width="6.0" height="5.0" fill="#228b22"/>
<rect x="564.0" y="1313.0" width="6.0" height="5.0" fill="#228b22"/>
<rect x="561.0" y="1306.0" width="6.0" height="5.0" fill="#ffc800"/>
<rect x="561.0" y="1306.0" width="6.0" height="5.0" fill="#228b22"/>
<rect x="563.0" y="1308.0" width="6.0" height="5.0" fill="#ffc800"/>
<rect x="565.0" y="1310.0" width="6.0" height="5.0" fill="#228b22"/>
<rect x="563.0" y="1303.0" width="6.0" height="5.0" fill="#ffc800"/>
<rect x="564.0" y="1304.0" width="6.0" height="5.0" fill="#228b22"/>
<rect x="567.0" y="1307.0" width="6.0" height="5.0" fill="#ffc800"/>
<rect x="567.0" y="1308.0" width="6.0" height="5.0" fill="#ffe600"/>
<rect x="565.0" y="1300.0" width="6.0" height="5.0" fill="#ffc800"/>
<rect x="567.0" y="1302.0" width="6.0" height="5.0" fill="#ff9600"/>
<rect x="569.0" y="1304.0" width="6.0" height="5.0" fill="#ffc800"/>
<rect x="566.0" y="1297.0" width="6.0" height="5.0" fill="#ff9600"/>
<rect x="569.0" y="1299.0" width="6.0" height="5.0" fill="#ff9600"/>
<rect x="571.0" y="1301.0" width="6.0" height="5.0" fill="#ffe600"/>
<rect x="573.0" y="1304.0" width="6.0" height="5.0" fill="#ffe600"/>
<rect x="569.0" y="1295.0" width="6.0" height="5.0" fill="#228b22"/>
<rect x="572.0" y="1298.0" width="6.0" height="5.0" fill="#ff9600"/>
<rect x="574.0" y="1299.0" width="6.0" height="5.0" fill="#ff9600"/>
<rect x="574.0" y="1300.0" width="6.0" height="5.0" fill="#ffe600"/>
<rect x="573.0" y="1293.0" width="6.0" height="5.0" fill="#228b22"/>
<rect x="574.0" y="1295.0" width="6.0" height="5.0" fill="#228b22"/>
<rect x="575.0" y="1296.0" width="6.0" height="5.0" fill="#ffe600"/>
<rect x="577.0" y="1298.0" width="6.0" height="5.0" fill="#228b22"/>
<rect x="574.0" y="1290.0" width="6.0" height="5.0" fill="#228b22"/>
<rect x="577.0" y="1293.0" width="6.0" height="5.0" fill="#228b22"/>
<rect x="578.0" y="1294.0" width="6.0" height="5.0" fill="#006400"/>
<rect x="579.0" y="1295.0" width="6.0" height="5.0" fill="#ffe600"/>
<rect x="576.0" y="1287.0" width="6.0" height="5.0" fill="#006400"/>
<rect x="578.0" y="1289.0" width="6.0" height="5.0" fill="#006400"/>
<rect x="581.0" y="1292.0" width="6.0" height="5.0" fill="#228b22"/>
<rect x="580.0" y="1286.0" width="6.0" height="5.0" fill="#228b22"/>
<rect x="582.0" y="1288.0" width="6.0" height="5.0" fill="#006400"/>
<rect x="583.0" y="1289.0" width="6.0" height="5.0" fill="#0000cd"/>
<rect x="585.0" y="1291.0" width="6.0" height="5.0" fill="#228b22"/>
<rect x="582.0" y="1284.0" width="6.0" height="5.0" fill="#0000cd"/>
<rect x="583.0" y="1284.0" width="6.0" height="5.0" fill="#228b22"/>
<rect x="586.0" y="1287.0" width="6.0" height="5.0" fill="#228b22"/>
<rect x="583.0" y="1280.0" width="6.0" height="5.0" fill="#0000cd"/>
<rect x="585.0" y="1282.0" width="6.0" height="5.0" fill="#0000cd"/>
<rect x="588.0" y="1284.0" width="6.0" height="5.0" fill="#0000cd"/>
<rect x="590.0" y="1285.0" width="6.0" height="5.0" fill="#0000cd"/>
<rect x="585.0" y="1277.0" width="6.0" height="5.0" fill="#4169e1"/>
<rect x="587.0" y="1279.0" width="6.0" height="5.0" fill="#4169e1"/>
<rect x="590.0" y="1281.0" width="6.0" height="5.0" fill="#4169e1"/>
<rect x="593.0" y="1283.0" width="6.0" height="5.0" fill="#0000cd"/>
<rect x="587.0" y="1275.0" width="6.0" height="5.0" fill="#0000cd"/>
<rect x="590.0" y="1277.0" width="6.0" height="5.0" fill="#228b22"/>
<rect x="591.0" y="1278.0" width="6.0" height="5.0" fill="#228b22"/>
<rect x="593.0" y="1279.0" width="6.0" height="5.0" fill="#0000cd"/>
<rect x="590.0" y="1273.0" width="6.0" height="4.0" fill="#4169e1"/>
<rect x="592.0" y="1274.0" width="6.0" height="4.0" fill="#0000cd"/>
<rect x="593.0" y="1276.0" width="6.0" height="4.0" fill="#4169e1"/>
<rect x="595.0" y="1277.0" width="6.0" height="5.0" fill="#7b9cf0"/>
<rect x="592.0" y="1269.0" width="6.0" height="4.0" fill="#0000cd"/>
<rect x="595.0" y="1273.0" width="6.0" height="4.0" fill="#0000cd"/>
<rect x="596.0" y="1273.0" width="6.0" height="4.0" fill="#4169e1"/>
<rect x="597.0" y="1275.0" width="6.0" height="4.0" fill="#7b9cf0"/>
<rect x="594.0" y="1267.0" width="6.0" height="4.0" fill="#0000cd"/>
<rect x="597.0" y="1270.0" width="6.0" height="4.0" fill="#0000cd"/>
<rect x="598.0" y="1271.0" width="6.0" height="4.0" fill="#7b9cf0"/>
<rect x="600.0" y="1273.0" width="6.0" height="4.0" fill="#7b9cf0"/>
<rect x="597.0" y="1265.0" width="6.0" height="4.0" fill="#0000cd"/>
<rect x="600.0" y="1268.0" width="6.0" height="4.0" fill="#0000cd"/>
<rect x="601.0" y="1269.0" width="6.0" height="4.0" fill="#0000cd"/>
<rect x="603.0" y="1271.0" width="6.0" height="4.0" fill="#0000cd"/>
<rect x="285.2" y="1129.3" width="5.2" height="3.1" fill="#ffc800"/>
<rect x="285.2" y="1133.3" width="5.2" height="1.2" fill="#4169e1"/>
<rect x="293.0" y="1144.9" width="4.2" height="2.6" fill="#e673dc"/>
<rect x="291.2" y="1150.2" width="1.6" height="1.6" fill="#e673dc"/>
<rect x="294.8" y="1152.2" width="2.6" height="1.6" fill="#e673dc"/>
<rect x="298.2" y="1155.7" width="5.2" height="1.5" fill="#228b22"/>
<rect x="298.1" y="1153.8" width="1.2" height="2.6" fill="#228b22"/>
<rect x="304.2" y="1152.2" width="5.2" height="2.1" fill="#ffc800"/>
<rect x="304.0" y="1154.3" width="4.2" height="3.1" fill="#dc2814"/>
<path d="M437.0,1083.7L434.0,1078.4L431.7,1075.4L429.9,1081.4L425.7,1082.9L423.4,1079.9L421.1,1084.4L417.3,1082.9L415.8,1087.5L412.8,1085.2L415.1,1090.5L411.3,1094.3L406.0,1099.6L401.4,1107.2L398.4,1114.7L396.1,1125.4L393.1,1136.0L392.0,1145.8L386.3,1151.9L377.2,1155.7L368.8,1158.7L364.3,1163.2L360.5,1169.6L361.1,1169.9L358.0,1163.1L352.8,1156.9L346.6,1150.6L338.2,1145.4L327.8,1142.3L319.5,1140.7L314.3,1141.8L310.1,1143.3L305.9,1142.3L303.3,1138.1L302.3,1132.9L298.6,1128.7L296.0,1123.5L294.5,1118.3L294.0,1114.2L292.9,1108.4L291.4,1109.5L290.8,1116.2L290.8,1122.5L292.4,1128.7L295.0,1134.0L297.6,1139.2L300.7,1143.3L298.1,1146.5L300.7,1149.6L303.9,1150.6L304.4,1147.0L310.1,1148.0L314.3,1150.6L315.8,1153.7L321.6,1155.3L329.9,1156.9L335.1,1161.0L335.6,1167.3L332.5,1172.5L327.8,1178.7L330.9,1180.8L329.4,1186.0L328.3,1190.2L328.7,1190.2L327.2,1202.3L325.7,1212.9L321.9,1216.0L322.6,1222.8L329.4,1225.0L334.7,1222.8L340.8,1219.0L343.8,1225.0L346.1,1232.6L340.8,1235.7L345.4,1241.7L349.9,1241.7L351.4,1249.3L343.8,1249.3L345.4,1253.8L348.4,1260.7L356.0,1259.9L360.5,1257.6L365.8,1256.9L365.8,1261.4L367.3,1269.0L372.6,1272.0L380.2,1273.5L387.0,1276.6L389.3,1275.0L394.6,1269.7L400.7,1270.5L403.7,1277.3L407.5,1277.3L409.0,1268.2L406.0,1258.4L403.7,1251.6L412.0,1250.8L415.1,1246.3L419.6,1235.7L421.1,1227.3L425.7,1227.3L431.7,1234.1L437.8,1241.0L439.9,1242.9L444.4,1244.0L452.0,1250.8L458.1,1259.9L460.4,1269.0L455.1,1273.5L461.1,1281.1L464.9,1290.2L462.6,1297.8L460.4,1306.9L455.1,1312.9L456.6,1319.0L467.2,1323.5L474.0,1323.5L476.3,1319.7L480.1,1325.8L488.4,1325.0L496.0,1325.8L503.5,1323.5L512.6,1320.5L521.7,1321.3L530.8,1318.2L541.4,1312.9L549.0,1306.9L553.5,1301.6L551.3,1296.3L556.6,1294.0L559.6,1288.7L564.1,1284.1L567.2,1275.0L573.2,1269.0L580.1,1262.9L581.6,1256.9L578.5,1252.3L580.8,1249.3L586.9,1241.7L589.1,1235.7L586.1,1223.5L586.9,1212.9L589.1,1210.2L587.6,1201.1L585.4,1192.0L580.8,1184.4L574.7,1177.6L568.7,1173.1L562.6,1168.5L559.6,1163.2L555.1,1161.0L558.1,1158.7L564.1,1155.7L571.0,1151.1L568.7,1143.5L566.4,1136.0L563.4,1129.1L561.9,1122.3L564.4,1119.3L563.4,1112.5L558.1,1107.2L552.0,1106.4L547.5,1109.9L544.4,1105.7L538.4,1100.8L530.8,1097.8L522.5,1098.8L517.9,1101.4L514.9,1095.8L514.4,1089.0L511.9,1088.2L508.8,1091.3L500.5,1089.0L492.2,1088.2L485.4,1086.7L474.7,1081.4L464.1,1077.2L454.3,1075.0L446.0,1076.6L439.9,1079.9Z" fill="#bebebe" stroke="#000" stroke-width="1.4" stroke-linejoin="round"/>
<path d="M307.5,1155.6L315.8,1153.5L321.6,1155.1L329.9,1156.7L335.3,1160.8L335.9,1167.3L332.8,1172.7L327.8,1173.5L321.6,1175.1L319.0,1173.0L320.5,1165.2L318.4,1162.1L313.2,1160.5L308.5,1157.4Z" fill="#fff"/>
<path d="M309.1,1156.9L313.2,1160.0L319.5,1161.6L321.6,1165.2L320.0,1172.5L321.6,1174.1L327.8,1170.9L332.0,1166.2L332.5,1162.1L328.9,1158.4L321.6,1156.9L313.2,1156.3Z" fill="#bebebe" stroke="#000" stroke-width="1.4" stroke-linejoin="round"/>
<path d="M311.7,1167.8L314.8,1166.2L317.4,1167.8L316.4,1172.0L312.7,1170.9Z" fill="#fff" stroke="#000" stroke-width="1.2" stroke-linejoin="round"/>
<path d="M282.5,1104.8L284.1,1104.8L283.5,1111.0L282.5,1116.2L281.5,1112.1Z" fill="#bebebe" stroke="#000" stroke-width="1.2" stroke-linejoin="round"/>
<path d="M292.9,1103.7L296.6,1103.2L295.0,1106.3L292.4,1106.3Z" fill="#bebebe" stroke="#000" stroke-width="1.2" stroke-linejoin="round"/>
<path d="M294.0,1110.0L298.1,1112.6L296.0,1115.2L294.0,1114.7Z" fill="#bebebe" stroke="#000" stroke-width="1.2" stroke-linejoin="round"/>
<path d="M288.2,1124.6L290.8,1125.1L291.4,1129.8L289.3,1130.8Z" fill="#bebebe" stroke="#000" stroke-width="1.2" stroke-linejoin="round"/>
<path d="M160.6,1082.6L163.4,1087.7L169.1,1090.0L175.4,1087.7L177.1,1084.3L181.0,1085.4L183.9,1090.0L185.6,1095.7L191.3,1100.2L193.0,1105.9L198.1,1109.9L206.0,1110.4L207.2,1112.7L216.3,1111.6L223.1,1108.2L227.6,1104.7L228.2,1109.3L226.5,1115.0L228.8,1118.4L224.8,1121.8L219.7,1127.5L211.7,1132.0L204.9,1135.4L198.1,1137.7L191.3,1137.7L183.3,1135.4L175.4,1134.3L167.4,1130.9L165.1,1128.6L169.7,1128.0L160.6,1122.9L158.3,1129.7L153.8,1125.2L146.9,1120.1L136.7,1129.7L136.7,1107.0L146.9,1084.3Z" fill="#bebebe" stroke="#000" stroke-width="1.4" stroke-linejoin="round"/>
<path d="M220.2,1067.2L223.1,1066.1L224.8,1068.4L223.7,1074.6L220.8,1076.9L219.7,1080.3L216.8,1080.9L218.0,1077.5L215.7,1075.8L218.0,1072.4Z" fill="#bebebe" stroke="#000" stroke-width="1.2" stroke-linejoin="round"/>
<path d="M205.2,1111.3L206.8,1116.9L204.7,1122.0L207.3,1125.9L204.2,1129.7L206.0,1133.5" fill="none" stroke="#000" stroke-width="1.1"/>
<path d="M483.4,1499.7L484.9,1492.2L488.7,1487.6L492.5,1485.7L497.8,1486.1L500.1,1488.4L504.6,1487.6L506.1,1489.1L504.6,1495.6L505.4,1504.3L482.6,1504.3Z" fill="#bebebe" stroke="#000" stroke-width="1.4" stroke-linejoin="round"/>
<path d="M495.1,1482.7L498.5,1479.7L497.8,1485.0Z" fill="#000" stroke="#000" stroke-width="1" stroke-linejoin="round"/>
<path d="M207.3,1125.9L212.4,1123.3L216.2,1120.7" fill="none" stroke="#000" stroke-width="1.1"/>
<path d="M483.4,1499.7L484.9,1492.2L488.7,1487.6L492.5,1485.7L497.8,1486.1L500.1,1488.4L504.6,1487.6L506.1,1489.1L504.6,1495.6L505.4,1504.3L482.6,1504.3Z" fill="#bebebe" stroke="#000" stroke-width="1.4" stroke-linejoin="round"/>
<path d="M495.1,1482.7L498.5,1479.7L497.8,1485.0Z" fill="#000" stroke="#000" stroke-width="1" stroke-linejoin="round"/>
<path d="M204.2,1129.7L211.1,1128.4L217.5,1123.3" fill="none" stroke="#000" stroke-width="1.1"/>
<path d="M483.4,1499.7L484.9,1492.2L488.7,1487.6L492.5,1485.7L497.8,1486.1L500.1,1488.4L504.6,1487.6L506.1,1489.1L504.6,1495.6L505.4,1504.3L482.6,1504.3Z" fill="#bebebe" stroke="#000" stroke-width="1.4" stroke-linejoin="round"/>
<path d="M495.1,1482.7L498.5,1479.7L497.8,1485.0Z" fill="#000" stroke="#000" stroke-width="1" stroke-linejoin="round"/>
<path d="M208.9,1118.2L212.9,1119.7L210.9,1115.2" fill="none" stroke="#000" stroke-width="1.1"/>
<path d="M483.4,1499.7L484.9,1492.2L488.7,1487.6L492.5,1485.7L497.8,1486.1L500.1,1488.4L504.6,1487.6L506.1,1489.1L504.6,1495.6L505.4,1504.3L482.6,1504.3Z" fill="#bebebe" stroke="#000" stroke-width="1.4" stroke-linejoin="round"/>
<path d="M495.1,1482.7L498.5,1479.7L497.8,1485.0Z" fill="#000" stroke="#000" stroke-width="1" stroke-linejoin="round"/>
<path d="M685.8,1105.7L689.6,1105.4L691.5,1103.3L693.8,1103.5L692.2,1106.5L691.5,1108.4L693.6,1112.0L690.4,1112.5L690.0,1111.0L687.1,1109.9L688.5,1108.0Z" fill="#000" stroke="#000" stroke-width="1" stroke-linejoin="round"/>
<path d="M290.9,1015.7L294.3,1013.5L298.1,1012.5L301.5,1013.3L302.6,1016.1L299.6,1015.2L295.1,1015.5Z" fill="#000" stroke="#000" stroke-width="1" stroke-linejoin="round"/>
<path d="M415.8,1261.4L418.8,1262.9L417.3,1270.5L414.3,1269.0Z" fill="#fff" stroke="#000" stroke-width="1.2" stroke-linejoin="round"/>
<path d="M390.1,1275.0L393.8,1274.3L394.6,1277.3L390.8,1278.1Z" fill="#fff" stroke="#000" stroke-width="1.2" stroke-linejoin="round"/>
<path d="M452.0,1279.6L455.8,1278.8L456.6,1281.9L452.8,1281.9Z" fill="#fff" stroke="#000" stroke-width="1.2" stroke-linejoin="round"/>
</g>
<circle cx="437.0" cy="1202.5" r="95.8" fill="none" stroke="#000" stroke-width="1.3" stroke-dasharray="4.6,4.4"/>
<circle cx="437.0" cy="1202.5" r="194.9" fill="none" stroke="#000" stroke-width="1.3" stroke-dasharray="4.6,4.4"/>
<path d="M738.3,1202.5L437.0,1202.5" fill="none" stroke="#000" stroke-width="1.3" stroke-dasharray="4.6,4.4"/>
<path d="M697.9,1353.2L519.9,1250.4" fill="none" stroke="#000" stroke-width="1.3" stroke-dasharray="4.6,4.4"/>
<path d="M587.7,1463.4L484.9,1285.4" fill="none" stroke="#000" stroke-width="1.3" stroke-dasharray="4.6,4.4"/>
<path d="M437.0,1503.8L437.0,1202.5" fill="none" stroke="#000" stroke-width="1.3" stroke-dasharray="4.6,4.4"/>
<path d="M286.4,1463.4L389.1,1285.4" fill="none" stroke="#000" stroke-width="1.3" stroke-dasharray="4.6,4.4"/>
<path d="M176.1,1353.2L354.1,1250.4" fill="none" stroke="#000" stroke-width="1.3" stroke-dasharray="4.6,4.4"/>
<path d="M135.7,1202.5L437.0,1202.5" fill="none" stroke="#000" stroke-width="1.3" stroke-dasharray="4.6,4.4"/>
<path d="M176.1,1051.8L354.1,1154.6" fill="none" stroke="#000" stroke-width="1.3" stroke-dasharray="4.6,4.4"/>
<path d="M286.3,941.6L389.1,1119.6" fill="none" stroke="#000" stroke-width="1.3" stroke-dasharray="4.6,4.4"/>
<path d="M437.0,901.2L437.0,1202.5" fill="none" stroke="#000" stroke-width="1.3" stroke-dasharray="4.6,4.4"/>
<path d="M587.7,941.6L484.9,1119.6" fill="none" stroke="#000" stroke-width="1.3" stroke-dasharray="4.6,4.4"/>
<path d="M697.9,1051.8L519.9,1154.6" fill="none" stroke="#000" stroke-width="1.3" stroke-dasharray="4.6,4.4"/>
<circle cx="437.0" cy="1202.5" r="301.3" fill="none" stroke="#000" stroke-width="1.6"/>
<rect x="783.0" y="906.80" width="36.3" height="39.45" fill="#b2b2b2" stroke="#000" stroke-width="1.2"/>
<rect x="783.0" y="946.25" width="36.3" height="39.45" fill="#8b0000" stroke="#000" stroke-width="1.2"/>
<rect x="783.0" y="985.70" width="36.3" height="39.45" fill="#dc2814" stroke="#000" stroke-width="1.2"/>
<rect x="783.0" y="1025.15" width="36.3" height="39.45" fill="#ff3200" stroke="#000" stroke-width="1.2"/>
<rect x="783.0" y="1064.60" width="36.3" height="39.45" fill="#ff6400" stroke="#000" stroke-width="1.2"/>
<rect x="783.0" y="1104.05" width="36.3" height="39.45" fill="#ff9600" stroke="#000" stroke-width="1.2"/>
<rect x="783.0" y="1143.50" width="36.3" height="39.45" fill="#ffc800" stroke="#000" stroke-width="1.2"/>
<rect x="783.0" y="1182.95" width="36.3" height="39.45" fill="#ffe600" stroke="#000" stroke-width="1.2"/>
<rect x="783.0" y="1222.40" width="36.3" height="39.45" fill="#228b22" stroke="#000" stroke-width="1.2"/>
<rect x="783.0" y="1261.85" width="36.3" height="39.45" fill="#006400" stroke="#000" stroke-width="1.2"/>
<rect x="783.0" y="1301.30" width="36.3" height="39.45" fill="#0000cd" stroke="#000" stroke-width="1.2"/>
<rect x="783.0" y="1340.75" width="36.3" height="39.45" fill="#4169e1" stroke="#000" stroke-width="1.2"/>
<rect x="783.0" y="1380.20" width="36.3" height="39.45" fill="#7b9cf0" stroke="#000" stroke-width="1.2"/>
<rect x="783.0" y="1419.65" width="36.3" height="39.45" fill="#9370db" stroke="#000" stroke-width="1.2"/>
<rect x="783.0" y="1459.10" width="36.3" height="39.45" fill="#e673dc" stroke="#000" stroke-width="1.2"/>
<text transform="translate(852.2,955.0) scale(1.0,1)" font-size="24.3" stroke="#000" stroke-width="0.3" text-anchor="middle">5</text>
<text transform="translate(852.2,994.4) scale(1.0,1)" font-size="24.3" stroke="#000" stroke-width="0.3" text-anchor="middle">4.5</text>
<text transform="translate(852.2,1033.8) scale(1.0,1)" font-size="24.3" stroke="#000" stroke-width="0.3" text-anchor="middle">4</text>
<text transform="translate(852.2,1073.3) scale(1.0,1)" font-size="24.3" stroke="#000" stroke-width="0.3" text-anchor="middle">3.5</text>
<text transform="translate(852.2,1112.8) scale(1.0,1)" font-size="24.3" stroke="#000" stroke-width="0.3" text-anchor="middle">3</text>
<text transform="translate(852.2,1152.2) scale(1.0,1)" font-size="24.3" stroke="#000" stroke-width="0.3" text-anchor="middle">2.5</text>
<text transform="translate(852.2,1191.7) scale(1.0,1)" font-size="24.3" stroke="#000" stroke-width="0.3" text-anchor="middle">2</text>
<text transform="translate(852.2,1231.1) scale(1.0,1)" font-size="24.3" stroke="#000" stroke-width="0.3" text-anchor="middle">1.5</text>
<text transform="translate(852.2,1270.5) scale(1.0,1)" font-size="24.3" stroke="#000" stroke-width="0.3" text-anchor="middle">1</text>
<text transform="translate(852.2,1310.0) scale(1.0,1)" font-size="24.3" stroke="#000" stroke-width="0.3" text-anchor="middle">0.75</text>
<text transform="translate(852.2,1349.5) scale(1.0,1)" font-size="24.3" stroke="#000" stroke-width="0.3" text-anchor="middle">0.5</text>
<text transform="translate(852.2,1388.9) scale(1.0,1)" font-size="24.3" stroke="#000" stroke-width="0.3" text-anchor="middle">0.25</text>
<text transform="translate(852.2,1428.4) scale(1.0,1)" font-size="24.3" stroke="#000" stroke-width="0.3" text-anchor="middle">0.1</text>
<text transform="translate(852.2,1467.8) scale(1.0,1)" font-size="24.3" stroke="#000" stroke-width="0.3" text-anchor="middle">0.05</text>
</svg></body></html>
